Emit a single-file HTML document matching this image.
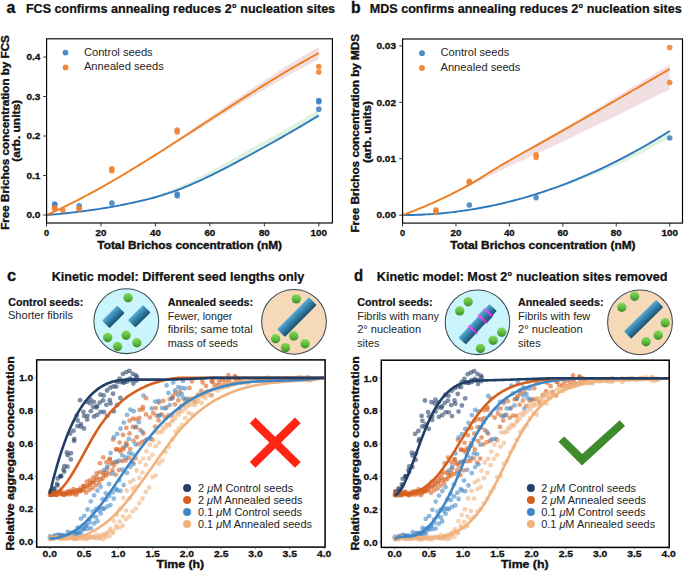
<!DOCTYPE html>
<html><head><meta charset="utf-8"><style>
html,body{margin:0;padding:0;background:#fff;}
svg{display:block;}
text{font-family:"Liberation Sans", sans-serif;}
</style></head><body>
<svg width="685" height="571" viewBox="0 0 685 571">
<rect width="685" height="571" fill="#fff"/>
<defs>
<linearGradient id="gball" x1="0" y1="0" x2="0" y2="1">
<stop offset="0" stop-color="#86d95c"/><stop offset="0.55" stop-color="#5dbb3e"/><stop offset="1" stop-color="#3b8a27"/>
</linearGradient>
<linearGradient id="gfib" x1="0" y1="0" x2="0" y2="1">
<stop offset="0" stop-color="#58aad2"/><stop offset="0.45" stop-color="#3583ac"/><stop offset="1" stop-color="#1b516d"/>
</linearGradient>
<linearGradient id="gmag" x1="0" y1="0" x2="0" y2="1">
<stop offset="0" stop-color="#f25cf8"/><stop offset="0.5" stop-color="#e63ff0"/><stop offset="1" stop-color="#b52ac8"/>
</linearGradient>
</defs>
<path d="M46.50,215.00 L49.22,213.80 L51.95,212.57 L54.67,211.33 L57.39,210.07 L60.11,208.79 L62.84,207.49 L65.56,206.17 L68.28,204.84 L71.01,203.48 L73.73,202.12 L76.45,200.73 L79.18,199.33 L81.90,197.91 L84.62,196.48 L87.34,195.03 L90.07,193.57 L92.79,192.09 L95.51,190.60 L98.24,189.10 L100.96,187.58 L103.68,186.05 L106.41,184.50 L109.13,182.95 L111.85,181.38 L114.58,179.80 L117.30,178.20 L120.02,176.60 L122.74,174.99 L125.47,173.36 L128.19,171.73 L130.91,170.00 L133.64,168.25 L136.36,166.50 L139.08,164.74 L141.81,162.97 L144.53,161.20 L147.25,159.41 L149.97,157.62 L152.70,155.82 L155.42,154.02 L158.14,152.20 L160.87,150.39 L163.59,148.56 L166.31,146.74 L169.03,144.90 L171.76,143.07 L174.48,141.22 L177.20,139.38 L179.93,137.53 L182.65,135.68 L185.37,133.82 L188.10,131.97 L190.82,130.11 L193.54,128.25 L196.26,126.39 L198.99,124.52 L201.71,122.66 L204.43,120.79 L207.16,118.93 L209.88,117.07 L212.60,115.20 L215.33,113.34 L218.05,111.48 L220.77,109.62 L223.50,107.76 L226.22,105.91 L228.94,104.06 L231.66,102.21 L234.39,100.36 L237.11,98.52 L239.83,96.68 L242.56,94.85 L245.28,93.02 L248.00,91.20 L250.72,89.38 L253.45,87.57 L256.17,85.76 L258.89,83.96 L261.62,82.17 L264.34,80.39 L267.06,78.61 L269.79,76.84 L272.51,75.08 L275.23,73.33 L277.95,71.58 L280.68,69.85 L283.40,68.12 L286.12,66.41 L288.85,64.70 L291.57,63.01 L294.29,61.33 L297.02,59.65 L299.74,57.99 L302.46,56.35 L305.19,54.71 L307.91,53.09 L310.63,51.48 L313.35,49.88 L316.08,48.30 L318.80,46.73 L318.80,59.37 L316.08,60.76 L313.35,62.16 L310.63,63.58 L307.91,65.01 L305.19,66.45 L302.46,67.90 L299.74,69.37 L297.02,70.85 L294.29,72.34 L291.57,73.84 L288.85,75.36 L286.12,76.88 L283.40,78.41 L280.68,79.96 L277.95,81.51 L275.23,83.08 L272.51,84.65 L269.79,86.23 L267.06,87.82 L264.34,89.42 L261.62,91.02 L258.89,92.63 L256.17,94.25 L253.45,95.88 L250.72,97.51 L248.00,99.14 L245.28,100.79 L242.56,102.43 L239.83,104.09 L237.11,105.74 L234.39,107.40 L231.66,109.07 L228.94,110.74 L226.22,112.41 L223.50,114.08 L220.77,115.76 L218.05,117.44 L215.33,119.12 L212.60,120.80 L209.88,122.48 L207.16,124.17 L204.43,125.85 L201.71,127.53 L198.99,129.22 L196.26,130.90 L193.54,132.58 L190.82,134.26 L188.10,135.94 L185.37,137.62 L182.65,139.29 L179.93,140.96 L177.20,142.63 L174.48,144.29 L171.76,145.96 L169.03,147.61 L166.31,149.26 L163.59,150.91 L160.87,152.55 L158.14,154.19 L155.42,155.82 L152.70,157.45 L149.97,159.06 L147.25,160.67 L144.53,162.28 L141.81,163.87 L139.08,165.46 L136.36,167.04 L133.64,168.61 L130.91,170.18 L128.19,171.73 L125.47,173.36 L122.74,174.99 L120.02,176.60 L117.30,178.20 L114.58,179.80 L111.85,181.38 L109.13,182.95 L106.41,184.50 L103.68,186.05 L100.96,187.58 L98.24,189.10 L95.51,190.60 L92.79,192.09 L90.07,193.57 L87.34,195.03 L84.62,196.48 L81.90,197.91 L79.18,199.33 L76.45,200.73 L73.73,202.12 L71.01,203.48 L68.28,204.84 L65.56,206.17 L62.84,207.49 L60.11,208.79 L57.39,210.07 L54.67,211.33 L51.95,212.57 L49.22,213.80 L46.50,215.00 Z" fill="#f2dfe2" stroke="none"/>
<path d="M46.50,215.00 L49.22,214.79 L51.95,214.57 L54.67,214.34 L57.39,214.09 L60.11,213.83 L62.84,213.56 L65.56,213.27 L68.28,212.97 L71.01,212.67 L73.73,212.35 L76.45,212.02 L79.18,211.68 L81.90,211.33 L84.62,210.98 L87.34,210.61 L90.07,210.24 L92.79,209.86 L95.51,209.47 L98.24,209.07 L100.96,208.65 L103.68,208.22 L106.41,207.78 L109.13,207.32 L111.85,206.84 L114.58,206.35 L117.30,205.84 L120.02,205.32 L122.74,204.79 L125.47,204.24 L128.19,203.68 L130.91,203.10 L133.64,202.51 L136.36,201.91 L139.08,201.29 L141.81,200.21 L144.53,199.29 L147.25,198.39 L149.97,197.50 L152.70,196.60 L155.42,195.67 L158.14,194.71 L160.87,193.71 L163.59,192.69 L166.31,191.64 L169.03,190.57 L171.76,189.48 L174.48,188.37 L177.20,187.25 L179.93,186.11 L182.65,184.92 L185.37,183.69 L188.10,182.42 L190.82,181.13 L193.54,179.81 L196.26,178.47 L198.99,177.11 L201.71,175.74 L204.43,174.35 L207.16,172.94 L209.88,171.51 L212.60,170.06 L215.33,168.60 L218.05,167.11 L220.77,165.62 L223.50,164.10 L226.22,162.58 L228.94,161.04 L231.66,159.50 L234.39,157.94 L237.11,156.38 L239.83,154.80 L242.56,153.23 L245.28,151.64 L248.00,150.06 L250.72,148.57 L253.45,147.08 L256.17,145.59 L258.89,144.10 L261.62,142.61 L264.34,141.11 L267.06,139.61 L269.79,138.09 L272.51,136.57 L275.23,135.04 L277.95,133.50 L280.68,131.96 L283.40,130.40 L286.12,128.84 L288.85,127.27 L291.57,125.70 L294.29,124.11 L297.02,122.52 L299.74,120.93 L302.46,119.32 L305.19,117.71 L307.91,116.09 L310.63,114.46 L313.35,112.82 L316.08,111.18 L318.80,109.53 L318.80,117.04 L316.08,118.69 L313.35,120.33 L310.63,121.96 L307.91,123.59 L305.19,125.21 L302.46,126.82 L299.74,128.43 L297.02,130.03 L294.29,131.62 L291.57,133.20 L288.85,134.78 L286.12,136.35 L283.40,137.91 L280.68,139.46 L277.95,141.01 L275.23,142.55 L272.51,144.08 L269.79,145.60 L267.06,147.11 L264.34,148.62 L261.62,150.12 L258.89,151.61 L256.17,153.10 L253.45,154.59 L250.72,156.07 L248.00,157.56 L245.28,159.04 L242.56,160.52 L239.83,161.95 L237.11,163.38 L234.39,164.80 L231.66,166.21 L228.94,167.60 L226.22,168.99 L223.50,170.36 L220.77,171.72 L218.05,173.07 L215.33,174.40 L212.60,175.71 L209.88,177.00 L207.16,178.27 L204.43,179.52 L201.71,180.75 L198.99,181.96 L196.26,183.15 L193.54,184.33 L190.82,185.48 L188.10,186.60 L185.37,187.69 L182.65,188.75 L179.93,189.76 L177.20,190.73 L174.48,191.66 L171.76,192.58 L169.03,193.48 L166.31,194.36 L163.59,195.21 L160.87,196.03 L158.14,196.81 L155.42,197.56 L152.70,198.26 L149.97,198.92 L147.25,199.56 L144.53,200.17 L141.81,200.78 L139.08,201.37 L136.36,201.95 L133.64,202.51 L130.91,203.10 L128.19,203.68 L125.47,204.24 L122.74,204.79 L120.02,205.32 L117.30,205.84 L114.58,206.35 L111.85,206.84 L109.13,207.32 L106.41,207.78 L103.68,208.22 L100.96,208.65 L98.24,209.07 L95.51,209.47 L92.79,209.86 L90.07,210.24 L87.34,210.61 L84.62,210.98 L81.90,211.33 L79.18,211.68 L76.45,212.02 L73.73,212.35 L71.01,212.67 L68.28,212.97 L65.56,213.27 L62.84,213.56 L60.11,213.83 L57.39,214.09 L54.67,214.34 L51.95,214.57 L49.22,214.79 L46.50,215.00 Z" fill="#e0f3e1" stroke="none"/>
<path d="M46.50,215.00 L49.22,214.79 L51.95,214.57 L54.67,214.34 L57.39,214.09 L60.11,213.83 L62.84,213.56 L65.56,213.27 L68.28,212.97 L71.01,212.67 L73.73,212.35 L76.45,212.02 L79.18,211.68 L81.90,211.33 L84.62,210.98 L87.34,210.61 L90.07,210.24 L92.79,209.86 L95.51,209.47 L98.24,209.07 L100.96,208.65 L103.68,208.22 L106.41,207.78 L109.13,207.32 L111.85,206.84 L114.58,206.35 L117.30,205.84 L120.02,205.32 L122.74,204.79 L125.47,204.24 L128.19,203.68 L130.91,203.10 L133.64,202.51 L136.36,201.91 L139.08,201.29 L141.81,200.66 L144.53,200.02 L147.25,199.36 L149.97,198.69 L152.70,197.99 L155.42,197.24 L158.14,196.45 L160.87,195.63 L163.59,194.77 L166.31,193.89 L169.03,192.97 L171.76,192.03 L174.48,191.07 L177.20,190.10 L179.93,189.09 L182.65,188.04 L185.37,186.94 L188.10,185.81 L190.82,184.65 L193.54,183.46 L196.26,182.24 L198.99,181.01 L201.71,179.77 L204.43,178.50 L207.16,177.21 L209.88,175.89 L212.60,174.56 L215.33,173.21 L218.05,171.84 L220.77,170.46 L223.50,169.06 L226.22,167.65 L228.94,166.22 L231.66,164.78 L234.39,163.34 L237.11,161.88 L239.83,160.41 L242.56,158.94 L245.28,157.46 L248.00,155.98 L250.72,154.49 L253.45,153.01 L256.17,151.52 L258.89,150.03 L261.62,148.54 L264.34,147.04 L267.06,145.53 L269.79,144.02 L272.51,142.50 L275.23,140.97 L277.95,139.43 L280.68,137.88 L283.40,136.33 L286.12,134.77 L288.85,133.20 L291.57,131.62 L294.29,130.04 L297.02,128.45 L299.74,126.85 L302.46,125.24 L305.19,123.63 L307.91,122.01 L310.63,120.38 L313.35,118.75 L316.08,117.11 L318.80,115.46" fill="none" stroke="#2f78bd" stroke-width="1.9" stroke-linejoin="round"/>
<path d="M46.50,215.00 L49.22,213.80 L51.95,212.57 L54.67,211.33 L57.39,210.07 L60.11,208.79 L62.84,207.49 L65.56,206.17 L68.28,204.84 L71.01,203.48 L73.73,202.12 L76.45,200.73 L79.18,199.33 L81.90,197.91 L84.62,196.48 L87.34,195.03 L90.07,193.57 L92.79,192.09 L95.51,190.60 L98.24,189.10 L100.96,187.58 L103.68,186.05 L106.41,184.50 L109.13,182.95 L111.85,181.38 L114.58,179.80 L117.30,178.20 L120.02,176.60 L122.74,174.99 L125.47,173.36 L128.19,171.73 L130.91,170.09 L133.64,168.43 L136.36,166.77 L139.08,165.10 L141.81,163.42 L144.53,161.74 L147.25,160.04 L149.97,158.34 L152.70,156.63 L155.42,154.92 L158.14,153.20 L160.87,151.47 L163.59,149.74 L166.31,148.00 L169.03,146.26 L171.76,144.51 L174.48,142.76 L177.20,141.00 L179.93,139.25 L182.65,137.48 L185.37,135.72 L188.10,133.95 L190.82,132.19 L193.54,130.41 L196.26,128.64 L198.99,126.87 L201.71,125.10 L204.43,123.32 L207.16,121.55 L209.88,119.77 L212.60,118.00 L215.33,116.23 L218.05,114.46 L220.77,112.69 L223.50,110.92 L226.22,109.16 L228.94,107.40 L231.66,105.64 L234.39,103.88 L237.11,102.13 L239.83,100.38 L242.56,98.64 L245.28,96.90 L248.00,95.17 L250.72,93.44 L253.45,91.72 L256.17,90.01 L258.89,88.30 L261.62,86.60 L264.34,84.90 L267.06,83.21 L269.79,81.53 L272.51,79.86 L275.23,78.20 L277.95,76.55 L280.68,74.90 L283.40,73.27 L286.12,71.64 L288.85,70.03 L291.57,68.43 L294.29,66.83 L297.02,65.25 L299.74,63.68 L302.46,62.12 L305.19,60.58 L307.91,59.05 L310.63,57.53 L313.35,56.02 L316.08,54.53 L318.80,53.05" fill="none" stroke="#ee7d1f" stroke-width="1.9" stroke-linejoin="round"/>
<circle cx="54.67" cy="203.94" r="2.8" fill="#3f84c2" fill-opacity="0.88"/>
<circle cx="54.67" cy="205.12" r="2.8" fill="#3f84c2" fill-opacity="0.88"/>
<circle cx="79.18" cy="205.91" r="2.8" fill="#3f84c2" fill-opacity="0.88"/>
<circle cx="111.85" cy="203.15" r="2.8" fill="#3f84c2" fill-opacity="0.88"/>
<circle cx="177.20" cy="194.06" r="2.8" fill="#3f84c2" fill-opacity="0.88"/>
<circle cx="177.20" cy="195.65" r="2.8" fill="#3f84c2" fill-opacity="0.88"/>
<circle cx="318.80" cy="100.45" r="2.8" fill="#3f84c2" fill-opacity="0.88"/>
<circle cx="318.80" cy="101.64" r="2.8" fill="#3f84c2" fill-opacity="0.88"/>
<circle cx="318.80" cy="109.14" r="2.8" fill="#3f84c2" fill-opacity="0.88"/>
<circle cx="54.67" cy="207.89" r="2.8" fill="#ef8130" fill-opacity="0.88"/>
<circle cx="54.67" cy="208.68" r="2.8" fill="#ef8130" fill-opacity="0.88"/>
<circle cx="62.84" cy="210.26" r="2.8" fill="#ef8130" fill-opacity="0.88"/>
<circle cx="79.18" cy="208.28" r="2.8" fill="#ef8130" fill-opacity="0.88"/>
<circle cx="79.18" cy="209.07" r="2.8" fill="#ef8130" fill-opacity="0.88"/>
<circle cx="111.85" cy="168.78" r="2.8" fill="#ef8130" fill-opacity="0.88"/>
<circle cx="111.85" cy="170.76" r="2.8" fill="#ef8130" fill-opacity="0.88"/>
<circle cx="177.20" cy="130.07" r="2.8" fill="#ef8130" fill-opacity="0.88"/>
<circle cx="177.20" cy="132.05" r="2.8" fill="#ef8130" fill-opacity="0.88"/>
<circle cx="318.80" cy="66.48" r="2.8" fill="#ef8130" fill-opacity="0.88"/>
<circle cx="318.80" cy="72.01" r="2.8" fill="#ef8130" fill-opacity="0.88"/>
<rect x="46.60" y="38.80" width="285.80" height="184.20" fill="none" stroke="#000" stroke-width="1.15"/>
<line x1="43.20" y1="215.00" x2="46.60" y2="215.00" stroke="#000" stroke-width="0.8"/>
<text x="40.30" y="218.30" font-size="8.6" font-weight="bold" textLength="13.9" lengthAdjust="spacingAndGlyphs" text-anchor="end" fill="#111" stroke="#111" stroke-width="0.3">0.0</text>
<line x1="43.20" y1="175.50" x2="46.60" y2="175.50" stroke="#000" stroke-width="0.8"/>
<text x="40.30" y="178.80" font-size="8.6" font-weight="bold" textLength="13.9" lengthAdjust="spacingAndGlyphs" text-anchor="end" fill="#111" stroke="#111" stroke-width="0.3">0.1</text>
<line x1="43.20" y1="136.00" x2="46.60" y2="136.00" stroke="#000" stroke-width="0.8"/>
<text x="40.30" y="139.30" font-size="8.6" font-weight="bold" textLength="13.9" lengthAdjust="spacingAndGlyphs" text-anchor="end" fill="#111" stroke="#111" stroke-width="0.3">0.2</text>
<line x1="43.20" y1="96.50" x2="46.60" y2="96.50" stroke="#000" stroke-width="0.8"/>
<text x="40.30" y="99.80" font-size="8.6" font-weight="bold" textLength="13.9" lengthAdjust="spacingAndGlyphs" text-anchor="end" fill="#111" stroke="#111" stroke-width="0.3">0.3</text>
<line x1="43.20" y1="57.00" x2="46.60" y2="57.00" stroke="#000" stroke-width="0.8"/>
<text x="40.30" y="60.30" font-size="8.6" font-weight="bold" textLength="13.9" lengthAdjust="spacingAndGlyphs" text-anchor="end" fill="#111" stroke="#111" stroke-width="0.3">0.4</text>
<line x1="46.50" y1="223.00" x2="46.50" y2="226.40" stroke="#000" stroke-width="0.8"/>
<text x="46.50" y="235.90" font-size="8.6" font-weight="bold" textLength="5.1" lengthAdjust="spacingAndGlyphs" text-anchor="middle" fill="#111" stroke="#111" stroke-width="0.3">0</text>
<line x1="100.96" y1="223.00" x2="100.96" y2="226.40" stroke="#000" stroke-width="0.8"/>
<text x="100.96" y="235.90" font-size="8.6" font-weight="bold" textLength="10.8" lengthAdjust="spacingAndGlyphs" text-anchor="middle" fill="#111" stroke="#111" stroke-width="0.3">20</text>
<line x1="155.42" y1="223.00" x2="155.42" y2="226.40" stroke="#000" stroke-width="0.8"/>
<text x="155.42" y="235.90" font-size="8.6" font-weight="bold" textLength="10.8" lengthAdjust="spacingAndGlyphs" text-anchor="middle" fill="#111" stroke="#111" stroke-width="0.3">40</text>
<line x1="209.88" y1="223.00" x2="209.88" y2="226.40" stroke="#000" stroke-width="0.8"/>
<text x="209.88" y="235.90" font-size="8.6" font-weight="bold" textLength="10.8" lengthAdjust="spacingAndGlyphs" text-anchor="middle" fill="#111" stroke="#111" stroke-width="0.3">60</text>
<line x1="264.34" y1="223.00" x2="264.34" y2="226.40" stroke="#000" stroke-width="0.8"/>
<text x="264.34" y="235.90" font-size="8.6" font-weight="bold" textLength="10.8" lengthAdjust="spacingAndGlyphs" text-anchor="middle" fill="#111" stroke="#111" stroke-width="0.3">80</text>
<line x1="318.80" y1="223.00" x2="318.80" y2="226.40" stroke="#000" stroke-width="0.8"/>
<text x="318.80" y="235.90" font-size="8.6" font-weight="bold" textLength="16.5" lengthAdjust="spacingAndGlyphs" text-anchor="middle" fill="#111" stroke="#111" stroke-width="0.3">100</text>
<text x="97.30" y="248.60" font-size="10" font-weight="bold" textLength="184.7" lengthAdjust="spacingAndGlyphs" fill="#111" stroke="#111" stroke-width="0.35">Total Brichos concentration (nM)</text>
<text transform="translate(9.00,132.50) rotate(-90)" x="0" y="0" font-size="10" font-weight="bold" stroke="#111" stroke-width="0.35" textLength="194.6" lengthAdjust="spacingAndGlyphs" text-anchor="middle" fill="#111">Free Brichos concentration by FCS</text>
<text transform="translate(19.50,130.80) rotate(-90)" x="0" y="0" font-size="10" font-weight="bold" stroke="#111" stroke-width="0.35" textLength="61.8" lengthAdjust="spacingAndGlyphs" text-anchor="middle" fill="#111">(arb. units)</text>
<circle cx="65.5" cy="52.6" r="2.9" fill="#4a8cc6"/>
<circle cx="65.5" cy="67.4" r="2.9" fill="#f0883a"/>
<text x="83.90" y="55.50" font-size="10" textLength="68.8" lengthAdjust="spacingAndGlyphs" fill="#262626">Control seeds</text>
<text x="83.90" y="70.10" font-size="10" textLength="79.9" lengthAdjust="spacingAndGlyphs" fill="#262626">Annealed seeds</text>
<path d="M402.50,215.10 L405.17,214.14 L407.84,213.15 L410.52,212.14 L413.19,211.11 L415.86,210.06 L418.53,208.98 L421.20,207.88 L423.88,206.77 L426.55,205.63 L429.22,204.48 L431.89,203.31 L434.56,202.12 L437.24,200.92 L439.91,199.70 L442.58,198.46 L445.25,197.19 L447.92,195.89 L450.60,194.57 L453.27,193.22 L455.94,191.84 L458.61,190.44 L461.28,189.02 L463.96,187.58 L466.63,186.12 L469.30,184.64 L471.97,183.07 L474.64,181.45 L477.32,179.78 L479.99,178.09 L482.66,176.37 L485.33,174.63 L488.00,172.90 L490.68,171.16 L493.35,169.44 L496.02,167.75 L498.69,166.08 L501.36,164.45 L504.04,162.83 L506.71,161.23 L509.38,159.64 L512.05,158.06 L514.72,156.48 L517.40,154.92 L520.07,153.36 L522.74,151.80 L525.41,150.25 L528.08,148.71 L530.76,147.17 L533.43,145.62 L536.10,144.09 L538.77,142.55 L541.44,141.00 L544.12,139.46 L546.79,137.92 L549.46,136.37 L552.13,134.81 L554.80,133.25 L557.48,131.68 L560.15,130.11 L562.82,128.53 L565.49,126.95 L568.16,125.37 L570.84,123.78 L573.51,122.20 L576.18,120.62 L578.85,119.03 L581.52,117.45 L584.20,115.86 L586.87,114.27 L589.54,112.68 L592.21,111.09 L594.88,109.50 L597.56,107.91 L600.23,106.32 L602.90,104.72 L605.57,103.13 L608.24,101.53 L610.92,99.94 L613.59,98.34 L616.26,96.74 L618.93,95.14 L621.60,93.54 L624.28,91.94 L626.95,90.33 L629.62,88.73 L632.29,87.12 L634.96,85.51 L637.64,83.91 L640.31,82.30 L642.98,80.69 L645.65,79.08 L648.32,77.46 L651.00,75.85 L653.67,74.23 L656.34,72.62 L659.01,71.00 L661.68,69.38 L664.36,67.76 L667.03,66.14 L669.70,64.51 L669.70,89.33 L667.03,90.66 L664.36,92.00 L661.68,93.33 L659.01,94.66 L656.34,95.98 L653.67,97.31 L651.00,98.64 L648.32,99.96 L645.65,101.28 L642.98,102.60 L640.31,103.92 L637.64,105.24 L634.96,106.55 L632.29,107.87 L629.62,109.18 L626.95,110.49 L624.28,111.80 L621.60,113.11 L618.93,114.42 L616.26,115.72 L613.59,117.02 L610.92,118.33 L608.24,119.63 L605.57,120.93 L602.90,122.22 L600.23,123.52 L597.56,124.82 L594.88,126.11 L592.21,127.40 L589.54,128.69 L586.87,129.98 L584.20,131.27 L581.52,132.55 L578.85,133.84 L576.18,135.12 L573.51,136.40 L570.84,137.68 L568.16,138.96 L565.49,140.24 L562.82,141.51 L560.15,142.79 L557.48,144.06 L554.80,145.32 L552.13,146.57 L549.46,147.82 L546.79,149.06 L544.12,150.30 L541.44,151.53 L538.77,152.76 L536.10,153.99 L533.43,155.21 L530.76,156.44 L528.08,157.67 L525.41,158.90 L522.74,160.13 L520.07,161.37 L517.40,162.61 L514.72,163.86 L512.05,165.11 L509.38,166.37 L506.71,167.64 L504.04,168.92 L501.36,170.21 L498.69,171.51 L496.02,172.85 L493.35,174.22 L490.68,175.60 L488.00,177.00 L485.33,178.40 L482.66,179.79 L479.99,181.17 L477.32,182.52 L474.64,183.83 L471.97,185.10 L469.30,186.32 L466.63,187.49 L463.96,188.64 L461.28,189.76 L458.61,190.84 L455.94,191.84 L453.27,193.22 L450.60,194.57 L447.92,195.89 L445.25,197.19 L442.58,198.46 L439.91,199.70 L437.24,200.92 L434.56,202.12 L431.89,203.31 L429.22,204.48 L426.55,205.63 L423.88,206.77 L421.20,207.88 L418.53,208.98 L415.86,210.06 L413.19,211.11 L410.52,212.14 L407.84,213.15 L405.17,214.14 L402.50,215.10 Z" fill="#f2dfe2" stroke="none"/>
<path d="M402.50,215.10 L405.17,215.09 L407.84,215.07 L410.52,215.02 L413.19,214.97 L415.86,214.89 L418.53,214.80 L421.20,214.69 L423.88,214.56 L426.55,214.42 L429.22,214.26 L431.89,214.08 L434.56,213.89 L437.24,213.68 L439.91,213.45 L442.58,213.21 L445.25,212.95 L447.92,212.67 L450.60,212.38 L453.27,212.07 L455.94,211.74 L458.61,211.39 L461.28,211.03 L463.96,210.65 L466.63,210.26 L469.30,209.85 L471.97,209.42 L474.64,208.97 L477.32,208.51 L479.99,208.03 L482.66,207.54 L485.33,207.02 L488.00,206.49 L490.68,205.95 L493.35,205.39 L496.02,204.81 L498.69,204.21 L501.36,203.60 L504.04,202.97 L506.71,202.32 L509.38,201.65 L512.05,200.97 L514.72,200.28 L517.40,199.56 L520.07,198.83 L522.74,198.08 L525.41,197.32 L528.08,196.54 L530.76,195.74 L533.43,194.92 L536.10,194.09 L538.77,193.22 L541.44,192.33 L544.12,191.43 L546.79,190.50 L549.46,189.57 L552.13,188.61 L554.80,187.64 L557.48,186.65 L560.15,185.64 L562.82,184.62 L565.49,183.58 L568.16,182.53 L570.84,181.45 L573.51,180.36 L576.18,179.26 L578.85,178.13 L581.52,176.99 L584.20,175.84 L586.87,174.66 L589.54,173.47 L592.21,172.26 L594.88,171.04 L597.56,169.80 L600.23,168.54 L602.90,167.27 L605.57,165.97 L608.24,164.67 L610.92,163.34 L613.59,162.00 L616.26,160.64 L618.93,159.26 L621.60,157.87 L624.28,156.46 L626.95,155.04 L629.62,153.59 L632.29,152.13 L634.96,150.66 L637.64,149.17 L640.31,147.66 L642.98,146.13 L645.65,144.58 L648.32,143.02 L651.00,141.45 L653.67,139.85 L656.34,138.24 L659.01,136.61 L661.68,134.97 L664.36,133.31 L667.03,131.63 L669.70,129.94 L669.70,137.83 L667.03,139.37 L664.36,140.89 L661.68,142.39 L659.01,143.88 L656.34,145.35 L653.67,146.80 L651.00,148.24 L648.32,149.66 L645.65,151.06 L642.98,152.45 L640.31,153.81 L637.64,155.17 L634.96,156.50 L632.29,157.82 L629.62,159.12 L626.95,160.41 L624.28,161.67 L621.60,162.93 L618.93,164.16 L616.26,165.38 L613.59,166.58 L610.92,167.76 L608.24,168.93 L605.57,170.08 L602.90,171.21 L600.23,172.33 L597.56,173.43 L594.88,174.51 L592.21,175.58 L589.54,176.63 L586.87,177.66 L584.20,178.68 L581.52,179.68 L578.85,180.66 L576.18,181.63 L573.51,182.57 L570.84,183.51 L568.16,184.42 L565.49,185.32 L562.82,186.20 L560.15,187.07 L557.48,187.91 L554.80,188.74 L552.13,189.56 L549.46,190.36 L546.79,191.14 L544.12,191.90 L541.44,192.65 L538.77,193.38 L536.10,194.09 L533.43,194.92 L530.76,195.74 L528.08,196.54 L525.41,197.32 L522.74,198.08 L520.07,198.83 L517.40,199.56 L514.72,200.28 L512.05,200.97 L509.38,201.65 L506.71,202.32 L504.04,202.97 L501.36,203.60 L498.69,204.21 L496.02,204.81 L493.35,205.39 L490.68,205.95 L488.00,206.49 L485.33,207.02 L482.66,207.54 L479.99,208.03 L477.32,208.51 L474.64,208.97 L471.97,209.42 L469.30,209.85 L466.63,210.26 L463.96,210.65 L461.28,211.03 L458.61,211.39 L455.94,211.74 L453.27,212.07 L450.60,212.38 L447.92,212.67 L445.25,212.95 L442.58,213.21 L439.91,213.45 L437.24,213.68 L434.56,213.89 L431.89,214.08 L429.22,214.26 L426.55,214.42 L423.88,214.56 L421.20,214.69 L418.53,214.80 L415.86,214.89 L413.19,214.97 L410.52,215.02 L407.84,215.07 L405.17,215.09 L402.50,215.10 Z" fill="#e0f3e1" stroke="none"/>
<path d="M402.50,215.10 L405.17,215.09 L407.84,215.07 L410.52,215.02 L413.19,214.97 L415.86,214.89 L418.53,214.80 L421.20,214.69 L423.88,214.56 L426.55,214.42 L429.22,214.26 L431.89,214.08 L434.56,213.89 L437.24,213.68 L439.91,213.45 L442.58,213.21 L445.25,212.95 L447.92,212.67 L450.60,212.38 L453.27,212.07 L455.94,211.74 L458.61,211.39 L461.28,211.03 L463.96,210.65 L466.63,210.26 L469.30,209.85 L471.97,209.42 L474.64,208.97 L477.32,208.51 L479.99,208.03 L482.66,207.54 L485.33,207.02 L488.00,206.49 L490.68,205.95 L493.35,205.39 L496.02,204.81 L498.69,204.21 L501.36,203.60 L504.04,202.97 L506.71,202.32 L509.38,201.65 L512.05,200.97 L514.72,200.28 L517.40,199.56 L520.07,198.83 L522.74,198.08 L525.41,197.32 L528.08,196.54 L530.76,195.74 L533.43,194.92 L536.10,194.09 L538.77,193.24 L541.44,192.38 L544.12,191.49 L546.79,190.60 L549.46,189.68 L552.13,188.75 L554.80,187.80 L557.48,186.83 L560.15,185.85 L562.82,184.85 L565.49,183.83 L568.16,182.80 L570.84,181.75 L573.51,180.68 L576.18,179.59 L578.85,178.49 L581.52,177.38 L584.20,176.24 L586.87,175.09 L589.54,173.92 L592.21,172.74 L594.88,171.54 L597.56,170.32 L600.23,169.08 L602.90,167.83 L605.57,166.56 L608.24,165.28 L610.92,163.97 L613.59,162.65 L616.26,161.32 L618.93,159.96 L621.60,158.59 L624.28,157.21 L626.95,155.80 L629.62,154.38 L632.29,152.95 L634.96,151.49 L637.64,150.02 L640.31,148.54 L642.98,147.03 L645.65,145.51 L648.32,143.97 L651.00,142.42 L653.67,140.85 L656.34,139.26 L659.01,137.65 L661.68,136.03 L664.36,134.39 L667.03,132.74 L669.70,131.06" fill="none" stroke="#2f78bd" stroke-width="1.9" stroke-linejoin="round"/>
<path d="M402.50,215.10 L405.17,214.14 L407.84,213.15 L410.52,212.14 L413.19,211.11 L415.86,210.06 L418.53,208.98 L421.20,207.88 L423.88,206.77 L426.55,205.63 L429.22,204.48 L431.89,203.31 L434.56,202.12 L437.24,200.92 L439.91,199.70 L442.58,198.46 L445.25,197.19 L447.92,195.89 L450.60,194.57 L453.27,193.22 L455.94,191.84 L458.61,190.44 L461.28,189.02 L463.96,187.58 L466.63,186.12 L469.30,184.64 L471.97,183.13 L474.64,181.57 L477.32,179.96 L479.99,178.33 L482.66,176.67 L485.33,175.00 L488.00,173.32 L490.68,171.65 L493.35,169.99 L496.02,168.35 L498.69,166.74 L501.36,165.17 L504.04,163.62 L506.71,162.07 L509.38,160.54 L512.05,159.02 L514.72,157.50 L517.40,156.00 L520.07,154.50 L522.74,153.00 L525.41,151.52 L528.08,150.03 L530.76,148.55 L533.43,147.07 L536.10,145.59 L538.77,144.11 L541.44,142.63 L544.12,141.15 L546.79,139.66 L549.46,138.17 L552.13,136.68 L554.80,135.18 L557.48,133.67 L560.15,132.15 L562.82,130.63 L565.49,129.11 L568.16,127.59 L570.84,126.07 L573.51,124.55 L576.18,123.02 L578.85,121.50 L581.52,119.97 L584.20,118.45 L586.87,116.92 L589.54,115.39 L592.21,113.86 L594.88,112.33 L597.56,110.80 L600.23,109.27 L602.90,107.73 L605.57,106.20 L608.24,104.66 L610.92,103.13 L613.59,101.59 L616.26,100.05 L618.93,98.51 L621.60,96.97 L624.28,95.43 L626.95,93.88 L629.62,92.34 L632.29,90.79 L634.96,89.24 L637.64,87.70 L640.31,86.15 L642.98,84.60 L645.65,83.05 L648.32,81.49 L651.00,79.94 L653.67,78.38 L656.34,76.83 L659.01,75.27 L661.68,73.71 L664.36,72.15 L667.03,70.59 L669.70,69.02" fill="none" stroke="#ee7d1f" stroke-width="1.9" stroke-linejoin="round"/>
<circle cx="469.30" cy="204.95" r="2.8" fill="#3f84c2" fill-opacity="0.88"/>
<circle cx="536.10" cy="197.62" r="2.8" fill="#3f84c2" fill-opacity="0.88"/>
<circle cx="669.70" cy="138.00" r="2.8" fill="#3f84c2" fill-opacity="0.88"/>
<circle cx="435.90" cy="210.02" r="2.8" fill="#ef8130" fill-opacity="0.88"/>
<circle cx="435.90" cy="211.72" r="2.8" fill="#ef8130" fill-opacity="0.88"/>
<circle cx="469.30" cy="181.26" r="2.8" fill="#ef8130" fill-opacity="0.88"/>
<circle cx="469.30" cy="182.39" r="2.8" fill="#ef8130" fill-opacity="0.88"/>
<circle cx="536.10" cy="154.75" r="2.8" fill="#ef8130" fill-opacity="0.88"/>
<circle cx="536.10" cy="157.57" r="2.8" fill="#ef8130" fill-opacity="0.88"/>
<circle cx="669.70" cy="47.59" r="2.8" fill="#ef8130" fill-opacity="0.88"/>
<circle cx="669.70" cy="82.56" r="2.8" fill="#ef8130" fill-opacity="0.88"/>
<rect x="402.60" y="39.00" width="279.90" height="184.10" fill="none" stroke="#000" stroke-width="1.15"/>
<line x1="399.20" y1="215.10" x2="402.60" y2="215.10" stroke="#000" stroke-width="0.8"/>
<text x="396.00" y="218.40" font-size="8.6" font-weight="bold" textLength="19.6" lengthAdjust="spacingAndGlyphs" text-anchor="end" fill="#111" stroke="#111" stroke-width="0.3">0.00</text>
<line x1="399.20" y1="158.70" x2="402.60" y2="158.70" stroke="#000" stroke-width="0.8"/>
<text x="396.00" y="162.00" font-size="8.6" font-weight="bold" textLength="19.6" lengthAdjust="spacingAndGlyphs" text-anchor="end" fill="#111" stroke="#111" stroke-width="0.3">0.01</text>
<line x1="399.20" y1="102.30" x2="402.60" y2="102.30" stroke="#000" stroke-width="0.8"/>
<text x="396.00" y="105.60" font-size="8.6" font-weight="bold" textLength="19.6" lengthAdjust="spacingAndGlyphs" text-anchor="end" fill="#111" stroke="#111" stroke-width="0.3">0.02</text>
<line x1="399.20" y1="45.90" x2="402.60" y2="45.90" stroke="#000" stroke-width="0.8"/>
<text x="396.00" y="49.20" font-size="8.6" font-weight="bold" textLength="19.6" lengthAdjust="spacingAndGlyphs" text-anchor="end" fill="#111" stroke="#111" stroke-width="0.3">0.03</text>
<line x1="402.50" y1="223.10" x2="402.50" y2="226.50" stroke="#000" stroke-width="0.8"/>
<text x="402.50" y="235.90" font-size="8.6" font-weight="bold" textLength="5.1" lengthAdjust="spacingAndGlyphs" text-anchor="middle" fill="#111" stroke="#111" stroke-width="0.3">0</text>
<line x1="455.94" y1="223.10" x2="455.94" y2="226.50" stroke="#000" stroke-width="0.8"/>
<text x="455.94" y="235.90" font-size="8.6" font-weight="bold" textLength="10.8" lengthAdjust="spacingAndGlyphs" text-anchor="middle" fill="#111" stroke="#111" stroke-width="0.3">20</text>
<line x1="509.38" y1="223.10" x2="509.38" y2="226.50" stroke="#000" stroke-width="0.8"/>
<text x="509.38" y="235.90" font-size="8.6" font-weight="bold" textLength="10.8" lengthAdjust="spacingAndGlyphs" text-anchor="middle" fill="#111" stroke="#111" stroke-width="0.3">40</text>
<line x1="562.82" y1="223.10" x2="562.82" y2="226.50" stroke="#000" stroke-width="0.8"/>
<text x="562.82" y="235.90" font-size="8.6" font-weight="bold" textLength="10.8" lengthAdjust="spacingAndGlyphs" text-anchor="middle" fill="#111" stroke="#111" stroke-width="0.3">60</text>
<line x1="616.26" y1="223.10" x2="616.26" y2="226.50" stroke="#000" stroke-width="0.8"/>
<text x="616.26" y="235.90" font-size="8.6" font-weight="bold" textLength="10.8" lengthAdjust="spacingAndGlyphs" text-anchor="middle" fill="#111" stroke="#111" stroke-width="0.3">80</text>
<line x1="669.70" y1="223.10" x2="669.70" y2="226.50" stroke="#000" stroke-width="0.8"/>
<text x="669.70" y="235.90" font-size="8.6" font-weight="bold" textLength="16.5" lengthAdjust="spacingAndGlyphs" text-anchor="middle" fill="#111" stroke="#111" stroke-width="0.3">100</text>
<text x="450.30" y="248.60" font-size="10" font-weight="bold" textLength="185.2" lengthAdjust="spacingAndGlyphs" fill="#111" stroke="#111" stroke-width="0.35">Total Brichos concentration (nM)</text>
<text transform="translate(359.00,133.20) rotate(-90)" x="0" y="0" font-size="10" font-weight="bold" stroke="#111" stroke-width="0.35" textLength="198.7" lengthAdjust="spacingAndGlyphs" text-anchor="middle" fill="#111">Free Brichos concentration by MDS</text>
<text transform="translate(370.50,132.00) rotate(-90)" x="0" y="0" font-size="10" font-weight="bold" stroke="#111" stroke-width="0.35" textLength="62.1" lengthAdjust="spacingAndGlyphs" text-anchor="middle" fill="#111">(arb. units)</text>
<circle cx="422.0" cy="53.2" r="2.9" fill="#4a8cc6"/>
<circle cx="422.0" cy="68.0" r="2.9" fill="#f0883a"/>
<text x="440.50" y="56.10" font-size="10" textLength="68.8" lengthAdjust="spacingAndGlyphs" fill="#262626">Control seeds</text>
<text x="440.50" y="70.70" font-size="10" textLength="79.9" lengthAdjust="spacingAndGlyphs" fill="#262626">Annealed seeds</text>
<text x="6.60" y="13.40" font-size="17.2" font-weight="bold" textLength="8.8" lengthAdjust="spacingAndGlyphs" fill="#111" stroke="#111" stroke-width="0.35">a</text>
<text x="25.90" y="13.30" font-size="12.3" font-weight="bold" textLength="309.2" lengthAdjust="spacingAndGlyphs" fill="#111" stroke="#111" stroke-width="0.22">FCS confirms annealing reduces 2° nucleation sites</text>
<text x="351.10" y="13.40" font-size="17.2" font-weight="bold" textLength="9.6" lengthAdjust="spacingAndGlyphs" fill="#111" stroke="#111" stroke-width="0.35">b</text>
<text x="369.80" y="13.30" font-size="12.3" font-weight="bold" textLength="311.9" lengthAdjust="spacingAndGlyphs" fill="#111" stroke="#111" stroke-width="0.22">MDS confirms annealing reduces 2° nucleation sites</text>
<text x="7.00" y="280.80" font-size="17.2" font-weight="bold" textLength="9.1" lengthAdjust="spacingAndGlyphs" fill="#111" stroke="#111" stroke-width="0.35">c</text>
<text x="51.70" y="280.60" font-size="12.3" font-weight="bold" textLength="252.6" lengthAdjust="spacingAndGlyphs" fill="#111" stroke="#111" stroke-width="0.22">Kinetic model: Different seed lengths only</text>
<text x="354.00" y="280.80" font-size="17.2" font-weight="bold" textLength="9.1" lengthAdjust="spacingAndGlyphs" fill="#111" stroke="#111" stroke-width="0.35">d</text>
<text x="376.80" y="280.60" font-size="12.3" font-weight="bold" textLength="290.8" lengthAdjust="spacingAndGlyphs" fill="#111" stroke="#111" stroke-width="0.22">Kinetic model: Most 2° nucleation sites removed</text>
<text x="8.30" y="305.60" font-size="10.4" font-weight="bold" textLength="75.0" lengthAdjust="spacingAndGlyphs" fill="#111" stroke="#111" stroke-width="0.2">Control seeds:</text>
<text x="8.00" y="319.40" font-size="10.4" textLength="65.0" lengthAdjust="spacingAndGlyphs" fill="#1e1e1e">Shorter fibrils</text>
<text x="167.70" y="305.60" font-size="10.4" font-weight="bold" textLength="85.4" lengthAdjust="spacingAndGlyphs" fill="#111" stroke="#111" stroke-width="0.2">Annealed seeds:</text>
<text x="167.70" y="319.70" font-size="10.4" textLength="64.6" lengthAdjust="spacingAndGlyphs" fill="#1e1e1e">Fewer, longer</text>
<text x="167.70" y="333.10" font-size="10.4" textLength="85.1" lengthAdjust="spacingAndGlyphs" fill="#1e1e1e">fibrils; same total</text>
<text x="167.70" y="346.50" font-size="10.4" textLength="70.2" lengthAdjust="spacingAndGlyphs" fill="#1e1e1e">mass of seeds</text>
<text x="357.20" y="305.60" font-size="10.4" font-weight="bold" textLength="75.5" lengthAdjust="spacingAndGlyphs" fill="#111" stroke="#111" stroke-width="0.2">Control seeds:</text>
<text x="357.20" y="319.50" font-size="10.4" textLength="81.9" lengthAdjust="spacingAndGlyphs" fill="#1e1e1e">Fibrils with many</text>
<text x="357.20" y="333.00" font-size="10.4" textLength="63.9" lengthAdjust="spacingAndGlyphs" fill="#1e1e1e">2° nucleation</text>
<text x="357.20" y="346.50" font-size="10.4" textLength="22.1" lengthAdjust="spacingAndGlyphs" fill="#1e1e1e">sites</text>
<text x="518.00" y="305.60" font-size="10.4" font-weight="bold" textLength="85.5" lengthAdjust="spacingAndGlyphs" fill="#111" stroke="#111" stroke-width="0.2">Annealed seeds:</text>
<text x="518.00" y="319.50" font-size="10.4" textLength="72.3" lengthAdjust="spacingAndGlyphs" fill="#1e1e1e">Fibrils with few</text>
<text x="518.00" y="333.00" font-size="10.4" textLength="64.6" lengthAdjust="spacingAndGlyphs" fill="#1e1e1e">2° nucleation</text>
<text x="518.00" y="346.50" font-size="10.4" textLength="22.8" lengthAdjust="spacingAndGlyphs" fill="#1e1e1e">sites</text>
<circle cx="126.30" cy="321.20" r="32.4" fill="#cbf5fc" stroke="#3a4852" stroke-width="1.05"/>
<g transform="translate(113.40,316.90) rotate(-45.0)">
<rect x="-10.70" y="-5.25" width="21.40" height="10.50" rx="1" fill="url(#gfib)"/>
</g>
<g transform="translate(139.20,316.30) rotate(-45.0)">
<rect x="-10.70" y="-5.25" width="21.40" height="10.50" rx="1" fill="url(#gfib)"/>
</g>
<circle cx="128.10" cy="297.70" r="4.7" fill="url(#gball)"/>
<circle cx="107.70" cy="337.50" r="4.7" fill="url(#gball)"/>
<circle cx="126.10" cy="335.20" r="4.7" fill="url(#gball)"/>
<circle cx="117.60" cy="346.50" r="4.7" fill="url(#gball)"/>
<circle cx="136.90" cy="342.80" r="4.7" fill="url(#gball)"/>
<circle cx="294.00" cy="321.80" r="32.4" fill="#f6d9b9" stroke="#3a4852" stroke-width="1.05"/>
<g transform="translate(296.90,317.10) rotate(-45.0)">
<rect x="-22.50" y="-5.45" width="45.00" height="10.90" rx="1" fill="url(#gfib)"/>
</g>
<circle cx="296.30" cy="298.90" r="4.7" fill="url(#gball)"/>
<circle cx="275.60" cy="338.80" r="4.7" fill="url(#gball)"/>
<circle cx="293.80" cy="336.00" r="4.7" fill="url(#gball)"/>
<circle cx="285.50" cy="347.60" r="4.7" fill="url(#gball)"/>
<circle cx="305.00" cy="343.70" r="4.7" fill="url(#gball)"/>
<circle cx="477.50" cy="322.30" r="32.3" fill="#cbf5fc" stroke="#3a4852" stroke-width="1.05"/>
<g transform="translate(477.70,324.30) rotate(-47.4)">
<rect x="-22.90" y="-5.00" width="45.80" height="10.00" rx="1" fill="url(#gfib)"/>
<rect x="6.50" y="-5.80" width="9.90" height="11.60" fill="url(#gfib)"/>
<rect x="-8.30" y="-5.80" width="2.2" height="11.60" fill="url(#gmag)"/>
<rect x="6.00" y="-5.80" width="2.2" height="11.60" fill="url(#gmag)"/>
<rect x="14.70" y="-5.80" width="2.2" height="11.60" fill="url(#gmag)"/>
</g>
<circle cx="468.20" cy="301.80" r="4.7" fill="url(#gball)"/>
<circle cx="459.70" cy="310.90" r="4.7" fill="url(#gball)"/>
<circle cx="501.70" cy="332.30" r="4.7" fill="url(#gball)"/>
<circle cx="493.20" cy="340.20" r="4.7" fill="url(#gball)"/>
<circle cx="480.50" cy="348.40" r="4.7" fill="url(#gball)"/>
<circle cx="640.00" cy="322.30" r="32.4" fill="#f6d9b9" stroke="#3a4852" stroke-width="1.05"/>
<g transform="translate(643.70,319.20) rotate(-44.4)">
<rect x="-22.50" y="-5.15" width="45.00" height="10.30" rx="1" fill="url(#gfib)"/>
</g>
<circle cx="634.60" cy="296.20" r="4.7" fill="url(#gball)"/>
<circle cx="621.80" cy="307.30" r="4.7" fill="url(#gball)"/>
<circle cx="665.20" cy="322.80" r="4.7" fill="url(#gball)"/>
<circle cx="658.20" cy="335.20" r="4.7" fill="url(#gball)"/>
<circle cx="646.00" cy="341.70" r="4.7" fill="url(#gball)"/>
<g>
<circle cx="51.0" cy="494.9" r="2.4" fill="#203e66" fill-opacity="0.58"/>
<circle cx="54.3" cy="492.1" r="2.4" fill="#203e66" fill-opacity="0.58"/>
<circle cx="57.6" cy="485.4" r="2.4" fill="#203e66" fill-opacity="0.58"/>
<circle cx="60.9" cy="475.8" r="2.4" fill="#203e66" fill-opacity="0.58"/>
<circle cx="64.2" cy="471.7" r="2.4" fill="#203e66" fill-opacity="0.58"/>
<circle cx="67.5" cy="466.7" r="2.4" fill="#203e66" fill-opacity="0.58"/>
<circle cx="70.8" cy="459.4" r="2.4" fill="#203e66" fill-opacity="0.58"/>
<circle cx="74.1" cy="440.9" r="2.4" fill="#203e66" fill-opacity="0.58"/>
<circle cx="77.4" cy="426.2" r="2.4" fill="#203e66" fill-opacity="0.58"/>
<circle cx="80.7" cy="426.7" r="2.4" fill="#203e66" fill-opacity="0.58"/>
<circle cx="84.0" cy="428.5" r="2.4" fill="#203e66" fill-opacity="0.58"/>
<circle cx="87.2" cy="419.6" r="2.4" fill="#203e66" fill-opacity="0.58"/>
<circle cx="90.5" cy="399.3" r="2.4" fill="#203e66" fill-opacity="0.58"/>
<circle cx="93.8" cy="401.8" r="2.4" fill="#203e66" fill-opacity="0.58"/>
<circle cx="97.1" cy="406.0" r="2.4" fill="#203e66" fill-opacity="0.58"/>
<circle cx="100.4" cy="394.7" r="2.4" fill="#203e66" fill-opacity="0.58"/>
<circle cx="103.7" cy="395.4" r="2.4" fill="#203e66" fill-opacity="0.58"/>
<circle cx="107.0" cy="390.5" r="2.4" fill="#203e66" fill-opacity="0.58"/>
<circle cx="110.3" cy="387.7" r="2.4" fill="#203e66" fill-opacity="0.58"/>
<circle cx="113.6" cy="386.4" r="2.4" fill="#203e66" fill-opacity="0.58"/>
<circle cx="116.9" cy="381.7" r="2.4" fill="#203e66" fill-opacity="0.58"/>
<circle cx="120.2" cy="382.2" r="2.4" fill="#203e66" fill-opacity="0.58"/>
<circle cx="123.5" cy="382.6" r="2.4" fill="#203e66" fill-opacity="0.58"/>
<circle cx="126.8" cy="379.9" r="2.4" fill="#203e66" fill-opacity="0.58"/>
<circle cx="130.1" cy="378.7" r="2.4" fill="#203e66" fill-opacity="0.58"/>
<circle cx="133.3" cy="383.6" r="2.4" fill="#203e66" fill-opacity="0.58"/>
<circle cx="136.6" cy="380.7" r="2.4" fill="#203e66" fill-opacity="0.58"/>
<circle cx="51.2" cy="490.9" r="2.4" fill="#203e66" fill-opacity="0.58"/>
<circle cx="54.5" cy="489.0" r="2.4" fill="#203e66" fill-opacity="0.58"/>
<circle cx="57.8" cy="478.5" r="2.4" fill="#203e66" fill-opacity="0.58"/>
<circle cx="61.1" cy="476.2" r="2.4" fill="#203e66" fill-opacity="0.58"/>
<circle cx="64.4" cy="466.2" r="2.4" fill="#203e66" fill-opacity="0.58"/>
<circle cx="67.7" cy="455.2" r="2.4" fill="#203e66" fill-opacity="0.58"/>
<circle cx="71.0" cy="453.2" r="2.4" fill="#203e66" fill-opacity="0.58"/>
<circle cx="74.3" cy="438.9" r="2.4" fill="#203e66" fill-opacity="0.58"/>
<circle cx="77.6" cy="420.5" r="2.4" fill="#203e66" fill-opacity="0.58"/>
<circle cx="80.9" cy="424.1" r="2.4" fill="#203e66" fill-opacity="0.58"/>
<circle cx="84.2" cy="416.0" r="2.4" fill="#203e66" fill-opacity="0.58"/>
<circle cx="87.5" cy="415.8" r="2.4" fill="#203e66" fill-opacity="0.58"/>
<circle cx="90.8" cy="411.2" r="2.4" fill="#203e66" fill-opacity="0.58"/>
<circle cx="94.0" cy="416.5" r="2.4" fill="#203e66" fill-opacity="0.58"/>
<circle cx="97.3" cy="414.9" r="2.4" fill="#203e66" fill-opacity="0.58"/>
<circle cx="100.6" cy="412.0" r="2.4" fill="#203e66" fill-opacity="0.58"/>
<circle cx="103.9" cy="412.0" r="2.4" fill="#203e66" fill-opacity="0.58"/>
<circle cx="107.2" cy="415.8" r="2.4" fill="#203e66" fill-opacity="0.58"/>
<circle cx="110.5" cy="403.4" r="2.4" fill="#203e66" fill-opacity="0.58"/>
<circle cx="113.8" cy="411.3" r="2.4" fill="#203e66" fill-opacity="0.58"/>
<circle cx="117.1" cy="405.2" r="2.4" fill="#203e66" fill-opacity="0.58"/>
<circle cx="120.4" cy="398.0" r="2.4" fill="#203e66" fill-opacity="0.58"/>
<circle cx="123.7" cy="382.4" r="2.4" fill="#203e66" fill-opacity="0.58"/>
<circle cx="127.0" cy="381.7" r="2.4" fill="#203e66" fill-opacity="0.58"/>
<circle cx="130.3" cy="380.0" r="2.4" fill="#203e66" fill-opacity="0.58"/>
<circle cx="133.6" cy="379.8" r="2.4" fill="#203e66" fill-opacity="0.58"/>
<circle cx="136.9" cy="377.2" r="2.4" fill="#203e66" fill-opacity="0.58"/>
<circle cx="50.4" cy="491.7" r="2.4" fill="#203e66" fill-opacity="0.58"/>
<circle cx="53.7" cy="488.2" r="2.4" fill="#203e66" fill-opacity="0.58"/>
<circle cx="57.0" cy="484.0" r="2.4" fill="#203e66" fill-opacity="0.58"/>
<circle cx="60.3" cy="476.6" r="2.4" fill="#203e66" fill-opacity="0.58"/>
<circle cx="63.6" cy="469.6" r="2.4" fill="#203e66" fill-opacity="0.58"/>
<circle cx="66.9" cy="452.4" r="2.4" fill="#203e66" fill-opacity="0.58"/>
<circle cx="70.2" cy="433.5" r="2.4" fill="#203e66" fill-opacity="0.58"/>
<circle cx="73.5" cy="430.7" r="2.4" fill="#203e66" fill-opacity="0.58"/>
<circle cx="76.8" cy="415.6" r="2.4" fill="#203e66" fill-opacity="0.58"/>
<circle cx="80.1" cy="400.2" r="2.4" fill="#203e66" fill-opacity="0.58"/>
<circle cx="83.4" cy="411.8" r="2.4" fill="#203e66" fill-opacity="0.58"/>
<circle cx="86.7" cy="401.8" r="2.4" fill="#203e66" fill-opacity="0.58"/>
<circle cx="89.9" cy="403.2" r="2.4" fill="#203e66" fill-opacity="0.58"/>
<circle cx="93.2" cy="407.0" r="2.4" fill="#203e66" fill-opacity="0.58"/>
<circle cx="96.5" cy="407.5" r="2.4" fill="#203e66" fill-opacity="0.58"/>
<circle cx="99.8" cy="402.6" r="2.4" fill="#203e66" fill-opacity="0.58"/>
<circle cx="103.1" cy="400.4" r="2.4" fill="#203e66" fill-opacity="0.58"/>
<circle cx="106.4" cy="404.8" r="2.4" fill="#203e66" fill-opacity="0.58"/>
<circle cx="109.7" cy="400.2" r="2.4" fill="#203e66" fill-opacity="0.58"/>
<circle cx="113.0" cy="393.7" r="2.4" fill="#203e66" fill-opacity="0.58"/>
<circle cx="116.3" cy="386.7" r="2.4" fill="#203e66" fill-opacity="0.58"/>
<circle cx="119.6" cy="378.6" r="2.4" fill="#203e66" fill-opacity="0.58"/>
<circle cx="122.9" cy="373.9" r="2.4" fill="#203e66" fill-opacity="0.58"/>
<circle cx="126.2" cy="372.2" r="2.4" fill="#203e66" fill-opacity="0.58"/>
<circle cx="129.5" cy="370.9" r="2.4" fill="#203e66" fill-opacity="0.58"/>
<circle cx="132.8" cy="373.8" r="2.4" fill="#203e66" fill-opacity="0.58"/>
<circle cx="136.0" cy="375.4" r="2.4" fill="#203e66" fill-opacity="0.58"/>
<circle cx="50.6" cy="494.3" r="2.4" fill="#d55f1d" fill-opacity="0.58"/>
<circle cx="53.9" cy="494.2" r="2.4" fill="#d55f1d" fill-opacity="0.58"/>
<circle cx="57.1" cy="494.9" r="2.4" fill="#d55f1d" fill-opacity="0.58"/>
<circle cx="60.4" cy="491.5" r="2.4" fill="#d55f1d" fill-opacity="0.58"/>
<circle cx="63.7" cy="492.6" r="2.4" fill="#d55f1d" fill-opacity="0.58"/>
<circle cx="67.0" cy="494.0" r="2.4" fill="#d55f1d" fill-opacity="0.58"/>
<circle cx="70.3" cy="490.9" r="2.4" fill="#d55f1d" fill-opacity="0.58"/>
<circle cx="73.6" cy="489.1" r="2.4" fill="#d55f1d" fill-opacity="0.58"/>
<circle cx="76.9" cy="493.0" r="2.4" fill="#d55f1d" fill-opacity="0.58"/>
<circle cx="80.2" cy="488.5" r="2.4" fill="#d55f1d" fill-opacity="0.58"/>
<circle cx="83.5" cy="486.2" r="2.4" fill="#d55f1d" fill-opacity="0.58"/>
<circle cx="86.8" cy="481.6" r="2.4" fill="#d55f1d" fill-opacity="0.58"/>
<circle cx="90.1" cy="480.4" r="2.4" fill="#d55f1d" fill-opacity="0.58"/>
<circle cx="93.4" cy="477.4" r="2.4" fill="#d55f1d" fill-opacity="0.58"/>
<circle cx="96.7" cy="473.3" r="2.4" fill="#d55f1d" fill-opacity="0.58"/>
<circle cx="100.0" cy="463.2" r="2.4" fill="#d55f1d" fill-opacity="0.58"/>
<circle cx="103.2" cy="457.4" r="2.4" fill="#d55f1d" fill-opacity="0.58"/>
<circle cx="106.5" cy="462.2" r="2.4" fill="#d55f1d" fill-opacity="0.58"/>
<circle cx="109.8" cy="459.1" r="2.4" fill="#d55f1d" fill-opacity="0.58"/>
<circle cx="113.1" cy="439.5" r="2.4" fill="#d55f1d" fill-opacity="0.58"/>
<circle cx="116.4" cy="449.4" r="2.4" fill="#d55f1d" fill-opacity="0.58"/>
<circle cx="119.7" cy="442.6" r="2.4" fill="#d55f1d" fill-opacity="0.58"/>
<circle cx="123.0" cy="434.9" r="2.4" fill="#d55f1d" fill-opacity="0.58"/>
<circle cx="126.3" cy="427.9" r="2.4" fill="#d55f1d" fill-opacity="0.58"/>
<circle cx="129.6" cy="420.7" r="2.4" fill="#d55f1d" fill-opacity="0.58"/>
<circle cx="132.9" cy="418.7" r="2.4" fill="#d55f1d" fill-opacity="0.58"/>
<circle cx="136.2" cy="419.2" r="2.4" fill="#d55f1d" fill-opacity="0.58"/>
<circle cx="139.5" cy="409.8" r="2.4" fill="#d55f1d" fill-opacity="0.58"/>
<circle cx="142.8" cy="407.0" r="2.4" fill="#d55f1d" fill-opacity="0.58"/>
<circle cx="146.1" cy="398.2" r="2.4" fill="#d55f1d" fill-opacity="0.58"/>
<circle cx="202.0" cy="379.0" r="2.4" fill="#d55f1d" fill-opacity="0.58"/>
<circle cx="228.4" cy="375.2" r="2.4" fill="#d55f1d" fill-opacity="0.58"/>
<circle cx="235.0" cy="376.7" r="2.4" fill="#d55f1d" fill-opacity="0.58"/>
<circle cx="50.5" cy="492.2" r="2.4" fill="#d55f1d" fill-opacity="0.58"/>
<circle cx="53.8" cy="493.6" r="2.4" fill="#d55f1d" fill-opacity="0.58"/>
<circle cx="57.1" cy="493.5" r="2.4" fill="#d55f1d" fill-opacity="0.58"/>
<circle cx="60.4" cy="493.5" r="2.4" fill="#d55f1d" fill-opacity="0.58"/>
<circle cx="63.6" cy="494.9" r="2.4" fill="#d55f1d" fill-opacity="0.58"/>
<circle cx="66.9" cy="492.7" r="2.4" fill="#d55f1d" fill-opacity="0.58"/>
<circle cx="70.2" cy="493.0" r="2.4" fill="#d55f1d" fill-opacity="0.58"/>
<circle cx="73.5" cy="492.0" r="2.4" fill="#d55f1d" fill-opacity="0.58"/>
<circle cx="76.8" cy="490.4" r="2.4" fill="#d55f1d" fill-opacity="0.58"/>
<circle cx="80.1" cy="490.6" r="2.4" fill="#d55f1d" fill-opacity="0.58"/>
<circle cx="83.4" cy="485.9" r="2.4" fill="#d55f1d" fill-opacity="0.58"/>
<circle cx="86.7" cy="486.7" r="2.4" fill="#d55f1d" fill-opacity="0.58"/>
<circle cx="90.0" cy="485.0" r="2.4" fill="#d55f1d" fill-opacity="0.58"/>
<circle cx="93.3" cy="482.5" r="2.4" fill="#d55f1d" fill-opacity="0.58"/>
<circle cx="96.6" cy="477.2" r="2.4" fill="#d55f1d" fill-opacity="0.58"/>
<circle cx="99.9" cy="472.2" r="2.4" fill="#d55f1d" fill-opacity="0.58"/>
<circle cx="103.2" cy="472.6" r="2.4" fill="#d55f1d" fill-opacity="0.58"/>
<circle cx="106.5" cy="472.0" r="2.4" fill="#d55f1d" fill-opacity="0.58"/>
<circle cx="109.7" cy="459.1" r="2.4" fill="#d55f1d" fill-opacity="0.58"/>
<circle cx="113.0" cy="462.6" r="2.4" fill="#d55f1d" fill-opacity="0.58"/>
<circle cx="116.3" cy="449.4" r="2.4" fill="#d55f1d" fill-opacity="0.58"/>
<circle cx="119.6" cy="449.7" r="2.4" fill="#d55f1d" fill-opacity="0.58"/>
<circle cx="122.9" cy="447.7" r="2.4" fill="#d55f1d" fill-opacity="0.58"/>
<circle cx="126.2" cy="442.8" r="2.4" fill="#d55f1d" fill-opacity="0.58"/>
<circle cx="129.5" cy="433.4" r="2.4" fill="#d55f1d" fill-opacity="0.58"/>
<circle cx="132.8" cy="426.9" r="2.4" fill="#d55f1d" fill-opacity="0.58"/>
<circle cx="136.1" cy="427.0" r="2.4" fill="#d55f1d" fill-opacity="0.58"/>
<circle cx="139.4" cy="417.9" r="2.4" fill="#d55f1d" fill-opacity="0.58"/>
<circle cx="142.7" cy="409.4" r="2.4" fill="#d55f1d" fill-opacity="0.58"/>
<circle cx="146.0" cy="414.4" r="2.4" fill="#d55f1d" fill-opacity="0.58"/>
<circle cx="155.8" cy="408.1" r="2.4" fill="#d55f1d" fill-opacity="0.58"/>
<circle cx="159.1" cy="402.7" r="2.4" fill="#d55f1d" fill-opacity="0.58"/>
<circle cx="172.3" cy="398.2" r="2.4" fill="#d55f1d" fill-opacity="0.58"/>
<circle cx="175.6" cy="393.2" r="2.4" fill="#d55f1d" fill-opacity="0.58"/>
<circle cx="192.1" cy="381.4" r="2.4" fill="#d55f1d" fill-opacity="0.58"/>
<circle cx="211.8" cy="381.5" r="2.4" fill="#d55f1d" fill-opacity="0.58"/>
<circle cx="234.9" cy="376.4" r="2.4" fill="#d55f1d" fill-opacity="0.58"/>
<circle cx="238.2" cy="378.2" r="2.4" fill="#d55f1d" fill-opacity="0.58"/>
<circle cx="51.2" cy="493.2" r="2.4" fill="#d55f1d" fill-opacity="0.58"/>
<circle cx="54.5" cy="494.7" r="2.4" fill="#d55f1d" fill-opacity="0.58"/>
<circle cx="57.8" cy="491.9" r="2.4" fill="#d55f1d" fill-opacity="0.58"/>
<circle cx="61.1" cy="494.0" r="2.4" fill="#d55f1d" fill-opacity="0.58"/>
<circle cx="64.4" cy="494.9" r="2.4" fill="#d55f1d" fill-opacity="0.58"/>
<circle cx="67.7" cy="491.4" r="2.4" fill="#d55f1d" fill-opacity="0.58"/>
<circle cx="71.0" cy="491.7" r="2.4" fill="#d55f1d" fill-opacity="0.58"/>
<circle cx="74.2" cy="491.4" r="2.4" fill="#d55f1d" fill-opacity="0.58"/>
<circle cx="77.5" cy="490.4" r="2.4" fill="#d55f1d" fill-opacity="0.58"/>
<circle cx="80.8" cy="490.4" r="2.4" fill="#d55f1d" fill-opacity="0.58"/>
<circle cx="84.1" cy="488.8" r="2.4" fill="#d55f1d" fill-opacity="0.58"/>
<circle cx="87.4" cy="485.6" r="2.4" fill="#d55f1d" fill-opacity="0.58"/>
<circle cx="90.7" cy="483.1" r="2.4" fill="#d55f1d" fill-opacity="0.58"/>
<circle cx="94.0" cy="480.8" r="2.4" fill="#d55f1d" fill-opacity="0.58"/>
<circle cx="97.3" cy="479.9" r="2.4" fill="#d55f1d" fill-opacity="0.58"/>
<circle cx="100.6" cy="478.9" r="2.4" fill="#d55f1d" fill-opacity="0.58"/>
<circle cx="103.9" cy="475.2" r="2.4" fill="#d55f1d" fill-opacity="0.58"/>
<circle cx="107.2" cy="468.1" r="2.4" fill="#d55f1d" fill-opacity="0.58"/>
<circle cx="110.5" cy="463.3" r="2.4" fill="#d55f1d" fill-opacity="0.58"/>
<circle cx="113.8" cy="465.5" r="2.4" fill="#d55f1d" fill-opacity="0.58"/>
<circle cx="117.1" cy="462.2" r="2.4" fill="#d55f1d" fill-opacity="0.58"/>
<circle cx="120.3" cy="451.6" r="2.4" fill="#d55f1d" fill-opacity="0.58"/>
<circle cx="123.6" cy="449.3" r="2.4" fill="#d55f1d" fill-opacity="0.58"/>
<circle cx="126.9" cy="445.1" r="2.4" fill="#d55f1d" fill-opacity="0.58"/>
<circle cx="130.2" cy="449.1" r="2.4" fill="#d55f1d" fill-opacity="0.58"/>
<circle cx="133.5" cy="440.9" r="2.4" fill="#d55f1d" fill-opacity="0.58"/>
<circle cx="136.8" cy="437.1" r="2.4" fill="#d55f1d" fill-opacity="0.58"/>
<circle cx="140.1" cy="429.8" r="2.4" fill="#d55f1d" fill-opacity="0.58"/>
<circle cx="143.4" cy="433.5" r="2.4" fill="#d55f1d" fill-opacity="0.58"/>
<circle cx="150.0" cy="417.3" r="2.4" fill="#d55f1d" fill-opacity="0.58"/>
<circle cx="153.3" cy="413.2" r="2.4" fill="#d55f1d" fill-opacity="0.58"/>
<circle cx="156.6" cy="415.7" r="2.4" fill="#d55f1d" fill-opacity="0.58"/>
<circle cx="163.2" cy="400.8" r="2.4" fill="#d55f1d" fill-opacity="0.58"/>
<circle cx="166.4" cy="407.5" r="2.4" fill="#d55f1d" fill-opacity="0.58"/>
<circle cx="169.7" cy="399.1" r="2.4" fill="#d55f1d" fill-opacity="0.58"/>
<circle cx="173.0" cy="395.8" r="2.4" fill="#d55f1d" fill-opacity="0.58"/>
<circle cx="179.6" cy="391.7" r="2.4" fill="#d55f1d" fill-opacity="0.58"/>
<circle cx="189.5" cy="388.0" r="2.4" fill="#d55f1d" fill-opacity="0.58"/>
<circle cx="202.7" cy="382.6" r="2.4" fill="#d55f1d" fill-opacity="0.58"/>
<circle cx="206.0" cy="385.9" r="2.4" fill="#d55f1d" fill-opacity="0.58"/>
<circle cx="212.5" cy="381.4" r="2.4" fill="#d55f1d" fill-opacity="0.58"/>
<circle cx="219.1" cy="381.6" r="2.4" fill="#d55f1d" fill-opacity="0.58"/>
<circle cx="222.4" cy="380.0" r="2.4" fill="#d55f1d" fill-opacity="0.58"/>
<circle cx="225.7" cy="382.0" r="2.4" fill="#d55f1d" fill-opacity="0.58"/>
<circle cx="229.0" cy="379.9" r="2.4" fill="#d55f1d" fill-opacity="0.58"/>
<circle cx="235.6" cy="379.1" r="2.4" fill="#d55f1d" fill-opacity="0.58"/>
<circle cx="238.9" cy="379.8" r="2.4" fill="#d55f1d" fill-opacity="0.58"/>
<circle cx="49.9" cy="494.9" r="2.4" fill="#d55f1d" fill-opacity="0.58"/>
<circle cx="53.2" cy="494.9" r="2.4" fill="#d55f1d" fill-opacity="0.58"/>
<circle cx="56.4" cy="494.9" r="2.4" fill="#d55f1d" fill-opacity="0.58"/>
<circle cx="59.7" cy="491.5" r="2.4" fill="#d55f1d" fill-opacity="0.58"/>
<circle cx="63.0" cy="493.8" r="2.4" fill="#d55f1d" fill-opacity="0.58"/>
<circle cx="66.3" cy="493.6" r="2.4" fill="#d55f1d" fill-opacity="0.58"/>
<circle cx="69.6" cy="494.3" r="2.4" fill="#d55f1d" fill-opacity="0.58"/>
<circle cx="72.9" cy="494.0" r="2.4" fill="#d55f1d" fill-opacity="0.58"/>
<circle cx="76.2" cy="494.8" r="2.4" fill="#d55f1d" fill-opacity="0.58"/>
<circle cx="79.5" cy="491.4" r="2.4" fill="#d55f1d" fill-opacity="0.58"/>
<circle cx="82.8" cy="490.3" r="2.4" fill="#d55f1d" fill-opacity="0.58"/>
<circle cx="86.1" cy="492.5" r="2.4" fill="#d55f1d" fill-opacity="0.58"/>
<circle cx="89.4" cy="490.0" r="2.4" fill="#d55f1d" fill-opacity="0.58"/>
<circle cx="92.7" cy="488.2" r="2.4" fill="#d55f1d" fill-opacity="0.58"/>
<circle cx="96.0" cy="485.3" r="2.4" fill="#d55f1d" fill-opacity="0.58"/>
<circle cx="99.2" cy="482.9" r="2.4" fill="#d55f1d" fill-opacity="0.58"/>
<circle cx="102.5" cy="478.8" r="2.4" fill="#d55f1d" fill-opacity="0.58"/>
<circle cx="105.8" cy="475.8" r="2.4" fill="#d55f1d" fill-opacity="0.58"/>
<circle cx="109.1" cy="473.8" r="2.4" fill="#d55f1d" fill-opacity="0.58"/>
<circle cx="112.4" cy="470.2" r="2.4" fill="#d55f1d" fill-opacity="0.58"/>
<circle cx="115.7" cy="474.8" r="2.4" fill="#d55f1d" fill-opacity="0.58"/>
<circle cx="119.0" cy="470.0" r="2.4" fill="#d55f1d" fill-opacity="0.58"/>
<circle cx="122.3" cy="461.0" r="2.4" fill="#d55f1d" fill-opacity="0.58"/>
<circle cx="125.6" cy="460.5" r="2.4" fill="#d55f1d" fill-opacity="0.58"/>
<circle cx="128.9" cy="458.0" r="2.4" fill="#d55f1d" fill-opacity="0.58"/>
<circle cx="132.2" cy="462.3" r="2.4" fill="#d55f1d" fill-opacity="0.58"/>
<circle cx="135.5" cy="458.3" r="2.4" fill="#d55f1d" fill-opacity="0.58"/>
<circle cx="138.8" cy="444.0" r="2.4" fill="#d55f1d" fill-opacity="0.58"/>
<circle cx="142.1" cy="441.8" r="2.4" fill="#d55f1d" fill-opacity="0.58"/>
<circle cx="145.3" cy="440.7" r="2.4" fill="#d55f1d" fill-opacity="0.58"/>
<circle cx="151.9" cy="439.2" r="2.4" fill="#d55f1d" fill-opacity="0.58"/>
<circle cx="155.2" cy="426.6" r="2.4" fill="#d55f1d" fill-opacity="0.58"/>
<circle cx="158.5" cy="420.3" r="2.4" fill="#d55f1d" fill-opacity="0.58"/>
<circle cx="161.8" cy="414.4" r="2.4" fill="#d55f1d" fill-opacity="0.58"/>
<circle cx="165.1" cy="417.5" r="2.4" fill="#d55f1d" fill-opacity="0.58"/>
<circle cx="168.4" cy="415.3" r="2.4" fill="#d55f1d" fill-opacity="0.58"/>
<circle cx="171.7" cy="415.5" r="2.4" fill="#d55f1d" fill-opacity="0.58"/>
<circle cx="175.0" cy="404.4" r="2.4" fill="#d55f1d" fill-opacity="0.58"/>
<circle cx="178.3" cy="400.3" r="2.4" fill="#d55f1d" fill-opacity="0.58"/>
<circle cx="181.6" cy="405.6" r="2.4" fill="#d55f1d" fill-opacity="0.58"/>
<circle cx="184.9" cy="400.4" r="2.4" fill="#d55f1d" fill-opacity="0.58"/>
<circle cx="188.2" cy="399.0" r="2.4" fill="#d55f1d" fill-opacity="0.58"/>
<circle cx="191.4" cy="398.9" r="2.4" fill="#d55f1d" fill-opacity="0.58"/>
<circle cx="194.7" cy="402.1" r="2.4" fill="#d55f1d" fill-opacity="0.58"/>
<circle cx="198.0" cy="394.8" r="2.4" fill="#d55f1d" fill-opacity="0.58"/>
<circle cx="201.3" cy="390.9" r="2.4" fill="#d55f1d" fill-opacity="0.58"/>
<circle cx="207.9" cy="391.5" r="2.4" fill="#d55f1d" fill-opacity="0.58"/>
<circle cx="211.2" cy="395.3" r="2.4" fill="#d55f1d" fill-opacity="0.58"/>
<circle cx="214.5" cy="384.9" r="2.4" fill="#d55f1d" fill-opacity="0.58"/>
<circle cx="217.8" cy="385.5" r="2.4" fill="#d55f1d" fill-opacity="0.58"/>
<circle cx="221.1" cy="385.5" r="2.4" fill="#d55f1d" fill-opacity="0.58"/>
<circle cx="224.4" cy="385.3" r="2.4" fill="#d55f1d" fill-opacity="0.58"/>
<circle cx="227.7" cy="385.2" r="2.4" fill="#d55f1d" fill-opacity="0.58"/>
<circle cx="231.0" cy="383.6" r="2.4" fill="#d55f1d" fill-opacity="0.58"/>
<circle cx="234.3" cy="383.4" r="2.4" fill="#d55f1d" fill-opacity="0.58"/>
<circle cx="237.5" cy="382.7" r="2.4" fill="#d55f1d" fill-opacity="0.58"/>
<circle cx="240.8" cy="381.9" r="2.4" fill="#d55f1d" fill-opacity="0.58"/>
<circle cx="51.3" cy="538.6" r="2.4" fill="#3f86c6" fill-opacity="0.58"/>
<circle cx="54.6" cy="535.5" r="2.4" fill="#3f86c6" fill-opacity="0.58"/>
<circle cx="57.9" cy="534.7" r="2.4" fill="#3f86c6" fill-opacity="0.58"/>
<circle cx="61.2" cy="536.8" r="2.4" fill="#3f86c6" fill-opacity="0.58"/>
<circle cx="64.5" cy="536.3" r="2.4" fill="#3f86c6" fill-opacity="0.58"/>
<circle cx="67.8" cy="531.8" r="2.4" fill="#3f86c6" fill-opacity="0.58"/>
<circle cx="71.1" cy="532.8" r="2.4" fill="#3f86c6" fill-opacity="0.58"/>
<circle cx="74.4" cy="532.8" r="2.4" fill="#3f86c6" fill-opacity="0.58"/>
<circle cx="77.7" cy="527.6" r="2.4" fill="#3f86c6" fill-opacity="0.58"/>
<circle cx="81.0" cy="518.6" r="2.4" fill="#3f86c6" fill-opacity="0.58"/>
<circle cx="84.3" cy="515.8" r="2.4" fill="#3f86c6" fill-opacity="0.58"/>
<circle cx="87.6" cy="509.5" r="2.4" fill="#3f86c6" fill-opacity="0.58"/>
<circle cx="90.8" cy="501.3" r="2.4" fill="#3f86c6" fill-opacity="0.58"/>
<circle cx="94.1" cy="495.4" r="2.4" fill="#3f86c6" fill-opacity="0.58"/>
<circle cx="97.4" cy="490.7" r="2.4" fill="#3f86c6" fill-opacity="0.58"/>
<circle cx="100.7" cy="486.8" r="2.4" fill="#3f86c6" fill-opacity="0.58"/>
<circle cx="104.0" cy="470.0" r="2.4" fill="#3f86c6" fill-opacity="0.58"/>
<circle cx="107.3" cy="466.6" r="2.4" fill="#3f86c6" fill-opacity="0.58"/>
<circle cx="110.6" cy="453.1" r="2.4" fill="#3f86c6" fill-opacity="0.58"/>
<circle cx="113.9" cy="437.2" r="2.4" fill="#3f86c6" fill-opacity="0.58"/>
<circle cx="117.2" cy="433.9" r="2.4" fill="#3f86c6" fill-opacity="0.58"/>
<circle cx="120.5" cy="428.7" r="2.4" fill="#3f86c6" fill-opacity="0.58"/>
<circle cx="123.8" cy="422.6" r="2.4" fill="#3f86c6" fill-opacity="0.58"/>
<circle cx="127.1" cy="414.9" r="2.4" fill="#3f86c6" fill-opacity="0.58"/>
<circle cx="130.4" cy="409.6" r="2.4" fill="#3f86c6" fill-opacity="0.58"/>
<circle cx="133.7" cy="411.2" r="2.4" fill="#3f86c6" fill-opacity="0.58"/>
<circle cx="143.5" cy="395.7" r="2.4" fill="#3f86c6" fill-opacity="0.58"/>
<circle cx="166.6" cy="385.4" r="2.4" fill="#3f86c6" fill-opacity="0.58"/>
<circle cx="173.2" cy="382.5" r="2.4" fill="#3f86c6" fill-opacity="0.58"/>
<circle cx="183.0" cy="380.9" r="2.4" fill="#3f86c6" fill-opacity="0.58"/>
<circle cx="49.9" cy="538.0" r="2.4" fill="#3f86c6" fill-opacity="0.58"/>
<circle cx="53.2" cy="537.1" r="2.4" fill="#3f86c6" fill-opacity="0.58"/>
<circle cx="56.5" cy="536.5" r="2.4" fill="#3f86c6" fill-opacity="0.58"/>
<circle cx="59.7" cy="535.0" r="2.4" fill="#3f86c6" fill-opacity="0.58"/>
<circle cx="63.0" cy="535.5" r="2.4" fill="#3f86c6" fill-opacity="0.58"/>
<circle cx="66.3" cy="536.8" r="2.4" fill="#3f86c6" fill-opacity="0.58"/>
<circle cx="69.6" cy="536.2" r="2.4" fill="#3f86c6" fill-opacity="0.58"/>
<circle cx="72.9" cy="532.8" r="2.4" fill="#3f86c6" fill-opacity="0.58"/>
<circle cx="76.2" cy="532.2" r="2.4" fill="#3f86c6" fill-opacity="0.58"/>
<circle cx="79.5" cy="528.9" r="2.4" fill="#3f86c6" fill-opacity="0.58"/>
<circle cx="82.8" cy="527.3" r="2.4" fill="#3f86c6" fill-opacity="0.58"/>
<circle cx="86.1" cy="525.3" r="2.4" fill="#3f86c6" fill-opacity="0.58"/>
<circle cx="89.4" cy="519.0" r="2.4" fill="#3f86c6" fill-opacity="0.58"/>
<circle cx="92.7" cy="511.4" r="2.4" fill="#3f86c6" fill-opacity="0.58"/>
<circle cx="96.0" cy="509.0" r="2.4" fill="#3f86c6" fill-opacity="0.58"/>
<circle cx="99.3" cy="507.5" r="2.4" fill="#3f86c6" fill-opacity="0.58"/>
<circle cx="102.6" cy="499.2" r="2.4" fill="#3f86c6" fill-opacity="0.58"/>
<circle cx="105.8" cy="493.3" r="2.4" fill="#3f86c6" fill-opacity="0.58"/>
<circle cx="109.1" cy="484.0" r="2.4" fill="#3f86c6" fill-opacity="0.58"/>
<circle cx="112.4" cy="473.4" r="2.4" fill="#3f86c6" fill-opacity="0.58"/>
<circle cx="115.7" cy="461.8" r="2.4" fill="#3f86c6" fill-opacity="0.58"/>
<circle cx="119.0" cy="460.6" r="2.4" fill="#3f86c6" fill-opacity="0.58"/>
<circle cx="122.3" cy="455.3" r="2.4" fill="#3f86c6" fill-opacity="0.58"/>
<circle cx="125.6" cy="445.7" r="2.4" fill="#3f86c6" fill-opacity="0.58"/>
<circle cx="128.9" cy="439.0" r="2.4" fill="#3f86c6" fill-opacity="0.58"/>
<circle cx="135.5" cy="427.2" r="2.4" fill="#3f86c6" fill-opacity="0.58"/>
<circle cx="138.8" cy="422.2" r="2.4" fill="#3f86c6" fill-opacity="0.58"/>
<circle cx="151.9" cy="408.5" r="2.4" fill="#3f86c6" fill-opacity="0.58"/>
<circle cx="155.2" cy="401.6" r="2.4" fill="#3f86c6" fill-opacity="0.58"/>
<circle cx="158.5" cy="401.0" r="2.4" fill="#3f86c6" fill-opacity="0.58"/>
<circle cx="168.4" cy="393.0" r="2.4" fill="#3f86c6" fill-opacity="0.58"/>
<circle cx="175.0" cy="390.4" r="2.4" fill="#3f86c6" fill-opacity="0.58"/>
<circle cx="178.3" cy="387.1" r="2.4" fill="#3f86c6" fill-opacity="0.58"/>
<circle cx="181.6" cy="388.0" r="2.4" fill="#3f86c6" fill-opacity="0.58"/>
<circle cx="50.0" cy="536.3" r="2.4" fill="#3f86c6" fill-opacity="0.58"/>
<circle cx="53.3" cy="538.1" r="2.4" fill="#3f86c6" fill-opacity="0.58"/>
<circle cx="56.6" cy="536.0" r="2.4" fill="#3f86c6" fill-opacity="0.58"/>
<circle cx="59.9" cy="535.6" r="2.4" fill="#3f86c6" fill-opacity="0.58"/>
<circle cx="63.2" cy="535.3" r="2.4" fill="#3f86c6" fill-opacity="0.58"/>
<circle cx="66.5" cy="536.7" r="2.4" fill="#3f86c6" fill-opacity="0.58"/>
<circle cx="69.8" cy="534.6" r="2.4" fill="#3f86c6" fill-opacity="0.58"/>
<circle cx="73.1" cy="534.3" r="2.4" fill="#3f86c6" fill-opacity="0.58"/>
<circle cx="76.4" cy="533.8" r="2.4" fill="#3f86c6" fill-opacity="0.58"/>
<circle cx="79.7" cy="532.3" r="2.4" fill="#3f86c6" fill-opacity="0.58"/>
<circle cx="83.0" cy="529.4" r="2.4" fill="#3f86c6" fill-opacity="0.58"/>
<circle cx="86.3" cy="525.7" r="2.4" fill="#3f86c6" fill-opacity="0.58"/>
<circle cx="89.5" cy="522.5" r="2.4" fill="#3f86c6" fill-opacity="0.58"/>
<circle cx="92.8" cy="516.0" r="2.4" fill="#3f86c6" fill-opacity="0.58"/>
<circle cx="96.1" cy="517.2" r="2.4" fill="#3f86c6" fill-opacity="0.58"/>
<circle cx="99.4" cy="510.5" r="2.4" fill="#3f86c6" fill-opacity="0.58"/>
<circle cx="102.7" cy="508.4" r="2.4" fill="#3f86c6" fill-opacity="0.58"/>
<circle cx="106.0" cy="499.7" r="2.4" fill="#3f86c6" fill-opacity="0.58"/>
<circle cx="109.3" cy="496.0" r="2.4" fill="#3f86c6" fill-opacity="0.58"/>
<circle cx="112.6" cy="492.4" r="2.4" fill="#3f86c6" fill-opacity="0.58"/>
<circle cx="115.9" cy="488.8" r="2.4" fill="#3f86c6" fill-opacity="0.58"/>
<circle cx="119.2" cy="480.3" r="2.4" fill="#3f86c6" fill-opacity="0.58"/>
<circle cx="122.5" cy="469.5" r="2.4" fill="#3f86c6" fill-opacity="0.58"/>
<circle cx="125.8" cy="457.5" r="2.4" fill="#3f86c6" fill-opacity="0.58"/>
<circle cx="129.1" cy="453.1" r="2.4" fill="#3f86c6" fill-opacity="0.58"/>
<circle cx="132.3" cy="453.9" r="2.4" fill="#3f86c6" fill-opacity="0.58"/>
<circle cx="135.6" cy="444.5" r="2.4" fill="#3f86c6" fill-opacity="0.58"/>
<circle cx="142.2" cy="431.7" r="2.4" fill="#3f86c6" fill-opacity="0.58"/>
<circle cx="158.7" cy="415.8" r="2.4" fill="#3f86c6" fill-opacity="0.58"/>
<circle cx="162.0" cy="408.1" r="2.4" fill="#3f86c6" fill-opacity="0.58"/>
<circle cx="165.3" cy="408.4" r="2.4" fill="#3f86c6" fill-opacity="0.58"/>
<circle cx="171.9" cy="398.5" r="2.4" fill="#3f86c6" fill-opacity="0.58"/>
<circle cx="178.4" cy="395.3" r="2.4" fill="#3f86c6" fill-opacity="0.58"/>
<circle cx="181.7" cy="393.8" r="2.4" fill="#3f86c6" fill-opacity="0.58"/>
<circle cx="185.0" cy="388.4" r="2.4" fill="#3f86c6" fill-opacity="0.58"/>
<circle cx="51.3" cy="538.2" r="2.4" fill="#3f86c6" fill-opacity="0.58"/>
<circle cx="54.6" cy="536.6" r="2.4" fill="#3f86c6" fill-opacity="0.58"/>
<circle cx="57.9" cy="536.5" r="2.4" fill="#3f86c6" fill-opacity="0.58"/>
<circle cx="61.1" cy="535.9" r="2.4" fill="#3f86c6" fill-opacity="0.58"/>
<circle cx="64.4" cy="537.9" r="2.4" fill="#3f86c6" fill-opacity="0.58"/>
<circle cx="67.7" cy="535.1" r="2.4" fill="#3f86c6" fill-opacity="0.58"/>
<circle cx="71.0" cy="537.2" r="2.4" fill="#3f86c6" fill-opacity="0.58"/>
<circle cx="74.3" cy="536.3" r="2.4" fill="#3f86c6" fill-opacity="0.58"/>
<circle cx="77.6" cy="533.6" r="2.4" fill="#3f86c6" fill-opacity="0.58"/>
<circle cx="80.9" cy="533.4" r="2.4" fill="#3f86c6" fill-opacity="0.58"/>
<circle cx="84.2" cy="529.1" r="2.4" fill="#3f86c6" fill-opacity="0.58"/>
<circle cx="87.5" cy="528.9" r="2.4" fill="#3f86c6" fill-opacity="0.58"/>
<circle cx="90.8" cy="528.2" r="2.4" fill="#3f86c6" fill-opacity="0.58"/>
<circle cx="94.1" cy="523.4" r="2.4" fill="#3f86c6" fill-opacity="0.58"/>
<circle cx="97.4" cy="521.2" r="2.4" fill="#3f86c6" fill-opacity="0.58"/>
<circle cx="100.7" cy="513.4" r="2.4" fill="#3f86c6" fill-opacity="0.58"/>
<circle cx="104.0" cy="508.9" r="2.4" fill="#3f86c6" fill-opacity="0.58"/>
<circle cx="107.2" cy="506.6" r="2.4" fill="#3f86c6" fill-opacity="0.58"/>
<circle cx="110.5" cy="505.1" r="2.4" fill="#3f86c6" fill-opacity="0.58"/>
<circle cx="113.8" cy="498.7" r="2.4" fill="#3f86c6" fill-opacity="0.58"/>
<circle cx="117.1" cy="490.2" r="2.4" fill="#3f86c6" fill-opacity="0.58"/>
<circle cx="120.4" cy="490.9" r="2.4" fill="#3f86c6" fill-opacity="0.58"/>
<circle cx="123.7" cy="485.1" r="2.4" fill="#3f86c6" fill-opacity="0.58"/>
<circle cx="127.0" cy="472.8" r="2.4" fill="#3f86c6" fill-opacity="0.58"/>
<circle cx="130.3" cy="466.8" r="2.4" fill="#3f86c6" fill-opacity="0.58"/>
<circle cx="133.6" cy="464.0" r="2.4" fill="#3f86c6" fill-opacity="0.58"/>
<circle cx="146.8" cy="439.1" r="2.4" fill="#3f86c6" fill-opacity="0.58"/>
<circle cx="150.1" cy="438.7" r="2.4" fill="#3f86c6" fill-opacity="0.58"/>
<circle cx="159.9" cy="415.1" r="2.4" fill="#3f86c6" fill-opacity="0.58"/>
<circle cx="169.8" cy="405.1" r="2.4" fill="#3f86c6" fill-opacity="0.58"/>
<circle cx="179.7" cy="408.3" r="2.4" fill="#3f86c6" fill-opacity="0.58"/>
<circle cx="183.0" cy="397.7" r="2.4" fill="#3f86c6" fill-opacity="0.58"/>
<circle cx="186.3" cy="399.0" r="2.4" fill="#3f86c6" fill-opacity="0.58"/>
<circle cx="51.0" cy="538.4" r="2.4" fill="#f0b27c" fill-opacity="0.58"/>
<circle cx="54.3" cy="538.1" r="2.4" fill="#f0b27c" fill-opacity="0.58"/>
<circle cx="57.6" cy="537.6" r="2.4" fill="#f0b27c" fill-opacity="0.58"/>
<circle cx="60.9" cy="538.0" r="2.4" fill="#f0b27c" fill-opacity="0.58"/>
<circle cx="64.2" cy="537.3" r="2.4" fill="#f0b27c" fill-opacity="0.58"/>
<circle cx="67.5" cy="538.8" r="2.4" fill="#f0b27c" fill-opacity="0.58"/>
<circle cx="70.7" cy="537.8" r="2.4" fill="#f0b27c" fill-opacity="0.58"/>
<circle cx="74.0" cy="538.9" r="2.4" fill="#f0b27c" fill-opacity="0.58"/>
<circle cx="77.3" cy="538.1" r="2.4" fill="#f0b27c" fill-opacity="0.58"/>
<circle cx="80.6" cy="538.1" r="2.4" fill="#f0b27c" fill-opacity="0.58"/>
<circle cx="83.9" cy="538.9" r="2.4" fill="#f0b27c" fill-opacity="0.58"/>
<circle cx="87.2" cy="539.2" r="2.4" fill="#f0b27c" fill-opacity="0.58"/>
<circle cx="90.5" cy="537.1" r="2.4" fill="#f0b27c" fill-opacity="0.58"/>
<circle cx="93.8" cy="537.5" r="2.4" fill="#f0b27c" fill-opacity="0.58"/>
<circle cx="97.1" cy="537.6" r="2.4" fill="#f0b27c" fill-opacity="0.58"/>
<circle cx="100.4" cy="537.8" r="2.4" fill="#f0b27c" fill-opacity="0.58"/>
<circle cx="103.7" cy="536.0" r="2.4" fill="#f0b27c" fill-opacity="0.58"/>
<circle cx="107.0" cy="532.7" r="2.4" fill="#f0b27c" fill-opacity="0.58"/>
<circle cx="110.3" cy="528.8" r="2.4" fill="#f0b27c" fill-opacity="0.58"/>
<circle cx="113.6" cy="520.8" r="2.4" fill="#f0b27c" fill-opacity="0.58"/>
<circle cx="116.8" cy="514.7" r="2.4" fill="#f0b27c" fill-opacity="0.58"/>
<circle cx="120.1" cy="509.0" r="2.4" fill="#f0b27c" fill-opacity="0.58"/>
<circle cx="123.4" cy="498.2" r="2.4" fill="#f0b27c" fill-opacity="0.58"/>
<circle cx="126.7" cy="490.6" r="2.4" fill="#f0b27c" fill-opacity="0.58"/>
<circle cx="130.0" cy="482.1" r="2.4" fill="#f0b27c" fill-opacity="0.58"/>
<circle cx="133.3" cy="480.1" r="2.4" fill="#f0b27c" fill-opacity="0.58"/>
<circle cx="136.6" cy="470.5" r="2.4" fill="#f0b27c" fill-opacity="0.58"/>
<circle cx="139.9" cy="462.2" r="2.4" fill="#f0b27c" fill-opacity="0.58"/>
<circle cx="143.2" cy="458.6" r="2.4" fill="#f0b27c" fill-opacity="0.58"/>
<circle cx="146.5" cy="451.3" r="2.4" fill="#f0b27c" fill-opacity="0.58"/>
<circle cx="149.8" cy="444.5" r="2.4" fill="#f0b27c" fill-opacity="0.58"/>
<circle cx="153.1" cy="440.5" r="2.4" fill="#f0b27c" fill-opacity="0.58"/>
<circle cx="156.4" cy="432.3" r="2.4" fill="#f0b27c" fill-opacity="0.58"/>
<circle cx="159.7" cy="432.2" r="2.4" fill="#f0b27c" fill-opacity="0.58"/>
<circle cx="162.9" cy="428.2" r="2.4" fill="#f0b27c" fill-opacity="0.58"/>
<circle cx="166.2" cy="424.5" r="2.4" fill="#f0b27c" fill-opacity="0.58"/>
<circle cx="169.5" cy="424.4" r="2.4" fill="#f0b27c" fill-opacity="0.58"/>
<circle cx="172.8" cy="420.3" r="2.4" fill="#f0b27c" fill-opacity="0.58"/>
<circle cx="176.1" cy="413.5" r="2.4" fill="#f0b27c" fill-opacity="0.58"/>
<circle cx="179.4" cy="411.8" r="2.4" fill="#f0b27c" fill-opacity="0.58"/>
<circle cx="182.7" cy="405.9" r="2.4" fill="#f0b27c" fill-opacity="0.58"/>
<circle cx="186.0" cy="405.2" r="2.4" fill="#f0b27c" fill-opacity="0.58"/>
<circle cx="189.3" cy="402.6" r="2.4" fill="#f0b27c" fill-opacity="0.58"/>
<circle cx="192.6" cy="398.4" r="2.4" fill="#f0b27c" fill-opacity="0.58"/>
<circle cx="195.9" cy="397.5" r="2.4" fill="#f0b27c" fill-opacity="0.58"/>
<circle cx="199.2" cy="393.9" r="2.4" fill="#f0b27c" fill-opacity="0.58"/>
<circle cx="202.5" cy="395.7" r="2.4" fill="#f0b27c" fill-opacity="0.58"/>
<circle cx="205.8" cy="392.1" r="2.4" fill="#f0b27c" fill-opacity="0.58"/>
<circle cx="212.3" cy="389.4" r="2.4" fill="#f0b27c" fill-opacity="0.58"/>
<circle cx="222.2" cy="386.9" r="2.4" fill="#f0b27c" fill-opacity="0.58"/>
<circle cx="225.5" cy="386.7" r="2.4" fill="#f0b27c" fill-opacity="0.58"/>
<circle cx="228.8" cy="384.2" r="2.4" fill="#f0b27c" fill-opacity="0.58"/>
<circle cx="235.4" cy="382.9" r="2.4" fill="#f0b27c" fill-opacity="0.58"/>
<circle cx="238.7" cy="381.9" r="2.4" fill="#f0b27c" fill-opacity="0.58"/>
<circle cx="245.3" cy="383.2" r="2.4" fill="#f0b27c" fill-opacity="0.58"/>
<circle cx="251.8" cy="380.8" r="2.4" fill="#f0b27c" fill-opacity="0.58"/>
<circle cx="258.4" cy="379.7" r="2.4" fill="#f0b27c" fill-opacity="0.58"/>
<circle cx="261.7" cy="380.5" r="2.4" fill="#f0b27c" fill-opacity="0.58"/>
<circle cx="268.3" cy="380.5" r="2.4" fill="#f0b27c" fill-opacity="0.58"/>
<circle cx="271.6" cy="379.8" r="2.4" fill="#f0b27c" fill-opacity="0.58"/>
<circle cx="278.2" cy="379.6" r="2.4" fill="#f0b27c" fill-opacity="0.58"/>
<circle cx="284.8" cy="379.6" r="2.4" fill="#f0b27c" fill-opacity="0.58"/>
<circle cx="288.1" cy="378.1" r="2.4" fill="#f0b27c" fill-opacity="0.58"/>
<circle cx="291.4" cy="379.9" r="2.4" fill="#f0b27c" fill-opacity="0.58"/>
<circle cx="294.7" cy="379.0" r="2.4" fill="#f0b27c" fill-opacity="0.58"/>
<circle cx="297.9" cy="377.6" r="2.4" fill="#f0b27c" fill-opacity="0.58"/>
<circle cx="301.2" cy="377.0" r="2.4" fill="#f0b27c" fill-opacity="0.58"/>
<circle cx="307.8" cy="377.2" r="2.4" fill="#f0b27c" fill-opacity="0.58"/>
<circle cx="311.1" cy="379.6" r="2.4" fill="#f0b27c" fill-opacity="0.58"/>
<circle cx="50.3" cy="537.0" r="2.4" fill="#f0b27c" fill-opacity="0.58"/>
<circle cx="53.6" cy="538.9" r="2.4" fill="#f0b27c" fill-opacity="0.58"/>
<circle cx="56.9" cy="537.8" r="2.4" fill="#f0b27c" fill-opacity="0.58"/>
<circle cx="60.2" cy="538.9" r="2.4" fill="#f0b27c" fill-opacity="0.58"/>
<circle cx="63.5" cy="538.6" r="2.4" fill="#f0b27c" fill-opacity="0.58"/>
<circle cx="66.8" cy="538.1" r="2.4" fill="#f0b27c" fill-opacity="0.58"/>
<circle cx="70.1" cy="537.7" r="2.4" fill="#f0b27c" fill-opacity="0.58"/>
<circle cx="73.4" cy="538.8" r="2.4" fill="#f0b27c" fill-opacity="0.58"/>
<circle cx="76.7" cy="539.2" r="2.4" fill="#f0b27c" fill-opacity="0.58"/>
<circle cx="80.0" cy="537.1" r="2.4" fill="#f0b27c" fill-opacity="0.58"/>
<circle cx="83.3" cy="538.1" r="2.4" fill="#f0b27c" fill-opacity="0.58"/>
<circle cx="86.6" cy="537.6" r="2.4" fill="#f0b27c" fill-opacity="0.58"/>
<circle cx="89.9" cy="537.4" r="2.4" fill="#f0b27c" fill-opacity="0.58"/>
<circle cx="93.2" cy="537.4" r="2.4" fill="#f0b27c" fill-opacity="0.58"/>
<circle cx="96.4" cy="538.2" r="2.4" fill="#f0b27c" fill-opacity="0.58"/>
<circle cx="99.7" cy="538.0" r="2.4" fill="#f0b27c" fill-opacity="0.58"/>
<circle cx="103.0" cy="539.0" r="2.4" fill="#f0b27c" fill-opacity="0.58"/>
<circle cx="106.3" cy="537.2" r="2.4" fill="#f0b27c" fill-opacity="0.58"/>
<circle cx="109.6" cy="536.1" r="2.4" fill="#f0b27c" fill-opacity="0.58"/>
<circle cx="112.9" cy="532.9" r="2.4" fill="#f0b27c" fill-opacity="0.58"/>
<circle cx="116.2" cy="525.6" r="2.4" fill="#f0b27c" fill-opacity="0.58"/>
<circle cx="119.5" cy="521.6" r="2.4" fill="#f0b27c" fill-opacity="0.58"/>
<circle cx="122.8" cy="516.3" r="2.4" fill="#f0b27c" fill-opacity="0.58"/>
<circle cx="126.1" cy="510.6" r="2.4" fill="#f0b27c" fill-opacity="0.58"/>
<circle cx="129.4" cy="498.3" r="2.4" fill="#f0b27c" fill-opacity="0.58"/>
<circle cx="132.7" cy="488.8" r="2.4" fill="#f0b27c" fill-opacity="0.58"/>
<circle cx="136.0" cy="486.8" r="2.4" fill="#f0b27c" fill-opacity="0.58"/>
<circle cx="139.3" cy="477.9" r="2.4" fill="#f0b27c" fill-opacity="0.58"/>
<circle cx="142.5" cy="472.7" r="2.4" fill="#f0b27c" fill-opacity="0.58"/>
<circle cx="145.8" cy="464.9" r="2.4" fill="#f0b27c" fill-opacity="0.58"/>
<circle cx="149.1" cy="458.5" r="2.4" fill="#f0b27c" fill-opacity="0.58"/>
<circle cx="152.4" cy="454.6" r="2.4" fill="#f0b27c" fill-opacity="0.58"/>
<circle cx="155.7" cy="446.3" r="2.4" fill="#f0b27c" fill-opacity="0.58"/>
<circle cx="159.0" cy="442.7" r="2.4" fill="#f0b27c" fill-opacity="0.58"/>
<circle cx="162.3" cy="431.4" r="2.4" fill="#f0b27c" fill-opacity="0.58"/>
<circle cx="165.6" cy="427.5" r="2.4" fill="#f0b27c" fill-opacity="0.58"/>
<circle cx="168.9" cy="425.3" r="2.4" fill="#f0b27c" fill-opacity="0.58"/>
<circle cx="172.2" cy="421.1" r="2.4" fill="#f0b27c" fill-opacity="0.58"/>
<circle cx="175.5" cy="418.1" r="2.4" fill="#f0b27c" fill-opacity="0.58"/>
<circle cx="178.8" cy="414.5" r="2.4" fill="#f0b27c" fill-opacity="0.58"/>
<circle cx="182.1" cy="411.3" r="2.4" fill="#f0b27c" fill-opacity="0.58"/>
<circle cx="185.4" cy="408.9" r="2.4" fill="#f0b27c" fill-opacity="0.58"/>
<circle cx="188.6" cy="405.7" r="2.4" fill="#f0b27c" fill-opacity="0.58"/>
<circle cx="191.9" cy="404.5" r="2.4" fill="#f0b27c" fill-opacity="0.58"/>
<circle cx="195.2" cy="401.3" r="2.4" fill="#f0b27c" fill-opacity="0.58"/>
<circle cx="198.5" cy="398.4" r="2.4" fill="#f0b27c" fill-opacity="0.58"/>
<circle cx="201.8" cy="395.2" r="2.4" fill="#f0b27c" fill-opacity="0.58"/>
<circle cx="205.1" cy="394.0" r="2.4" fill="#f0b27c" fill-opacity="0.58"/>
<circle cx="215.0" cy="389.1" r="2.4" fill="#f0b27c" fill-opacity="0.58"/>
<circle cx="218.3" cy="387.1" r="2.4" fill="#f0b27c" fill-opacity="0.58"/>
<circle cx="221.6" cy="385.6" r="2.4" fill="#f0b27c" fill-opacity="0.58"/>
<circle cx="224.9" cy="383.9" r="2.4" fill="#f0b27c" fill-opacity="0.58"/>
<circle cx="234.7" cy="384.0" r="2.4" fill="#f0b27c" fill-opacity="0.58"/>
<circle cx="238.0" cy="382.3" r="2.4" fill="#f0b27c" fill-opacity="0.58"/>
<circle cx="241.3" cy="382.6" r="2.4" fill="#f0b27c" fill-opacity="0.58"/>
<circle cx="244.6" cy="381.7" r="2.4" fill="#f0b27c" fill-opacity="0.58"/>
<circle cx="247.9" cy="382.1" r="2.4" fill="#f0b27c" fill-opacity="0.58"/>
<circle cx="251.2" cy="380.2" r="2.4" fill="#f0b27c" fill-opacity="0.58"/>
<circle cx="254.5" cy="380.0" r="2.4" fill="#f0b27c" fill-opacity="0.58"/>
<circle cx="257.8" cy="379.9" r="2.4" fill="#f0b27c" fill-opacity="0.58"/>
<circle cx="261.1" cy="380.5" r="2.4" fill="#f0b27c" fill-opacity="0.58"/>
<circle cx="264.4" cy="381.8" r="2.4" fill="#f0b27c" fill-opacity="0.58"/>
<circle cx="267.7" cy="381.3" r="2.4" fill="#f0b27c" fill-opacity="0.58"/>
<circle cx="274.3" cy="379.1" r="2.4" fill="#f0b27c" fill-opacity="0.58"/>
<circle cx="277.6" cy="381.9" r="2.4" fill="#f0b27c" fill-opacity="0.58"/>
<circle cx="280.8" cy="379.7" r="2.4" fill="#f0b27c" fill-opacity="0.58"/>
<circle cx="284.1" cy="378.1" r="2.4" fill="#f0b27c" fill-opacity="0.58"/>
<circle cx="287.4" cy="378.1" r="2.4" fill="#f0b27c" fill-opacity="0.58"/>
<circle cx="294.0" cy="378.0" r="2.4" fill="#f0b27c" fill-opacity="0.58"/>
<circle cx="297.3" cy="378.4" r="2.4" fill="#f0b27c" fill-opacity="0.58"/>
<circle cx="307.2" cy="377.2" r="2.4" fill="#f0b27c" fill-opacity="0.58"/>
<circle cx="310.5" cy="378.4" r="2.4" fill="#f0b27c" fill-opacity="0.58"/>
<circle cx="313.8" cy="378.7" r="2.4" fill="#f0b27c" fill-opacity="0.58"/>
<circle cx="50.3" cy="539.2" r="2.4" fill="#f0b27c" fill-opacity="0.58"/>
<circle cx="53.6" cy="537.7" r="2.4" fill="#f0b27c" fill-opacity="0.58"/>
<circle cx="56.9" cy="536.4" r="2.4" fill="#f0b27c" fill-opacity="0.58"/>
<circle cx="60.2" cy="538.1" r="2.4" fill="#f0b27c" fill-opacity="0.58"/>
<circle cx="63.5" cy="538.2" r="2.4" fill="#f0b27c" fill-opacity="0.58"/>
<circle cx="66.8" cy="536.8" r="2.4" fill="#f0b27c" fill-opacity="0.58"/>
<circle cx="70.0" cy="536.1" r="2.4" fill="#f0b27c" fill-opacity="0.58"/>
<circle cx="73.3" cy="535.9" r="2.4" fill="#f0b27c" fill-opacity="0.58"/>
<circle cx="76.6" cy="538.5" r="2.4" fill="#f0b27c" fill-opacity="0.58"/>
<circle cx="79.9" cy="538.0" r="2.4" fill="#f0b27c" fill-opacity="0.58"/>
<circle cx="83.2" cy="537.1" r="2.4" fill="#f0b27c" fill-opacity="0.58"/>
<circle cx="86.5" cy="537.4" r="2.4" fill="#f0b27c" fill-opacity="0.58"/>
<circle cx="89.8" cy="536.7" r="2.4" fill="#f0b27c" fill-opacity="0.58"/>
<circle cx="93.1" cy="536.6" r="2.4" fill="#f0b27c" fill-opacity="0.58"/>
<circle cx="96.4" cy="534.7" r="2.4" fill="#f0b27c" fill-opacity="0.58"/>
<circle cx="99.7" cy="535.6" r="2.4" fill="#f0b27c" fill-opacity="0.58"/>
<circle cx="103.0" cy="534.5" r="2.4" fill="#f0b27c" fill-opacity="0.58"/>
<circle cx="106.3" cy="533.6" r="2.4" fill="#f0b27c" fill-opacity="0.58"/>
<circle cx="109.6" cy="531.2" r="2.4" fill="#f0b27c" fill-opacity="0.58"/>
<circle cx="112.9" cy="531.8" r="2.4" fill="#f0b27c" fill-opacity="0.58"/>
<circle cx="116.1" cy="528.3" r="2.4" fill="#f0b27c" fill-opacity="0.58"/>
<circle cx="119.4" cy="527.3" r="2.4" fill="#f0b27c" fill-opacity="0.58"/>
<circle cx="122.7" cy="525.5" r="2.4" fill="#f0b27c" fill-opacity="0.58"/>
<circle cx="126.0" cy="519.2" r="2.4" fill="#f0b27c" fill-opacity="0.58"/>
<circle cx="129.3" cy="516.5" r="2.4" fill="#f0b27c" fill-opacity="0.58"/>
<circle cx="132.6" cy="511.3" r="2.4" fill="#f0b27c" fill-opacity="0.58"/>
<circle cx="135.9" cy="508.6" r="2.4" fill="#f0b27c" fill-opacity="0.58"/>
<circle cx="139.2" cy="503.0" r="2.4" fill="#f0b27c" fill-opacity="0.58"/>
<circle cx="142.5" cy="498.5" r="2.4" fill="#f0b27c" fill-opacity="0.58"/>
<circle cx="145.8" cy="491.9" r="2.4" fill="#f0b27c" fill-opacity="0.58"/>
<circle cx="149.1" cy="487.6" r="2.4" fill="#f0b27c" fill-opacity="0.58"/>
<circle cx="152.4" cy="477.0" r="2.4" fill="#f0b27c" fill-opacity="0.58"/>
<circle cx="155.7" cy="475.6" r="2.4" fill="#f0b27c" fill-opacity="0.58"/>
<circle cx="159.0" cy="463.5" r="2.4" fill="#f0b27c" fill-opacity="0.58"/>
<circle cx="162.2" cy="460.7" r="2.4" fill="#f0b27c" fill-opacity="0.58"/>
<circle cx="165.5" cy="451.8" r="2.4" fill="#f0b27c" fill-opacity="0.58"/>
<circle cx="168.8" cy="446.7" r="2.4" fill="#f0b27c" fill-opacity="0.58"/>
<circle cx="172.1" cy="439.7" r="2.4" fill="#f0b27c" fill-opacity="0.58"/>
<circle cx="175.4" cy="431.6" r="2.4" fill="#f0b27c" fill-opacity="0.58"/>
<circle cx="178.7" cy="428.5" r="2.4" fill="#f0b27c" fill-opacity="0.58"/>
<circle cx="182.0" cy="425.2" r="2.4" fill="#f0b27c" fill-opacity="0.58"/>
<circle cx="185.3" cy="418.2" r="2.4" fill="#f0b27c" fill-opacity="0.58"/>
<circle cx="188.6" cy="413.1" r="2.4" fill="#f0b27c" fill-opacity="0.58"/>
<circle cx="191.9" cy="414.2" r="2.4" fill="#f0b27c" fill-opacity="0.58"/>
<circle cx="195.2" cy="405.1" r="2.4" fill="#f0b27c" fill-opacity="0.58"/>
<circle cx="198.5" cy="401.8" r="2.4" fill="#f0b27c" fill-opacity="0.58"/>
<circle cx="201.8" cy="403.1" r="2.4" fill="#f0b27c" fill-opacity="0.58"/>
<circle cx="205.0" cy="398.2" r="2.4" fill="#f0b27c" fill-opacity="0.58"/>
<circle cx="208.3" cy="394.7" r="2.4" fill="#f0b27c" fill-opacity="0.58"/>
<circle cx="211.6" cy="395.2" r="2.4" fill="#f0b27c" fill-opacity="0.58"/>
<circle cx="218.2" cy="390.7" r="2.4" fill="#f0b27c" fill-opacity="0.58"/>
<circle cx="221.5" cy="388.2" r="2.4" fill="#f0b27c" fill-opacity="0.58"/>
<circle cx="224.8" cy="386.3" r="2.4" fill="#f0b27c" fill-opacity="0.58"/>
<circle cx="228.1" cy="386.4" r="2.4" fill="#f0b27c" fill-opacity="0.58"/>
<circle cx="231.4" cy="385.2" r="2.4" fill="#f0b27c" fill-opacity="0.58"/>
<circle cx="238.0" cy="383.0" r="2.4" fill="#f0b27c" fill-opacity="0.58"/>
<circle cx="241.3" cy="382.9" r="2.4" fill="#f0b27c" fill-opacity="0.58"/>
<circle cx="244.6" cy="380.9" r="2.4" fill="#f0b27c" fill-opacity="0.58"/>
<circle cx="247.9" cy="382.9" r="2.4" fill="#f0b27c" fill-opacity="0.58"/>
<circle cx="254.4" cy="381.1" r="2.4" fill="#f0b27c" fill-opacity="0.58"/>
<circle cx="257.7" cy="380.8" r="2.4" fill="#f0b27c" fill-opacity="0.58"/>
<circle cx="261.0" cy="379.9" r="2.4" fill="#f0b27c" fill-opacity="0.58"/>
<circle cx="264.3" cy="379.9" r="2.4" fill="#f0b27c" fill-opacity="0.58"/>
<circle cx="267.6" cy="377.6" r="2.4" fill="#f0b27c" fill-opacity="0.58"/>
<circle cx="277.5" cy="378.0" r="2.4" fill="#f0b27c" fill-opacity="0.58"/>
<circle cx="280.8" cy="378.5" r="2.4" fill="#f0b27c" fill-opacity="0.58"/>
<circle cx="297.2" cy="379.0" r="2.4" fill="#f0b27c" fill-opacity="0.58"/>
<circle cx="303.8" cy="378.8" r="2.4" fill="#f0b27c" fill-opacity="0.58"/>
<circle cx="307.1" cy="380.4" r="2.4" fill="#f0b27c" fill-opacity="0.58"/>
<circle cx="310.4" cy="380.5" r="2.4" fill="#f0b27c" fill-opacity="0.58"/>
<circle cx="313.7" cy="379.1" r="2.4" fill="#f0b27c" fill-opacity="0.58"/>
</g>
<path d="M49.70,538.11 L51.42,538.11 L53.13,538.11 L54.85,538.11 L56.56,538.11 L58.28,538.11 L59.99,538.11 L61.71,538.11 L63.42,538.11 L65.14,538.11 L66.85,538.11 L68.56,538.11 L70.28,538.11 L72.00,538.11 L73.71,538.08 L75.42,537.74 L77.14,537.34 L78.86,536.90 L80.57,536.40 L82.28,535.85 L84.00,535.25 L85.72,534.60 L87.43,533.89 L89.15,533.13 L90.86,532.31 L92.58,531.44 L94.29,530.51 L96.00,529.52 L97.72,528.48 L99.44,527.38 L101.15,526.22 L102.87,524.99 L104.58,523.71 L106.30,522.37 L108.01,520.96 L109.72,519.49 L111.44,517.96 L113.16,516.37 L114.87,514.71 L116.59,512.98 L118.30,511.19 L120.02,509.33 L121.73,507.42 L123.44,505.45 L125.16,503.43 L126.88,501.35 L128.59,499.23 L130.31,497.07 L132.02,494.86 L133.74,492.62 L135.45,490.35 L137.17,488.04 L138.88,485.71 L140.60,483.35 L142.31,480.97 L144.02,478.57 L145.74,476.16 L147.45,473.73 L149.17,471.30 L150.88,468.86 L152.60,466.42 L154.31,463.98 L156.03,461.55 L157.75,459.12 L159.46,456.71 L161.18,454.31 L162.89,451.93 L164.60,449.58 L166.32,447.24 L168.03,444.94 L169.75,442.67 L171.47,440.44 L173.18,438.25 L174.90,436.10 L176.61,434.00 L178.32,431.94 L180.04,429.95 L181.75,428.00 L183.47,426.12 L185.19,424.29 L186.90,422.51 L188.62,420.79 L190.33,419.12 L192.05,417.50 L193.76,415.94 L195.47,414.42 L197.19,412.95 L198.91,411.53 L200.62,410.16 L202.33,408.83 L204.05,407.54 L205.76,406.30 L207.48,405.11 L209.19,403.95 L210.91,402.84 L212.62,401.77 L214.34,400.73 L216.06,399.73 L217.77,398.78 L219.49,397.85 L221.20,396.97 L222.92,396.11 L224.63,395.29 L226.35,394.51 L228.06,393.75 L229.77,393.03 L231.49,392.33 L233.20,391.67 L234.92,391.04 L236.63,390.43 L238.35,389.85 L240.06,389.30 L241.78,388.77 L243.50,388.27 L245.21,387.79 L246.93,387.33 L248.64,386.90 L250.36,386.49 L252.07,386.10 L253.78,385.73 L255.50,385.38 L257.22,385.05 L258.93,384.74 L260.64,384.44 L262.36,384.16 L264.07,383.90 L265.79,383.65 L267.50,383.41 L269.22,383.19 L270.94,382.98 L272.65,382.78 L274.37,382.60 L276.08,382.42 L277.80,382.25 L279.51,382.09 L281.22,381.94 L282.94,381.80 L284.66,381.66 L286.37,381.53 L288.08,381.40 L289.80,381.28 L291.51,381.15 L293.23,381.04 L294.94,380.92 L296.66,380.80 L298.38,380.69 L300.09,380.57 L301.81,380.45 L303.52,380.33 L305.24,380.20 L306.95,380.08 L308.66,379.94 L310.38,379.81 L312.09,379.66 L313.81,379.51 L315.52,379.35 L317.24,379.18 L318.95,379.00 L320.67,378.82 L322.38,378.62 L324.10,378.41" fill="none" stroke="#f0b27c" stroke-width="2.6" stroke-linejoin="round"/>
<path d="M49.70,538.46 L51.42,538.46 L53.13,538.38 L54.85,538.21 L56.56,537.97 L58.28,537.65 L59.99,537.25 L61.71,536.77 L63.42,536.22 L65.14,535.58 L66.85,534.87 L68.56,534.07 L70.28,533.20 L72.00,532.26 L73.71,531.23 L75.42,530.13 L77.14,528.95 L78.86,527.69 L80.57,526.36 L82.28,524.95 L84.00,523.47 L85.72,521.90 L87.43,520.27 L89.15,518.56 L90.86,516.77 L92.58,514.91 L94.29,512.97 L96.00,510.96 L97.72,508.87 L99.44,506.72 L101.15,504.50 L102.87,502.23 L104.58,499.90 L106.30,497.52 L108.01,495.11 L109.72,492.66 L111.44,490.19 L113.16,487.69 L114.87,485.17 L116.59,482.64 L118.30,480.11 L120.02,477.57 L121.73,475.05 L123.44,472.53 L125.16,470.03 L126.88,467.55 L128.59,465.09 L130.31,462.65 L132.02,460.22 L133.74,457.83 L135.45,455.45 L137.17,453.11 L138.88,450.79 L140.60,448.50 L142.31,446.24 L144.02,444.01 L145.74,441.82 L147.45,439.66 L149.17,437.54 L150.88,435.46 L152.60,433.42 L154.31,431.42 L156.03,429.47 L157.75,427.56 L159.46,425.69 L161.18,423.88 L162.89,422.11 L164.60,420.39 L166.32,418.72 L168.03,417.10 L169.75,415.53 L171.47,414.00 L173.18,412.52 L174.90,411.09 L176.61,409.70 L178.32,408.36 L180.04,407.06 L181.75,405.80 L183.47,404.58 L185.19,403.40 L186.90,402.27 L188.62,401.17 L190.33,400.11 L192.05,399.09 L193.76,398.11 L195.47,397.17 L197.19,396.26 L198.91,395.39 L200.62,394.55 L202.33,393.74 L204.05,392.97 L205.76,392.23 L207.48,391.52 L209.19,390.84 L210.91,390.20 L212.62,389.58 L214.34,388.99 L216.06,388.43 L217.77,387.89 L219.49,387.39 L221.20,386.90 L222.92,386.45 L224.63,386.02 L226.35,385.61 L228.06,385.22 L229.77,384.86 L231.49,384.51 L233.20,384.19 L234.92,383.89 L236.63,383.61 L238.35,383.34 L240.06,383.10 L241.78,382.87 L243.50,382.65 L245.21,382.46 L246.93,382.27 L248.64,382.11 L250.36,381.95 L252.07,381.81 L253.78,381.68 L255.50,381.56 L257.22,381.45 L258.93,381.35 L260.64,381.26 L262.36,381.18 L264.07,381.10 L265.79,381.03 L267.50,380.97 L269.22,380.91 L270.94,380.86 L272.65,380.81 L274.37,380.77 L276.08,380.73 L277.80,380.68 L279.51,380.64 L281.22,380.60 L282.94,380.56 L284.66,380.52 L286.37,380.48 L288.08,380.43 L289.80,380.38 L291.51,380.33 L293.23,380.27 L294.94,380.21 L296.66,380.14 L298.38,380.06 L300.09,379.97 L301.81,379.88 L303.52,379.77 L305.24,379.66 L306.95,379.54 L308.66,379.40 L310.38,379.25 L312.09,379.09 L313.81,378.92 L315.52,378.73 L317.24,378.52 L318.95,378.30 L320.67,378.07 L322.38,377.90 L324.10,377.90" fill="none" stroke="#3f86c6" stroke-width="2.6" stroke-linejoin="round"/>
<path d="M49.70,495.16 L51.42,494.98 L53.13,494.51 L54.85,493.75 L56.56,492.73 L58.28,491.47 L59.99,489.97 L61.71,488.26 L63.42,486.35 L65.14,484.25 L66.85,481.98 L68.56,479.55 L70.28,476.99 L72.00,474.30 L73.71,471.50 L75.42,468.61 L77.14,465.64 L78.86,462.60 L80.57,459.52 L82.28,456.40 L84.00,453.27 L85.72,450.14 L87.43,447.01 L89.15,443.92 L90.86,440.87 L92.58,437.88 L94.29,434.97 L96.00,432.15 L97.72,429.43 L99.44,426.81 L101.15,424.30 L102.87,421.89 L104.58,419.57 L106.30,417.35 L108.01,415.22 L109.72,413.18 L111.44,411.23 L113.16,409.37 L114.87,407.58 L116.59,405.87 L118.30,404.24 L120.02,402.68 L121.73,401.20 L123.44,399.78 L125.16,398.42 L126.88,397.13 L128.59,395.90 L130.31,394.72 L132.02,393.60 L133.74,392.54 L135.45,391.52 L137.17,390.55 L138.88,389.62 L140.60,388.73 L142.31,387.88 L144.02,387.07 L145.74,386.30 L147.45,385.57 L149.17,384.87 L150.88,384.20 L152.60,383.58 L154.31,382.98 L156.03,382.42 L157.75,381.90 L159.46,381.40 L161.18,380.94 L162.89,380.51 L164.60,380.10 L166.32,379.73 L168.03,379.39 L169.75,379.07 L171.47,378.78 L173.18,378.52 L174.90,378.28 L176.61,378.07 L178.32,377.91 L180.04,377.90 L181.75,377.90 L183.47,377.90 L185.19,377.90 L186.90,377.90 L188.62,377.90 L190.33,377.90 L192.05,377.90 L193.76,377.90 L195.47,377.90 L197.19,377.90 L198.91,377.90 L200.62,377.90 L202.33,377.90 L204.05,377.90 L205.76,377.90 L207.48,377.90 L209.19,377.90 L210.91,377.90 L212.62,377.90 L214.34,377.90 L216.06,377.90 L217.77,377.90 L219.49,377.90 L221.20,377.90 L222.92,377.90 L224.63,377.90 L226.35,377.90 L228.06,377.90 L229.77,377.90 L231.49,377.90 L233.20,377.90 L234.92,377.90 L236.63,377.90 L238.35,377.90 L240.06,377.90 L241.78,377.90 L243.50,377.90 L245.21,377.90 L246.93,377.90 L248.64,377.90 L250.36,377.90 L252.07,377.90 L253.78,377.90 L255.50,377.90 L257.22,377.90 L258.93,377.90 L260.64,377.90 L262.36,377.90 L264.07,377.90 L265.79,377.90 L267.50,377.90 L269.22,377.90 L270.94,377.90 L272.65,377.90 L274.37,377.90 L276.08,377.90 L277.80,377.90 L279.51,377.90 L281.22,377.90 L282.94,377.90 L284.66,377.90 L286.37,377.90 L288.08,377.90 L289.80,377.90 L291.51,377.90 L293.23,377.90 L294.94,377.90 L296.66,377.90 L298.38,377.90 L300.09,377.90 L301.81,377.90 L303.52,377.90 L305.24,377.90 L306.95,377.90 L308.66,377.90 L310.38,377.90 L312.09,377.90 L313.81,377.90 L315.52,377.90 L317.24,377.90 L318.95,377.90 L320.67,377.90 L322.38,377.90 L324.10,377.90" fill="none" stroke="#d55f1d" stroke-width="2.6" stroke-linejoin="round"/>
<path d="M49.70,493.78 L51.42,486.70 L53.13,479.94 L54.85,473.49 L56.56,467.34 L58.28,461.48 L59.99,455.91 L61.71,450.62 L63.42,445.59 L65.14,440.83 L66.85,436.32 L68.56,432.05 L70.28,428.02 L72.00,424.22 L73.71,420.64 L75.42,417.27 L77.14,414.11 L78.86,411.14 L80.57,408.36 L82.28,405.76 L84.00,403.33 L85.72,401.06 L87.43,398.95 L89.15,396.98 L90.86,395.16 L92.58,393.46 L94.29,391.90 L96.00,390.45 L97.72,389.12 L99.44,387.90 L101.15,386.78 L102.87,385.77 L104.58,384.86 L106.30,384.04 L108.01,383.30 L109.72,382.65 L111.44,382.08 L113.16,381.58 L114.87,381.15 L116.59,380.79 L118.30,380.48 L120.02,380.23 L121.73,380.03 L123.44,379.87 L125.16,379.75 L126.88,379.67 L128.59,379.62 L130.31,379.60 L132.02,379.59 L133.74,379.59 L135.45,379.59 L137.17,379.59 L138.88,379.59 L140.60,379.59 L142.31,379.59 L144.02,379.59 L145.74,379.59 L147.45,379.59 L149.17,379.59 L150.88,379.59 L152.60,379.59 L154.31,379.59 L156.03,379.59 L157.75,379.59 L159.46,379.59 L161.18,379.59 L162.89,379.59 L164.60,379.59 L166.32,379.59 L168.03,379.59 L169.75,379.57 L171.47,379.53 L173.18,379.48 L174.90,379.43 L176.61,379.37 L178.32,379.32 L180.04,379.26 L181.75,379.20 L183.47,379.13 L185.19,379.07 L186.90,379.00 L188.62,378.93 L190.33,378.86 L192.05,378.78 L193.76,378.71 L195.47,378.63 L197.19,378.55 L198.91,378.47 L200.62,378.39 L202.33,378.31 L204.05,378.23 L205.76,378.15 L207.48,378.06 L209.19,377.98 L210.91,377.90 L212.62,377.90 L214.34,377.90 L216.06,377.90 L217.77,377.90 L219.49,377.90 L221.20,377.90 L222.92,377.90 L224.63,377.90 L226.35,377.90 L228.06,377.90 L229.77,377.90 L231.49,377.90 L233.20,377.90 L234.92,377.90 L236.63,377.90 L238.35,377.90 L240.06,377.90 L241.78,377.90 L243.50,377.90 L245.21,377.90 L246.93,377.90 L248.64,377.90 L250.36,377.90 L252.07,377.90 L253.78,377.90 L255.50,377.90 L257.22,377.90 L258.93,377.90 L260.64,377.90 L262.36,377.90 L264.07,377.90 L265.79,377.90 L267.50,377.90 L269.22,377.90 L270.94,377.90 L272.65,377.90 L274.37,377.90 L276.08,377.90 L277.80,377.90 L279.51,377.90 L281.22,377.90 L282.94,377.90 L284.66,377.90 L286.37,377.90 L288.08,377.90 L289.80,377.90 L291.51,377.90 L293.23,377.90 L294.94,377.90 L296.66,377.90 L298.38,377.90 L300.09,377.90 L301.81,377.90 L303.52,377.90 L305.24,377.90 L306.95,377.90 L308.66,377.90 L310.38,377.90 L312.09,377.90 L313.81,377.90 L315.52,377.90 L317.24,377.90 L318.95,377.90 L320.67,377.90 L322.38,377.90 L324.10,377.90" fill="none" stroke="#203e66" stroke-width="2.6" stroke-linejoin="round"/>
<g stroke="#ff2414" stroke-width="8.2" stroke-linecap="butt">
<line x1="252.6" y1="420.3" x2="297.8" y2="464.8"/><line x1="297.8" y1="420.3" x2="252.6" y2="464.8"/>
</g>
<rect x="36.70" y="359.90" width="288.40" height="187.20" fill="none" stroke="#000" stroke-width="1.5"/>
<line x1="34.90" y1="541.80" x2="36.70" y2="541.80" stroke="#444" stroke-width="0.8"/>
<text x="33.20" y="545.20" font-size="9.6" font-weight="bold" textLength="14.3" lengthAdjust="spacingAndGlyphs" text-anchor="end" fill="#111" stroke="#111" stroke-width="0.3">0.0</text>
<line x1="34.90" y1="509.02" x2="36.70" y2="509.02" stroke="#444" stroke-width="0.8"/>
<text x="33.20" y="512.42" font-size="9.6" font-weight="bold" textLength="14.3" lengthAdjust="spacingAndGlyphs" text-anchor="end" fill="#111" stroke="#111" stroke-width="0.3">0.2</text>
<line x1="34.90" y1="476.24" x2="36.70" y2="476.24" stroke="#444" stroke-width="0.8"/>
<text x="33.20" y="479.64" font-size="9.6" font-weight="bold" textLength="14.3" lengthAdjust="spacingAndGlyphs" text-anchor="end" fill="#111" stroke="#111" stroke-width="0.3">0.4</text>
<line x1="34.90" y1="443.46" x2="36.70" y2="443.46" stroke="#444" stroke-width="0.8"/>
<text x="33.20" y="446.86" font-size="9.6" font-weight="bold" textLength="14.3" lengthAdjust="spacingAndGlyphs" text-anchor="end" fill="#111" stroke="#111" stroke-width="0.3">0.6</text>
<line x1="34.90" y1="410.68" x2="36.70" y2="410.68" stroke="#444" stroke-width="0.8"/>
<text x="33.20" y="414.08" font-size="9.6" font-weight="bold" textLength="14.3" lengthAdjust="spacingAndGlyphs" text-anchor="end" fill="#111" stroke="#111" stroke-width="0.3">0.8</text>
<line x1="34.90" y1="377.90" x2="36.70" y2="377.90" stroke="#444" stroke-width="0.8"/>
<text x="33.20" y="381.30" font-size="9.6" font-weight="bold" textLength="14.3" lengthAdjust="spacingAndGlyphs" text-anchor="end" fill="#111" stroke="#111" stroke-width="0.3">1.0</text>
<line x1="49.70" y1="547.10" x2="49.70" y2="548.90" stroke="#444" stroke-width="0.8"/>
<text x="49.70" y="557.30" font-size="9.6" font-weight="bold" textLength="14.4" lengthAdjust="spacingAndGlyphs" text-anchor="middle" fill="#111" stroke="#111" stroke-width="0.3">0.0</text>
<line x1="84.00" y1="547.10" x2="84.00" y2="548.90" stroke="#444" stroke-width="0.8"/>
<text x="84.00" y="557.30" font-size="9.6" font-weight="bold" textLength="14.4" lengthAdjust="spacingAndGlyphs" text-anchor="middle" fill="#111" stroke="#111" stroke-width="0.3">0.5</text>
<line x1="118.30" y1="547.10" x2="118.30" y2="548.90" stroke="#444" stroke-width="0.8"/>
<text x="118.30" y="557.30" font-size="9.6" font-weight="bold" textLength="14.4" lengthAdjust="spacingAndGlyphs" text-anchor="middle" fill="#111" stroke="#111" stroke-width="0.3">1.0</text>
<line x1="152.60" y1="547.10" x2="152.60" y2="548.90" stroke="#444" stroke-width="0.8"/>
<text x="152.60" y="557.30" font-size="9.6" font-weight="bold" textLength="14.4" lengthAdjust="spacingAndGlyphs" text-anchor="middle" fill="#111" stroke="#111" stroke-width="0.3">1.5</text>
<line x1="186.90" y1="547.10" x2="186.90" y2="548.90" stroke="#444" stroke-width="0.8"/>
<text x="186.90" y="557.30" font-size="9.6" font-weight="bold" textLength="14.4" lengthAdjust="spacingAndGlyphs" text-anchor="middle" fill="#111" stroke="#111" stroke-width="0.3">2.0</text>
<line x1="221.20" y1="547.10" x2="221.20" y2="548.90" stroke="#444" stroke-width="0.8"/>
<text x="221.20" y="557.30" font-size="9.6" font-weight="bold" textLength="14.4" lengthAdjust="spacingAndGlyphs" text-anchor="middle" fill="#111" stroke="#111" stroke-width="0.3">2.5</text>
<line x1="255.50" y1="547.10" x2="255.50" y2="548.90" stroke="#444" stroke-width="0.8"/>
<text x="255.50" y="557.30" font-size="9.6" font-weight="bold" textLength="14.4" lengthAdjust="spacingAndGlyphs" text-anchor="middle" fill="#111" stroke="#111" stroke-width="0.3">3.0</text>
<line x1="289.80" y1="547.10" x2="289.80" y2="548.90" stroke="#444" stroke-width="0.8"/>
<text x="289.80" y="557.30" font-size="9.6" font-weight="bold" textLength="14.4" lengthAdjust="spacingAndGlyphs" text-anchor="middle" fill="#111" stroke="#111" stroke-width="0.3">3.5</text>
<line x1="324.10" y1="547.10" x2="324.10" y2="548.90" stroke="#444" stroke-width="0.8"/>
<text x="324.10" y="557.30" font-size="9.6" font-weight="bold" textLength="14.4" lengthAdjust="spacingAndGlyphs" text-anchor="middle" fill="#111" stroke="#111" stroke-width="0.3">4.0</text>
<text x="180.40" y="568.00" font-size="10.2" font-weight="bold" textLength="47.6" lengthAdjust="spacingAndGlyphs" text-anchor="middle" fill="#111" stroke="#111" stroke-width="0.35">Time (h)</text>
<text transform="translate(14.20,453.40) rotate(-90)" x="0" y="0" font-size="10" font-weight="bold" stroke="#111" stroke-width="0.35" textLength="194.3" lengthAdjust="spacingAndGlyphs" text-anchor="middle" fill="#111">Relative aggregate concentration</text>
<circle cx="187.10" cy="488.10" r="4" fill="#203e66"/>
<text x="198.00" y="491.50" font-size="10" textLength="95.2" lengthAdjust="spacingAndGlyphs" fill="#1e1e1e">2 <tspan font-style="italic">μ</tspan>M Control seeds</text>
<circle cx="187.10" cy="500.10" r="4" fill="#d55f1d"/>
<text x="198.00" y="503.50" font-size="10" textLength="104.4" lengthAdjust="spacingAndGlyphs" fill="#1e1e1e">2 <tspan font-style="italic">μ</tspan>M Annealed seeds</text>
<circle cx="187.10" cy="512.10" r="4" fill="#3f86c6"/>
<text x="198.00" y="515.50" font-size="10" textLength="104.0" lengthAdjust="spacingAndGlyphs" fill="#1e1e1e">0.1 <tspan font-style="italic">μ</tspan>M Control seeds</text>
<circle cx="187.10" cy="524.10" r="4" fill="#f0b27c"/>
<text x="198.00" y="527.50" font-size="10" textLength="113.9" lengthAdjust="spacingAndGlyphs" fill="#1e1e1e">0.1 <tspan font-style="italic">μ</tspan>M Annealed seeds</text>
<g>
<circle cx="395.9" cy="495.2" r="2.4" fill="#203e66" fill-opacity="0.58"/>
<circle cx="399.2" cy="492.4" r="2.4" fill="#203e66" fill-opacity="0.58"/>
<circle cx="402.5" cy="485.7" r="2.4" fill="#203e66" fill-opacity="0.58"/>
<circle cx="405.8" cy="476.1" r="2.4" fill="#203e66" fill-opacity="0.58"/>
<circle cx="409.1" cy="472.0" r="2.4" fill="#203e66" fill-opacity="0.58"/>
<circle cx="412.4" cy="467.0" r="2.4" fill="#203e66" fill-opacity="0.58"/>
<circle cx="415.7" cy="459.7" r="2.4" fill="#203e66" fill-opacity="0.58"/>
<circle cx="418.9" cy="441.2" r="2.4" fill="#203e66" fill-opacity="0.58"/>
<circle cx="422.2" cy="426.5" r="2.4" fill="#203e66" fill-opacity="0.58"/>
<circle cx="425.5" cy="427.0" r="2.4" fill="#203e66" fill-opacity="0.58"/>
<circle cx="428.8" cy="428.8" r="2.4" fill="#203e66" fill-opacity="0.58"/>
<circle cx="432.1" cy="419.9" r="2.4" fill="#203e66" fill-opacity="0.58"/>
<circle cx="435.4" cy="399.6" r="2.4" fill="#203e66" fill-opacity="0.58"/>
<circle cx="438.7" cy="402.1" r="2.4" fill="#203e66" fill-opacity="0.58"/>
<circle cx="442.0" cy="406.3" r="2.4" fill="#203e66" fill-opacity="0.58"/>
<circle cx="445.2" cy="395.0" r="2.4" fill="#203e66" fill-opacity="0.58"/>
<circle cx="448.5" cy="395.7" r="2.4" fill="#203e66" fill-opacity="0.58"/>
<circle cx="451.8" cy="390.8" r="2.4" fill="#203e66" fill-opacity="0.58"/>
<circle cx="455.1" cy="388.0" r="2.4" fill="#203e66" fill-opacity="0.58"/>
<circle cx="458.4" cy="386.7" r="2.4" fill="#203e66" fill-opacity="0.58"/>
<circle cx="461.7" cy="382.0" r="2.4" fill="#203e66" fill-opacity="0.58"/>
<circle cx="465.0" cy="382.5" r="2.4" fill="#203e66" fill-opacity="0.58"/>
<circle cx="468.3" cy="382.9" r="2.4" fill="#203e66" fill-opacity="0.58"/>
<circle cx="471.5" cy="380.2" r="2.4" fill="#203e66" fill-opacity="0.58"/>
<circle cx="474.8" cy="379.0" r="2.4" fill="#203e66" fill-opacity="0.58"/>
<circle cx="478.1" cy="383.9" r="2.4" fill="#203e66" fill-opacity="0.58"/>
<circle cx="481.4" cy="381.0" r="2.4" fill="#203e66" fill-opacity="0.58"/>
<circle cx="396.1" cy="491.2" r="2.4" fill="#203e66" fill-opacity="0.58"/>
<circle cx="399.4" cy="489.3" r="2.4" fill="#203e66" fill-opacity="0.58"/>
<circle cx="402.7" cy="478.8" r="2.4" fill="#203e66" fill-opacity="0.58"/>
<circle cx="406.0" cy="476.5" r="2.4" fill="#203e66" fill-opacity="0.58"/>
<circle cx="409.3" cy="466.5" r="2.4" fill="#203e66" fill-opacity="0.58"/>
<circle cx="412.6" cy="455.5" r="2.4" fill="#203e66" fill-opacity="0.58"/>
<circle cx="415.9" cy="453.5" r="2.4" fill="#203e66" fill-opacity="0.58"/>
<circle cx="419.2" cy="439.2" r="2.4" fill="#203e66" fill-opacity="0.58"/>
<circle cx="422.4" cy="420.8" r="2.4" fill="#203e66" fill-opacity="0.58"/>
<circle cx="425.7" cy="424.4" r="2.4" fill="#203e66" fill-opacity="0.58"/>
<circle cx="429.0" cy="416.3" r="2.4" fill="#203e66" fill-opacity="0.58"/>
<circle cx="432.3" cy="416.1" r="2.4" fill="#203e66" fill-opacity="0.58"/>
<circle cx="435.6" cy="411.5" r="2.4" fill="#203e66" fill-opacity="0.58"/>
<circle cx="438.9" cy="416.8" r="2.4" fill="#203e66" fill-opacity="0.58"/>
<circle cx="442.2" cy="415.2" r="2.4" fill="#203e66" fill-opacity="0.58"/>
<circle cx="445.5" cy="412.3" r="2.4" fill="#203e66" fill-opacity="0.58"/>
<circle cx="448.7" cy="412.3" r="2.4" fill="#203e66" fill-opacity="0.58"/>
<circle cx="452.0" cy="416.1" r="2.4" fill="#203e66" fill-opacity="0.58"/>
<circle cx="455.3" cy="403.7" r="2.4" fill="#203e66" fill-opacity="0.58"/>
<circle cx="458.6" cy="411.6" r="2.4" fill="#203e66" fill-opacity="0.58"/>
<circle cx="461.9" cy="405.5" r="2.4" fill="#203e66" fill-opacity="0.58"/>
<circle cx="465.2" cy="398.3" r="2.4" fill="#203e66" fill-opacity="0.58"/>
<circle cx="468.5" cy="382.7" r="2.4" fill="#203e66" fill-opacity="0.58"/>
<circle cx="471.8" cy="382.0" r="2.4" fill="#203e66" fill-opacity="0.58"/>
<circle cx="475.1" cy="380.3" r="2.4" fill="#203e66" fill-opacity="0.58"/>
<circle cx="478.3" cy="380.1" r="2.4" fill="#203e66" fill-opacity="0.58"/>
<circle cx="481.6" cy="377.5" r="2.4" fill="#203e66" fill-opacity="0.58"/>
<circle cx="395.3" cy="492.0" r="2.4" fill="#203e66" fill-opacity="0.58"/>
<circle cx="398.6" cy="488.5" r="2.4" fill="#203e66" fill-opacity="0.58"/>
<circle cx="401.9" cy="484.3" r="2.4" fill="#203e66" fill-opacity="0.58"/>
<circle cx="405.2" cy="476.9" r="2.4" fill="#203e66" fill-opacity="0.58"/>
<circle cx="408.5" cy="469.9" r="2.4" fill="#203e66" fill-opacity="0.58"/>
<circle cx="411.8" cy="452.7" r="2.4" fill="#203e66" fill-opacity="0.58"/>
<circle cx="415.1" cy="433.8" r="2.4" fill="#203e66" fill-opacity="0.58"/>
<circle cx="418.4" cy="431.0" r="2.4" fill="#203e66" fill-opacity="0.58"/>
<circle cx="421.6" cy="415.9" r="2.4" fill="#203e66" fill-opacity="0.58"/>
<circle cx="424.9" cy="400.5" r="2.4" fill="#203e66" fill-opacity="0.58"/>
<circle cx="428.2" cy="412.1" r="2.4" fill="#203e66" fill-opacity="0.58"/>
<circle cx="431.5" cy="402.1" r="2.4" fill="#203e66" fill-opacity="0.58"/>
<circle cx="434.8" cy="403.5" r="2.4" fill="#203e66" fill-opacity="0.58"/>
<circle cx="438.1" cy="407.3" r="2.4" fill="#203e66" fill-opacity="0.58"/>
<circle cx="441.4" cy="407.8" r="2.4" fill="#203e66" fill-opacity="0.58"/>
<circle cx="444.7" cy="402.9" r="2.4" fill="#203e66" fill-opacity="0.58"/>
<circle cx="447.9" cy="400.7" r="2.4" fill="#203e66" fill-opacity="0.58"/>
<circle cx="451.2" cy="405.1" r="2.4" fill="#203e66" fill-opacity="0.58"/>
<circle cx="454.5" cy="400.5" r="2.4" fill="#203e66" fill-opacity="0.58"/>
<circle cx="457.8" cy="394.0" r="2.4" fill="#203e66" fill-opacity="0.58"/>
<circle cx="461.1" cy="387.0" r="2.4" fill="#203e66" fill-opacity="0.58"/>
<circle cx="464.4" cy="378.9" r="2.4" fill="#203e66" fill-opacity="0.58"/>
<circle cx="467.7" cy="374.2" r="2.4" fill="#203e66" fill-opacity="0.58"/>
<circle cx="471.0" cy="372.5" r="2.4" fill="#203e66" fill-opacity="0.58"/>
<circle cx="474.2" cy="371.2" r="2.4" fill="#203e66" fill-opacity="0.58"/>
<circle cx="477.5" cy="374.1" r="2.4" fill="#203e66" fill-opacity="0.58"/>
<circle cx="480.8" cy="375.7" r="2.4" fill="#203e66" fill-opacity="0.58"/>
<circle cx="395.5" cy="494.6" r="2.4" fill="#d55f1d" fill-opacity="0.58"/>
<circle cx="398.8" cy="494.5" r="2.4" fill="#d55f1d" fill-opacity="0.58"/>
<circle cx="402.0" cy="495.2" r="2.4" fill="#d55f1d" fill-opacity="0.58"/>
<circle cx="405.3" cy="491.8" r="2.4" fill="#d55f1d" fill-opacity="0.58"/>
<circle cx="408.6" cy="492.9" r="2.4" fill="#d55f1d" fill-opacity="0.58"/>
<circle cx="411.9" cy="494.3" r="2.4" fill="#d55f1d" fill-opacity="0.58"/>
<circle cx="415.2" cy="491.2" r="2.4" fill="#d55f1d" fill-opacity="0.58"/>
<circle cx="418.5" cy="489.4" r="2.4" fill="#d55f1d" fill-opacity="0.58"/>
<circle cx="421.8" cy="493.3" r="2.4" fill="#d55f1d" fill-opacity="0.58"/>
<circle cx="425.1" cy="488.8" r="2.4" fill="#d55f1d" fill-opacity="0.58"/>
<circle cx="428.3" cy="486.5" r="2.4" fill="#d55f1d" fill-opacity="0.58"/>
<circle cx="431.6" cy="481.9" r="2.4" fill="#d55f1d" fill-opacity="0.58"/>
<circle cx="434.9" cy="480.7" r="2.4" fill="#d55f1d" fill-opacity="0.58"/>
<circle cx="438.2" cy="477.7" r="2.4" fill="#d55f1d" fill-opacity="0.58"/>
<circle cx="441.5" cy="473.6" r="2.4" fill="#d55f1d" fill-opacity="0.58"/>
<circle cx="444.8" cy="463.5" r="2.4" fill="#d55f1d" fill-opacity="0.58"/>
<circle cx="448.1" cy="457.7" r="2.4" fill="#d55f1d" fill-opacity="0.58"/>
<circle cx="451.4" cy="462.5" r="2.4" fill="#d55f1d" fill-opacity="0.58"/>
<circle cx="454.6" cy="459.4" r="2.4" fill="#d55f1d" fill-opacity="0.58"/>
<circle cx="457.9" cy="439.8" r="2.4" fill="#d55f1d" fill-opacity="0.58"/>
<circle cx="461.2" cy="449.7" r="2.4" fill="#d55f1d" fill-opacity="0.58"/>
<circle cx="464.5" cy="442.9" r="2.4" fill="#d55f1d" fill-opacity="0.58"/>
<circle cx="467.8" cy="435.2" r="2.4" fill="#d55f1d" fill-opacity="0.58"/>
<circle cx="471.1" cy="428.2" r="2.4" fill="#d55f1d" fill-opacity="0.58"/>
<circle cx="474.4" cy="421.0" r="2.4" fill="#d55f1d" fill-opacity="0.58"/>
<circle cx="477.7" cy="419.0" r="2.4" fill="#d55f1d" fill-opacity="0.58"/>
<circle cx="481.0" cy="419.5" r="2.4" fill="#d55f1d" fill-opacity="0.58"/>
<circle cx="484.2" cy="410.1" r="2.4" fill="#d55f1d" fill-opacity="0.58"/>
<circle cx="487.5" cy="407.3" r="2.4" fill="#d55f1d" fill-opacity="0.58"/>
<circle cx="490.8" cy="398.5" r="2.4" fill="#d55f1d" fill-opacity="0.58"/>
<circle cx="546.7" cy="379.3" r="2.4" fill="#d55f1d" fill-opacity="0.58"/>
<circle cx="573.0" cy="375.5" r="2.4" fill="#d55f1d" fill-opacity="0.58"/>
<circle cx="579.6" cy="377.0" r="2.4" fill="#d55f1d" fill-opacity="0.58"/>
<circle cx="395.4" cy="492.5" r="2.4" fill="#d55f1d" fill-opacity="0.58"/>
<circle cx="398.7" cy="493.9" r="2.4" fill="#d55f1d" fill-opacity="0.58"/>
<circle cx="402.0" cy="493.8" r="2.4" fill="#d55f1d" fill-opacity="0.58"/>
<circle cx="405.2" cy="493.8" r="2.4" fill="#d55f1d" fill-opacity="0.58"/>
<circle cx="408.5" cy="495.2" r="2.4" fill="#d55f1d" fill-opacity="0.58"/>
<circle cx="411.8" cy="493.0" r="2.4" fill="#d55f1d" fill-opacity="0.58"/>
<circle cx="415.1" cy="493.3" r="2.4" fill="#d55f1d" fill-opacity="0.58"/>
<circle cx="418.4" cy="492.3" r="2.4" fill="#d55f1d" fill-opacity="0.58"/>
<circle cx="421.7" cy="490.7" r="2.4" fill="#d55f1d" fill-opacity="0.58"/>
<circle cx="425.0" cy="490.9" r="2.4" fill="#d55f1d" fill-opacity="0.58"/>
<circle cx="428.3" cy="486.2" r="2.4" fill="#d55f1d" fill-opacity="0.58"/>
<circle cx="431.5" cy="487.0" r="2.4" fill="#d55f1d" fill-opacity="0.58"/>
<circle cx="434.8" cy="485.3" r="2.4" fill="#d55f1d" fill-opacity="0.58"/>
<circle cx="438.1" cy="482.8" r="2.4" fill="#d55f1d" fill-opacity="0.58"/>
<circle cx="441.4" cy="477.5" r="2.4" fill="#d55f1d" fill-opacity="0.58"/>
<circle cx="444.7" cy="472.5" r="2.4" fill="#d55f1d" fill-opacity="0.58"/>
<circle cx="448.0" cy="472.9" r="2.4" fill="#d55f1d" fill-opacity="0.58"/>
<circle cx="451.3" cy="472.3" r="2.4" fill="#d55f1d" fill-opacity="0.58"/>
<circle cx="454.6" cy="459.4" r="2.4" fill="#d55f1d" fill-opacity="0.58"/>
<circle cx="457.8" cy="462.9" r="2.4" fill="#d55f1d" fill-opacity="0.58"/>
<circle cx="461.1" cy="449.7" r="2.4" fill="#d55f1d" fill-opacity="0.58"/>
<circle cx="464.4" cy="450.0" r="2.4" fill="#d55f1d" fill-opacity="0.58"/>
<circle cx="467.7" cy="448.0" r="2.4" fill="#d55f1d" fill-opacity="0.58"/>
<circle cx="471.0" cy="443.1" r="2.4" fill="#d55f1d" fill-opacity="0.58"/>
<circle cx="474.3" cy="433.7" r="2.4" fill="#d55f1d" fill-opacity="0.58"/>
<circle cx="477.6" cy="427.2" r="2.4" fill="#d55f1d" fill-opacity="0.58"/>
<circle cx="480.9" cy="427.3" r="2.4" fill="#d55f1d" fill-opacity="0.58"/>
<circle cx="484.2" cy="418.2" r="2.4" fill="#d55f1d" fill-opacity="0.58"/>
<circle cx="487.4" cy="409.7" r="2.4" fill="#d55f1d" fill-opacity="0.58"/>
<circle cx="490.7" cy="414.7" r="2.4" fill="#d55f1d" fill-opacity="0.58"/>
<circle cx="500.6" cy="408.4" r="2.4" fill="#d55f1d" fill-opacity="0.58"/>
<circle cx="503.9" cy="403.0" r="2.4" fill="#d55f1d" fill-opacity="0.58"/>
<circle cx="517.0" cy="398.5" r="2.4" fill="#d55f1d" fill-opacity="0.58"/>
<circle cx="520.3" cy="393.5" r="2.4" fill="#d55f1d" fill-opacity="0.58"/>
<circle cx="536.8" cy="381.7" r="2.4" fill="#d55f1d" fill-opacity="0.58"/>
<circle cx="556.5" cy="381.8" r="2.4" fill="#d55f1d" fill-opacity="0.58"/>
<circle cx="579.5" cy="376.7" r="2.4" fill="#d55f1d" fill-opacity="0.58"/>
<circle cx="582.8" cy="378.5" r="2.4" fill="#d55f1d" fill-opacity="0.58"/>
<circle cx="396.1" cy="493.5" r="2.4" fill="#d55f1d" fill-opacity="0.58"/>
<circle cx="399.4" cy="495.0" r="2.4" fill="#d55f1d" fill-opacity="0.58"/>
<circle cx="402.7" cy="492.2" r="2.4" fill="#d55f1d" fill-opacity="0.58"/>
<circle cx="406.0" cy="494.3" r="2.4" fill="#d55f1d" fill-opacity="0.58"/>
<circle cx="409.2" cy="495.2" r="2.4" fill="#d55f1d" fill-opacity="0.58"/>
<circle cx="412.5" cy="491.7" r="2.4" fill="#d55f1d" fill-opacity="0.58"/>
<circle cx="415.8" cy="492.0" r="2.4" fill="#d55f1d" fill-opacity="0.58"/>
<circle cx="419.1" cy="491.7" r="2.4" fill="#d55f1d" fill-opacity="0.58"/>
<circle cx="422.4" cy="490.7" r="2.4" fill="#d55f1d" fill-opacity="0.58"/>
<circle cx="425.7" cy="490.7" r="2.4" fill="#d55f1d" fill-opacity="0.58"/>
<circle cx="429.0" cy="489.1" r="2.4" fill="#d55f1d" fill-opacity="0.58"/>
<circle cx="432.3" cy="485.9" r="2.4" fill="#d55f1d" fill-opacity="0.58"/>
<circle cx="435.6" cy="483.4" r="2.4" fill="#d55f1d" fill-opacity="0.58"/>
<circle cx="438.8" cy="481.1" r="2.4" fill="#d55f1d" fill-opacity="0.58"/>
<circle cx="442.1" cy="480.2" r="2.4" fill="#d55f1d" fill-opacity="0.58"/>
<circle cx="445.4" cy="479.2" r="2.4" fill="#d55f1d" fill-opacity="0.58"/>
<circle cx="448.7" cy="475.5" r="2.4" fill="#d55f1d" fill-opacity="0.58"/>
<circle cx="452.0" cy="468.4" r="2.4" fill="#d55f1d" fill-opacity="0.58"/>
<circle cx="455.3" cy="463.6" r="2.4" fill="#d55f1d" fill-opacity="0.58"/>
<circle cx="458.6" cy="465.8" r="2.4" fill="#d55f1d" fill-opacity="0.58"/>
<circle cx="461.9" cy="462.5" r="2.4" fill="#d55f1d" fill-opacity="0.58"/>
<circle cx="465.1" cy="451.9" r="2.4" fill="#d55f1d" fill-opacity="0.58"/>
<circle cx="468.4" cy="449.6" r="2.4" fill="#d55f1d" fill-opacity="0.58"/>
<circle cx="471.7" cy="445.4" r="2.4" fill="#d55f1d" fill-opacity="0.58"/>
<circle cx="475.0" cy="449.4" r="2.4" fill="#d55f1d" fill-opacity="0.58"/>
<circle cx="478.3" cy="441.2" r="2.4" fill="#d55f1d" fill-opacity="0.58"/>
<circle cx="481.6" cy="437.4" r="2.4" fill="#d55f1d" fill-opacity="0.58"/>
<circle cx="484.9" cy="430.1" r="2.4" fill="#d55f1d" fill-opacity="0.58"/>
<circle cx="488.2" cy="433.8" r="2.4" fill="#d55f1d" fill-opacity="0.58"/>
<circle cx="494.7" cy="417.6" r="2.4" fill="#d55f1d" fill-opacity="0.58"/>
<circle cx="498.0" cy="413.5" r="2.4" fill="#d55f1d" fill-opacity="0.58"/>
<circle cx="501.3" cy="416.0" r="2.4" fill="#d55f1d" fill-opacity="0.58"/>
<circle cx="507.9" cy="401.1" r="2.4" fill="#d55f1d" fill-opacity="0.58"/>
<circle cx="511.2" cy="407.8" r="2.4" fill="#d55f1d" fill-opacity="0.58"/>
<circle cx="514.5" cy="399.4" r="2.4" fill="#d55f1d" fill-opacity="0.58"/>
<circle cx="517.8" cy="396.1" r="2.4" fill="#d55f1d" fill-opacity="0.58"/>
<circle cx="524.3" cy="392.0" r="2.4" fill="#d55f1d" fill-opacity="0.58"/>
<circle cx="534.2" cy="388.3" r="2.4" fill="#d55f1d" fill-opacity="0.58"/>
<circle cx="547.3" cy="382.9" r="2.4" fill="#d55f1d" fill-opacity="0.58"/>
<circle cx="550.6" cy="386.2" r="2.4" fill="#d55f1d" fill-opacity="0.58"/>
<circle cx="557.2" cy="381.7" r="2.4" fill="#d55f1d" fill-opacity="0.58"/>
<circle cx="563.8" cy="381.9" r="2.4" fill="#d55f1d" fill-opacity="0.58"/>
<circle cx="567.1" cy="380.3" r="2.4" fill="#d55f1d" fill-opacity="0.58"/>
<circle cx="570.4" cy="382.3" r="2.4" fill="#d55f1d" fill-opacity="0.58"/>
<circle cx="573.6" cy="380.2" r="2.4" fill="#d55f1d" fill-opacity="0.58"/>
<circle cx="580.2" cy="379.4" r="2.4" fill="#d55f1d" fill-opacity="0.58"/>
<circle cx="583.5" cy="380.1" r="2.4" fill="#d55f1d" fill-opacity="0.58"/>
<circle cx="394.8" cy="495.2" r="2.4" fill="#d55f1d" fill-opacity="0.58"/>
<circle cx="398.0" cy="495.2" r="2.4" fill="#d55f1d" fill-opacity="0.58"/>
<circle cx="401.3" cy="495.2" r="2.4" fill="#d55f1d" fill-opacity="0.58"/>
<circle cx="404.6" cy="491.8" r="2.4" fill="#d55f1d" fill-opacity="0.58"/>
<circle cx="407.9" cy="494.1" r="2.4" fill="#d55f1d" fill-opacity="0.58"/>
<circle cx="411.2" cy="493.9" r="2.4" fill="#d55f1d" fill-opacity="0.58"/>
<circle cx="414.5" cy="494.6" r="2.4" fill="#d55f1d" fill-opacity="0.58"/>
<circle cx="417.8" cy="494.3" r="2.4" fill="#d55f1d" fill-opacity="0.58"/>
<circle cx="421.1" cy="495.1" r="2.4" fill="#d55f1d" fill-opacity="0.58"/>
<circle cx="424.3" cy="491.7" r="2.4" fill="#d55f1d" fill-opacity="0.58"/>
<circle cx="427.6" cy="490.6" r="2.4" fill="#d55f1d" fill-opacity="0.58"/>
<circle cx="430.9" cy="492.8" r="2.4" fill="#d55f1d" fill-opacity="0.58"/>
<circle cx="434.2" cy="490.3" r="2.4" fill="#d55f1d" fill-opacity="0.58"/>
<circle cx="437.5" cy="488.5" r="2.4" fill="#d55f1d" fill-opacity="0.58"/>
<circle cx="440.8" cy="485.6" r="2.4" fill="#d55f1d" fill-opacity="0.58"/>
<circle cx="444.1" cy="483.2" r="2.4" fill="#d55f1d" fill-opacity="0.58"/>
<circle cx="447.4" cy="479.1" r="2.4" fill="#d55f1d" fill-opacity="0.58"/>
<circle cx="450.7" cy="476.1" r="2.4" fill="#d55f1d" fill-opacity="0.58"/>
<circle cx="453.9" cy="474.1" r="2.4" fill="#d55f1d" fill-opacity="0.58"/>
<circle cx="457.2" cy="470.5" r="2.4" fill="#d55f1d" fill-opacity="0.58"/>
<circle cx="460.5" cy="475.1" r="2.4" fill="#d55f1d" fill-opacity="0.58"/>
<circle cx="463.8" cy="470.3" r="2.4" fill="#d55f1d" fill-opacity="0.58"/>
<circle cx="467.1" cy="461.3" r="2.4" fill="#d55f1d" fill-opacity="0.58"/>
<circle cx="470.4" cy="460.8" r="2.4" fill="#d55f1d" fill-opacity="0.58"/>
<circle cx="473.7" cy="458.3" r="2.4" fill="#d55f1d" fill-opacity="0.58"/>
<circle cx="477.0" cy="462.6" r="2.4" fill="#d55f1d" fill-opacity="0.58"/>
<circle cx="480.2" cy="458.6" r="2.4" fill="#d55f1d" fill-opacity="0.58"/>
<circle cx="483.5" cy="444.3" r="2.4" fill="#d55f1d" fill-opacity="0.58"/>
<circle cx="486.8" cy="442.1" r="2.4" fill="#d55f1d" fill-opacity="0.58"/>
<circle cx="490.1" cy="441.0" r="2.4" fill="#d55f1d" fill-opacity="0.58"/>
<circle cx="496.7" cy="439.5" r="2.4" fill="#d55f1d" fill-opacity="0.58"/>
<circle cx="500.0" cy="426.9" r="2.4" fill="#d55f1d" fill-opacity="0.58"/>
<circle cx="503.3" cy="420.6" r="2.4" fill="#d55f1d" fill-opacity="0.58"/>
<circle cx="506.5" cy="414.7" r="2.4" fill="#d55f1d" fill-opacity="0.58"/>
<circle cx="509.8" cy="417.8" r="2.4" fill="#d55f1d" fill-opacity="0.58"/>
<circle cx="513.1" cy="415.6" r="2.4" fill="#d55f1d" fill-opacity="0.58"/>
<circle cx="516.4" cy="415.8" r="2.4" fill="#d55f1d" fill-opacity="0.58"/>
<circle cx="519.7" cy="404.7" r="2.4" fill="#d55f1d" fill-opacity="0.58"/>
<circle cx="523.0" cy="400.6" r="2.4" fill="#d55f1d" fill-opacity="0.58"/>
<circle cx="526.3" cy="405.9" r="2.4" fill="#d55f1d" fill-opacity="0.58"/>
<circle cx="529.6" cy="400.7" r="2.4" fill="#d55f1d" fill-opacity="0.58"/>
<circle cx="532.9" cy="399.3" r="2.4" fill="#d55f1d" fill-opacity="0.58"/>
<circle cx="536.1" cy="399.2" r="2.4" fill="#d55f1d" fill-opacity="0.58"/>
<circle cx="539.4" cy="402.4" r="2.4" fill="#d55f1d" fill-opacity="0.58"/>
<circle cx="542.7" cy="395.1" r="2.4" fill="#d55f1d" fill-opacity="0.58"/>
<circle cx="546.0" cy="391.2" r="2.4" fill="#d55f1d" fill-opacity="0.58"/>
<circle cx="552.6" cy="391.8" r="2.4" fill="#d55f1d" fill-opacity="0.58"/>
<circle cx="555.9" cy="395.6" r="2.4" fill="#d55f1d" fill-opacity="0.58"/>
<circle cx="559.2" cy="385.2" r="2.4" fill="#d55f1d" fill-opacity="0.58"/>
<circle cx="562.4" cy="385.8" r="2.4" fill="#d55f1d" fill-opacity="0.58"/>
<circle cx="565.7" cy="385.8" r="2.4" fill="#d55f1d" fill-opacity="0.58"/>
<circle cx="569.0" cy="385.6" r="2.4" fill="#d55f1d" fill-opacity="0.58"/>
<circle cx="572.3" cy="385.5" r="2.4" fill="#d55f1d" fill-opacity="0.58"/>
<circle cx="575.6" cy="383.9" r="2.4" fill="#d55f1d" fill-opacity="0.58"/>
<circle cx="578.9" cy="383.7" r="2.4" fill="#d55f1d" fill-opacity="0.58"/>
<circle cx="582.2" cy="383.0" r="2.4" fill="#d55f1d" fill-opacity="0.58"/>
<circle cx="585.5" cy="382.2" r="2.4" fill="#d55f1d" fill-opacity="0.58"/>
<circle cx="396.2" cy="538.9" r="2.4" fill="#3f86c6" fill-opacity="0.58"/>
<circle cx="399.5" cy="535.8" r="2.4" fill="#3f86c6" fill-opacity="0.58"/>
<circle cx="402.8" cy="535.0" r="2.4" fill="#3f86c6" fill-opacity="0.58"/>
<circle cx="406.1" cy="537.1" r="2.4" fill="#3f86c6" fill-opacity="0.58"/>
<circle cx="409.4" cy="536.6" r="2.4" fill="#3f86c6" fill-opacity="0.58"/>
<circle cx="412.7" cy="532.1" r="2.4" fill="#3f86c6" fill-opacity="0.58"/>
<circle cx="416.0" cy="533.1" r="2.4" fill="#3f86c6" fill-opacity="0.58"/>
<circle cx="419.2" cy="533.1" r="2.4" fill="#3f86c6" fill-opacity="0.58"/>
<circle cx="422.5" cy="527.9" r="2.4" fill="#3f86c6" fill-opacity="0.58"/>
<circle cx="425.8" cy="518.9" r="2.4" fill="#3f86c6" fill-opacity="0.58"/>
<circle cx="429.1" cy="516.1" r="2.4" fill="#3f86c6" fill-opacity="0.58"/>
<circle cx="432.4" cy="509.8" r="2.4" fill="#3f86c6" fill-opacity="0.58"/>
<circle cx="435.7" cy="501.6" r="2.4" fill="#3f86c6" fill-opacity="0.58"/>
<circle cx="439.0" cy="495.7" r="2.4" fill="#3f86c6" fill-opacity="0.58"/>
<circle cx="442.3" cy="491.0" r="2.4" fill="#3f86c6" fill-opacity="0.58"/>
<circle cx="445.6" cy="487.1" r="2.4" fill="#3f86c6" fill-opacity="0.58"/>
<circle cx="448.8" cy="470.3" r="2.4" fill="#3f86c6" fill-opacity="0.58"/>
<circle cx="452.1" cy="466.9" r="2.4" fill="#3f86c6" fill-opacity="0.58"/>
<circle cx="455.4" cy="453.4" r="2.4" fill="#3f86c6" fill-opacity="0.58"/>
<circle cx="458.7" cy="437.5" r="2.4" fill="#3f86c6" fill-opacity="0.58"/>
<circle cx="462.0" cy="434.2" r="2.4" fill="#3f86c6" fill-opacity="0.58"/>
<circle cx="465.3" cy="429.0" r="2.4" fill="#3f86c6" fill-opacity="0.58"/>
<circle cx="468.6" cy="422.9" r="2.4" fill="#3f86c6" fill-opacity="0.58"/>
<circle cx="471.9" cy="415.2" r="2.4" fill="#3f86c6" fill-opacity="0.58"/>
<circle cx="475.1" cy="409.9" r="2.4" fill="#3f86c6" fill-opacity="0.58"/>
<circle cx="478.4" cy="411.5" r="2.4" fill="#3f86c6" fill-opacity="0.58"/>
<circle cx="488.3" cy="396.0" r="2.4" fill="#3f86c6" fill-opacity="0.58"/>
<circle cx="511.3" cy="385.7" r="2.4" fill="#3f86c6" fill-opacity="0.58"/>
<circle cx="517.9" cy="382.8" r="2.4" fill="#3f86c6" fill-opacity="0.58"/>
<circle cx="527.8" cy="381.2" r="2.4" fill="#3f86c6" fill-opacity="0.58"/>
<circle cx="394.8" cy="538.3" r="2.4" fill="#3f86c6" fill-opacity="0.58"/>
<circle cx="398.1" cy="537.4" r="2.4" fill="#3f86c6" fill-opacity="0.58"/>
<circle cx="401.3" cy="536.8" r="2.4" fill="#3f86c6" fill-opacity="0.58"/>
<circle cx="404.6" cy="535.3" r="2.4" fill="#3f86c6" fill-opacity="0.58"/>
<circle cx="407.9" cy="535.8" r="2.4" fill="#3f86c6" fill-opacity="0.58"/>
<circle cx="411.2" cy="537.1" r="2.4" fill="#3f86c6" fill-opacity="0.58"/>
<circle cx="414.5" cy="536.5" r="2.4" fill="#3f86c6" fill-opacity="0.58"/>
<circle cx="417.8" cy="533.1" r="2.4" fill="#3f86c6" fill-opacity="0.58"/>
<circle cx="421.1" cy="532.5" r="2.4" fill="#3f86c6" fill-opacity="0.58"/>
<circle cx="424.4" cy="529.2" r="2.4" fill="#3f86c6" fill-opacity="0.58"/>
<circle cx="427.6" cy="527.6" r="2.4" fill="#3f86c6" fill-opacity="0.58"/>
<circle cx="430.9" cy="525.6" r="2.4" fill="#3f86c6" fill-opacity="0.58"/>
<circle cx="434.2" cy="519.3" r="2.4" fill="#3f86c6" fill-opacity="0.58"/>
<circle cx="437.5" cy="511.7" r="2.4" fill="#3f86c6" fill-opacity="0.58"/>
<circle cx="440.8" cy="509.3" r="2.4" fill="#3f86c6" fill-opacity="0.58"/>
<circle cx="444.1" cy="507.8" r="2.4" fill="#3f86c6" fill-opacity="0.58"/>
<circle cx="447.4" cy="499.5" r="2.4" fill="#3f86c6" fill-opacity="0.58"/>
<circle cx="450.7" cy="493.6" r="2.4" fill="#3f86c6" fill-opacity="0.58"/>
<circle cx="454.0" cy="484.3" r="2.4" fill="#3f86c6" fill-opacity="0.58"/>
<circle cx="457.2" cy="473.7" r="2.4" fill="#3f86c6" fill-opacity="0.58"/>
<circle cx="460.5" cy="462.1" r="2.4" fill="#3f86c6" fill-opacity="0.58"/>
<circle cx="463.8" cy="460.9" r="2.4" fill="#3f86c6" fill-opacity="0.58"/>
<circle cx="467.1" cy="455.6" r="2.4" fill="#3f86c6" fill-opacity="0.58"/>
<circle cx="470.4" cy="446.0" r="2.4" fill="#3f86c6" fill-opacity="0.58"/>
<circle cx="473.7" cy="439.3" r="2.4" fill="#3f86c6" fill-opacity="0.58"/>
<circle cx="480.3" cy="427.5" r="2.4" fill="#3f86c6" fill-opacity="0.58"/>
<circle cx="483.5" cy="422.5" r="2.4" fill="#3f86c6" fill-opacity="0.58"/>
<circle cx="496.7" cy="408.8" r="2.4" fill="#3f86c6" fill-opacity="0.58"/>
<circle cx="500.0" cy="401.9" r="2.4" fill="#3f86c6" fill-opacity="0.58"/>
<circle cx="503.3" cy="401.3" r="2.4" fill="#3f86c6" fill-opacity="0.58"/>
<circle cx="513.1" cy="393.3" r="2.4" fill="#3f86c6" fill-opacity="0.58"/>
<circle cx="519.7" cy="390.7" r="2.4" fill="#3f86c6" fill-opacity="0.58"/>
<circle cx="523.0" cy="387.4" r="2.4" fill="#3f86c6" fill-opacity="0.58"/>
<circle cx="526.3" cy="388.3" r="2.4" fill="#3f86c6" fill-opacity="0.58"/>
<circle cx="394.9" cy="536.6" r="2.4" fill="#3f86c6" fill-opacity="0.58"/>
<circle cx="398.2" cy="538.4" r="2.4" fill="#3f86c6" fill-opacity="0.58"/>
<circle cx="401.5" cy="536.3" r="2.4" fill="#3f86c6" fill-opacity="0.58"/>
<circle cx="404.8" cy="535.9" r="2.4" fill="#3f86c6" fill-opacity="0.58"/>
<circle cx="408.1" cy="535.6" r="2.4" fill="#3f86c6" fill-opacity="0.58"/>
<circle cx="411.4" cy="537.0" r="2.4" fill="#3f86c6" fill-opacity="0.58"/>
<circle cx="414.7" cy="534.9" r="2.4" fill="#3f86c6" fill-opacity="0.58"/>
<circle cx="417.9" cy="534.6" r="2.4" fill="#3f86c6" fill-opacity="0.58"/>
<circle cx="421.2" cy="534.1" r="2.4" fill="#3f86c6" fill-opacity="0.58"/>
<circle cx="424.5" cy="532.6" r="2.4" fill="#3f86c6" fill-opacity="0.58"/>
<circle cx="427.8" cy="529.7" r="2.4" fill="#3f86c6" fill-opacity="0.58"/>
<circle cx="431.1" cy="526.0" r="2.4" fill="#3f86c6" fill-opacity="0.58"/>
<circle cx="434.4" cy="522.8" r="2.4" fill="#3f86c6" fill-opacity="0.58"/>
<circle cx="437.7" cy="516.3" r="2.4" fill="#3f86c6" fill-opacity="0.58"/>
<circle cx="441.0" cy="517.5" r="2.4" fill="#3f86c6" fill-opacity="0.58"/>
<circle cx="444.2" cy="510.8" r="2.4" fill="#3f86c6" fill-opacity="0.58"/>
<circle cx="447.5" cy="508.7" r="2.4" fill="#3f86c6" fill-opacity="0.58"/>
<circle cx="450.8" cy="500.0" r="2.4" fill="#3f86c6" fill-opacity="0.58"/>
<circle cx="454.1" cy="496.3" r="2.4" fill="#3f86c6" fill-opacity="0.58"/>
<circle cx="457.4" cy="492.7" r="2.4" fill="#3f86c6" fill-opacity="0.58"/>
<circle cx="460.7" cy="489.1" r="2.4" fill="#3f86c6" fill-opacity="0.58"/>
<circle cx="464.0" cy="480.6" r="2.4" fill="#3f86c6" fill-opacity="0.58"/>
<circle cx="467.3" cy="469.8" r="2.4" fill="#3f86c6" fill-opacity="0.58"/>
<circle cx="470.6" cy="457.8" r="2.4" fill="#3f86c6" fill-opacity="0.58"/>
<circle cx="473.8" cy="453.4" r="2.4" fill="#3f86c6" fill-opacity="0.58"/>
<circle cx="477.1" cy="454.2" r="2.4" fill="#3f86c6" fill-opacity="0.58"/>
<circle cx="480.4" cy="444.8" r="2.4" fill="#3f86c6" fill-opacity="0.58"/>
<circle cx="487.0" cy="432.0" r="2.4" fill="#3f86c6" fill-opacity="0.58"/>
<circle cx="503.4" cy="416.1" r="2.4" fill="#3f86c6" fill-opacity="0.58"/>
<circle cx="506.7" cy="408.4" r="2.4" fill="#3f86c6" fill-opacity="0.58"/>
<circle cx="510.0" cy="408.7" r="2.4" fill="#3f86c6" fill-opacity="0.58"/>
<circle cx="516.6" cy="398.8" r="2.4" fill="#3f86c6" fill-opacity="0.58"/>
<circle cx="523.2" cy="395.6" r="2.4" fill="#3f86c6" fill-opacity="0.58"/>
<circle cx="526.4" cy="394.1" r="2.4" fill="#3f86c6" fill-opacity="0.58"/>
<circle cx="529.7" cy="388.7" r="2.4" fill="#3f86c6" fill-opacity="0.58"/>
<circle cx="396.2" cy="538.5" r="2.4" fill="#3f86c6" fill-opacity="0.58"/>
<circle cx="399.5" cy="536.9" r="2.4" fill="#3f86c6" fill-opacity="0.58"/>
<circle cx="402.7" cy="536.8" r="2.4" fill="#3f86c6" fill-opacity="0.58"/>
<circle cx="406.0" cy="536.2" r="2.4" fill="#3f86c6" fill-opacity="0.58"/>
<circle cx="409.3" cy="538.2" r="2.4" fill="#3f86c6" fill-opacity="0.58"/>
<circle cx="412.6" cy="535.4" r="2.4" fill="#3f86c6" fill-opacity="0.58"/>
<circle cx="415.9" cy="537.5" r="2.4" fill="#3f86c6" fill-opacity="0.58"/>
<circle cx="419.2" cy="536.6" r="2.4" fill="#3f86c6" fill-opacity="0.58"/>
<circle cx="422.5" cy="533.9" r="2.4" fill="#3f86c6" fill-opacity="0.58"/>
<circle cx="425.8" cy="533.7" r="2.4" fill="#3f86c6" fill-opacity="0.58"/>
<circle cx="429.0" cy="529.4" r="2.4" fill="#3f86c6" fill-opacity="0.58"/>
<circle cx="432.3" cy="529.2" r="2.4" fill="#3f86c6" fill-opacity="0.58"/>
<circle cx="435.6" cy="528.5" r="2.4" fill="#3f86c6" fill-opacity="0.58"/>
<circle cx="438.9" cy="523.7" r="2.4" fill="#3f86c6" fill-opacity="0.58"/>
<circle cx="442.2" cy="521.5" r="2.4" fill="#3f86c6" fill-opacity="0.58"/>
<circle cx="445.5" cy="513.7" r="2.4" fill="#3f86c6" fill-opacity="0.58"/>
<circle cx="448.8" cy="509.2" r="2.4" fill="#3f86c6" fill-opacity="0.58"/>
<circle cx="452.1" cy="506.9" r="2.4" fill="#3f86c6" fill-opacity="0.58"/>
<circle cx="455.3" cy="505.4" r="2.4" fill="#3f86c6" fill-opacity="0.58"/>
<circle cx="458.6" cy="499.0" r="2.4" fill="#3f86c6" fill-opacity="0.58"/>
<circle cx="461.9" cy="490.5" r="2.4" fill="#3f86c6" fill-opacity="0.58"/>
<circle cx="465.2" cy="491.2" r="2.4" fill="#3f86c6" fill-opacity="0.58"/>
<circle cx="468.5" cy="485.4" r="2.4" fill="#3f86c6" fill-opacity="0.58"/>
<circle cx="471.8" cy="473.1" r="2.4" fill="#3f86c6" fill-opacity="0.58"/>
<circle cx="475.1" cy="467.1" r="2.4" fill="#3f86c6" fill-opacity="0.58"/>
<circle cx="478.4" cy="464.3" r="2.4" fill="#3f86c6" fill-opacity="0.58"/>
<circle cx="491.5" cy="439.4" r="2.4" fill="#3f86c6" fill-opacity="0.58"/>
<circle cx="494.8" cy="439.0" r="2.4" fill="#3f86c6" fill-opacity="0.58"/>
<circle cx="504.7" cy="415.4" r="2.4" fill="#3f86c6" fill-opacity="0.58"/>
<circle cx="514.5" cy="405.4" r="2.4" fill="#3f86c6" fill-opacity="0.58"/>
<circle cx="524.4" cy="408.6" r="2.4" fill="#3f86c6" fill-opacity="0.58"/>
<circle cx="527.7" cy="398.0" r="2.4" fill="#3f86c6" fill-opacity="0.58"/>
<circle cx="531.0" cy="399.3" r="2.4" fill="#3f86c6" fill-opacity="0.58"/>
<circle cx="395.9" cy="538.7" r="2.4" fill="#f0b27c" fill-opacity="0.58"/>
<circle cx="399.2" cy="538.4" r="2.4" fill="#f0b27c" fill-opacity="0.58"/>
<circle cx="402.5" cy="537.9" r="2.4" fill="#f0b27c" fill-opacity="0.58"/>
<circle cx="405.8" cy="538.3" r="2.4" fill="#f0b27c" fill-opacity="0.58"/>
<circle cx="409.0" cy="537.6" r="2.4" fill="#f0b27c" fill-opacity="0.58"/>
<circle cx="412.3" cy="539.1" r="2.4" fill="#f0b27c" fill-opacity="0.58"/>
<circle cx="415.6" cy="538.1" r="2.4" fill="#f0b27c" fill-opacity="0.58"/>
<circle cx="418.9" cy="539.2" r="2.4" fill="#f0b27c" fill-opacity="0.58"/>
<circle cx="422.2" cy="538.4" r="2.4" fill="#f0b27c" fill-opacity="0.58"/>
<circle cx="425.5" cy="538.4" r="2.4" fill="#f0b27c" fill-opacity="0.58"/>
<circle cx="428.8" cy="539.2" r="2.4" fill="#f0b27c" fill-opacity="0.58"/>
<circle cx="432.1" cy="539.5" r="2.4" fill="#f0b27c" fill-opacity="0.58"/>
<circle cx="435.3" cy="537.4" r="2.4" fill="#f0b27c" fill-opacity="0.58"/>
<circle cx="438.6" cy="537.8" r="2.4" fill="#f0b27c" fill-opacity="0.58"/>
<circle cx="441.9" cy="537.9" r="2.4" fill="#f0b27c" fill-opacity="0.58"/>
<circle cx="445.2" cy="538.1" r="2.4" fill="#f0b27c" fill-opacity="0.58"/>
<circle cx="448.5" cy="536.3" r="2.4" fill="#f0b27c" fill-opacity="0.58"/>
<circle cx="451.8" cy="533.0" r="2.4" fill="#f0b27c" fill-opacity="0.58"/>
<circle cx="455.1" cy="529.1" r="2.4" fill="#f0b27c" fill-opacity="0.58"/>
<circle cx="458.4" cy="521.1" r="2.4" fill="#f0b27c" fill-opacity="0.58"/>
<circle cx="461.6" cy="515.0" r="2.4" fill="#f0b27c" fill-opacity="0.58"/>
<circle cx="464.9" cy="509.3" r="2.4" fill="#f0b27c" fill-opacity="0.58"/>
<circle cx="468.2" cy="498.5" r="2.4" fill="#f0b27c" fill-opacity="0.58"/>
<circle cx="471.5" cy="490.9" r="2.4" fill="#f0b27c" fill-opacity="0.58"/>
<circle cx="474.8" cy="482.4" r="2.4" fill="#f0b27c" fill-opacity="0.58"/>
<circle cx="478.1" cy="480.4" r="2.4" fill="#f0b27c" fill-opacity="0.58"/>
<circle cx="481.4" cy="470.8" r="2.4" fill="#f0b27c" fill-opacity="0.58"/>
<circle cx="484.7" cy="462.5" r="2.4" fill="#f0b27c" fill-opacity="0.58"/>
<circle cx="488.0" cy="458.9" r="2.4" fill="#f0b27c" fill-opacity="0.58"/>
<circle cx="491.2" cy="451.6" r="2.4" fill="#f0b27c" fill-opacity="0.58"/>
<circle cx="494.5" cy="444.8" r="2.4" fill="#f0b27c" fill-opacity="0.58"/>
<circle cx="497.8" cy="440.8" r="2.4" fill="#f0b27c" fill-opacity="0.58"/>
<circle cx="501.1" cy="432.6" r="2.4" fill="#f0b27c" fill-opacity="0.58"/>
<circle cx="504.4" cy="432.5" r="2.4" fill="#f0b27c" fill-opacity="0.58"/>
<circle cx="507.7" cy="428.5" r="2.4" fill="#f0b27c" fill-opacity="0.58"/>
<circle cx="511.0" cy="424.8" r="2.4" fill="#f0b27c" fill-opacity="0.58"/>
<circle cx="514.3" cy="424.7" r="2.4" fill="#f0b27c" fill-opacity="0.58"/>
<circle cx="517.5" cy="420.6" r="2.4" fill="#f0b27c" fill-opacity="0.58"/>
<circle cx="520.8" cy="413.8" r="2.4" fill="#f0b27c" fill-opacity="0.58"/>
<circle cx="524.1" cy="412.1" r="2.4" fill="#f0b27c" fill-opacity="0.58"/>
<circle cx="527.4" cy="406.2" r="2.4" fill="#f0b27c" fill-opacity="0.58"/>
<circle cx="530.7" cy="405.5" r="2.4" fill="#f0b27c" fill-opacity="0.58"/>
<circle cx="534.0" cy="402.9" r="2.4" fill="#f0b27c" fill-opacity="0.58"/>
<circle cx="537.3" cy="398.7" r="2.4" fill="#f0b27c" fill-opacity="0.58"/>
<circle cx="540.6" cy="397.8" r="2.4" fill="#f0b27c" fill-opacity="0.58"/>
<circle cx="543.8" cy="394.2" r="2.4" fill="#f0b27c" fill-opacity="0.58"/>
<circle cx="547.1" cy="396.0" r="2.4" fill="#f0b27c" fill-opacity="0.58"/>
<circle cx="550.4" cy="392.4" r="2.4" fill="#f0b27c" fill-opacity="0.58"/>
<circle cx="557.0" cy="389.7" r="2.4" fill="#f0b27c" fill-opacity="0.58"/>
<circle cx="566.9" cy="387.2" r="2.4" fill="#f0b27c" fill-opacity="0.58"/>
<circle cx="570.2" cy="387.0" r="2.4" fill="#f0b27c" fill-opacity="0.58"/>
<circle cx="573.4" cy="384.5" r="2.4" fill="#f0b27c" fill-opacity="0.58"/>
<circle cx="580.0" cy="383.2" r="2.4" fill="#f0b27c" fill-opacity="0.58"/>
<circle cx="583.3" cy="382.2" r="2.4" fill="#f0b27c" fill-opacity="0.58"/>
<circle cx="589.9" cy="383.5" r="2.4" fill="#f0b27c" fill-opacity="0.58"/>
<circle cx="596.5" cy="381.1" r="2.4" fill="#f0b27c" fill-opacity="0.58"/>
<circle cx="603.0" cy="380.0" r="2.4" fill="#f0b27c" fill-opacity="0.58"/>
<circle cx="606.3" cy="380.8" r="2.4" fill="#f0b27c" fill-opacity="0.58"/>
<circle cx="612.9" cy="380.8" r="2.4" fill="#f0b27c" fill-opacity="0.58"/>
<circle cx="616.2" cy="380.1" r="2.4" fill="#f0b27c" fill-opacity="0.58"/>
<circle cx="622.8" cy="379.9" r="2.4" fill="#f0b27c" fill-opacity="0.58"/>
<circle cx="629.3" cy="379.9" r="2.4" fill="#f0b27c" fill-opacity="0.58"/>
<circle cx="632.6" cy="378.4" r="2.4" fill="#f0b27c" fill-opacity="0.58"/>
<circle cx="635.9" cy="380.2" r="2.4" fill="#f0b27c" fill-opacity="0.58"/>
<circle cx="639.2" cy="379.3" r="2.4" fill="#f0b27c" fill-opacity="0.58"/>
<circle cx="642.5" cy="377.9" r="2.4" fill="#f0b27c" fill-opacity="0.58"/>
<circle cx="645.8" cy="377.3" r="2.4" fill="#f0b27c" fill-opacity="0.58"/>
<circle cx="652.4" cy="377.5" r="2.4" fill="#f0b27c" fill-opacity="0.58"/>
<circle cx="655.6" cy="379.9" r="2.4" fill="#f0b27c" fill-opacity="0.58"/>
<circle cx="395.2" cy="537.3" r="2.4" fill="#f0b27c" fill-opacity="0.58"/>
<circle cx="398.5" cy="539.2" r="2.4" fill="#f0b27c" fill-opacity="0.58"/>
<circle cx="401.8" cy="538.1" r="2.4" fill="#f0b27c" fill-opacity="0.58"/>
<circle cx="405.1" cy="539.2" r="2.4" fill="#f0b27c" fill-opacity="0.58"/>
<circle cx="408.4" cy="538.9" r="2.4" fill="#f0b27c" fill-opacity="0.58"/>
<circle cx="411.7" cy="538.4" r="2.4" fill="#f0b27c" fill-opacity="0.58"/>
<circle cx="415.0" cy="538.0" r="2.4" fill="#f0b27c" fill-opacity="0.58"/>
<circle cx="418.3" cy="539.1" r="2.4" fill="#f0b27c" fill-opacity="0.58"/>
<circle cx="421.6" cy="539.5" r="2.4" fill="#f0b27c" fill-opacity="0.58"/>
<circle cx="424.8" cy="537.4" r="2.4" fill="#f0b27c" fill-opacity="0.58"/>
<circle cx="428.1" cy="538.4" r="2.4" fill="#f0b27c" fill-opacity="0.58"/>
<circle cx="431.4" cy="537.9" r="2.4" fill="#f0b27c" fill-opacity="0.58"/>
<circle cx="434.7" cy="537.7" r="2.4" fill="#f0b27c" fill-opacity="0.58"/>
<circle cx="438.0" cy="537.7" r="2.4" fill="#f0b27c" fill-opacity="0.58"/>
<circle cx="441.3" cy="538.5" r="2.4" fill="#f0b27c" fill-opacity="0.58"/>
<circle cx="444.6" cy="538.3" r="2.4" fill="#f0b27c" fill-opacity="0.58"/>
<circle cx="447.9" cy="539.3" r="2.4" fill="#f0b27c" fill-opacity="0.58"/>
<circle cx="451.1" cy="537.5" r="2.4" fill="#f0b27c" fill-opacity="0.58"/>
<circle cx="454.4" cy="536.4" r="2.4" fill="#f0b27c" fill-opacity="0.58"/>
<circle cx="457.7" cy="533.2" r="2.4" fill="#f0b27c" fill-opacity="0.58"/>
<circle cx="461.0" cy="525.9" r="2.4" fill="#f0b27c" fill-opacity="0.58"/>
<circle cx="464.3" cy="521.9" r="2.4" fill="#f0b27c" fill-opacity="0.58"/>
<circle cx="467.6" cy="516.6" r="2.4" fill="#f0b27c" fill-opacity="0.58"/>
<circle cx="470.9" cy="510.9" r="2.4" fill="#f0b27c" fill-opacity="0.58"/>
<circle cx="474.2" cy="498.6" r="2.4" fill="#f0b27c" fill-opacity="0.58"/>
<circle cx="477.4" cy="489.1" r="2.4" fill="#f0b27c" fill-opacity="0.58"/>
<circle cx="480.7" cy="487.1" r="2.4" fill="#f0b27c" fill-opacity="0.58"/>
<circle cx="484.0" cy="478.2" r="2.4" fill="#f0b27c" fill-opacity="0.58"/>
<circle cx="487.3" cy="473.0" r="2.4" fill="#f0b27c" fill-opacity="0.58"/>
<circle cx="490.6" cy="465.2" r="2.4" fill="#f0b27c" fill-opacity="0.58"/>
<circle cx="493.9" cy="458.8" r="2.4" fill="#f0b27c" fill-opacity="0.58"/>
<circle cx="497.2" cy="454.9" r="2.4" fill="#f0b27c" fill-opacity="0.58"/>
<circle cx="500.5" cy="446.6" r="2.4" fill="#f0b27c" fill-opacity="0.58"/>
<circle cx="503.8" cy="443.0" r="2.4" fill="#f0b27c" fill-opacity="0.58"/>
<circle cx="507.0" cy="431.7" r="2.4" fill="#f0b27c" fill-opacity="0.58"/>
<circle cx="510.3" cy="427.8" r="2.4" fill="#f0b27c" fill-opacity="0.58"/>
<circle cx="513.6" cy="425.6" r="2.4" fill="#f0b27c" fill-opacity="0.58"/>
<circle cx="516.9" cy="421.4" r="2.4" fill="#f0b27c" fill-opacity="0.58"/>
<circle cx="520.2" cy="418.4" r="2.4" fill="#f0b27c" fill-opacity="0.58"/>
<circle cx="523.5" cy="414.8" r="2.4" fill="#f0b27c" fill-opacity="0.58"/>
<circle cx="526.8" cy="411.6" r="2.4" fill="#f0b27c" fill-opacity="0.58"/>
<circle cx="530.1" cy="409.2" r="2.4" fill="#f0b27c" fill-opacity="0.58"/>
<circle cx="533.3" cy="406.0" r="2.4" fill="#f0b27c" fill-opacity="0.58"/>
<circle cx="536.6" cy="404.8" r="2.4" fill="#f0b27c" fill-opacity="0.58"/>
<circle cx="539.9" cy="401.6" r="2.4" fill="#f0b27c" fill-opacity="0.58"/>
<circle cx="543.2" cy="398.7" r="2.4" fill="#f0b27c" fill-opacity="0.58"/>
<circle cx="546.5" cy="395.5" r="2.4" fill="#f0b27c" fill-opacity="0.58"/>
<circle cx="549.8" cy="394.3" r="2.4" fill="#f0b27c" fill-opacity="0.58"/>
<circle cx="559.6" cy="389.4" r="2.4" fill="#f0b27c" fill-opacity="0.58"/>
<circle cx="562.9" cy="387.4" r="2.4" fill="#f0b27c" fill-opacity="0.58"/>
<circle cx="566.2" cy="385.9" r="2.4" fill="#f0b27c" fill-opacity="0.58"/>
<circle cx="569.5" cy="384.2" r="2.4" fill="#f0b27c" fill-opacity="0.58"/>
<circle cx="579.4" cy="384.3" r="2.4" fill="#f0b27c" fill-opacity="0.58"/>
<circle cx="582.7" cy="382.6" r="2.4" fill="#f0b27c" fill-opacity="0.58"/>
<circle cx="586.0" cy="382.9" r="2.4" fill="#f0b27c" fill-opacity="0.58"/>
<circle cx="589.2" cy="382.0" r="2.4" fill="#f0b27c" fill-opacity="0.58"/>
<circle cx="592.5" cy="382.4" r="2.4" fill="#f0b27c" fill-opacity="0.58"/>
<circle cx="595.8" cy="380.5" r="2.4" fill="#f0b27c" fill-opacity="0.58"/>
<circle cx="599.1" cy="380.3" r="2.4" fill="#f0b27c" fill-opacity="0.58"/>
<circle cx="602.4" cy="380.2" r="2.4" fill="#f0b27c" fill-opacity="0.58"/>
<circle cx="605.7" cy="380.8" r="2.4" fill="#f0b27c" fill-opacity="0.58"/>
<circle cx="609.0" cy="382.1" r="2.4" fill="#f0b27c" fill-opacity="0.58"/>
<circle cx="612.3" cy="381.6" r="2.4" fill="#f0b27c" fill-opacity="0.58"/>
<circle cx="618.8" cy="379.4" r="2.4" fill="#f0b27c" fill-opacity="0.58"/>
<circle cx="622.1" cy="382.2" r="2.4" fill="#f0b27c" fill-opacity="0.58"/>
<circle cx="625.4" cy="380.0" r="2.4" fill="#f0b27c" fill-opacity="0.58"/>
<circle cx="628.7" cy="378.4" r="2.4" fill="#f0b27c" fill-opacity="0.58"/>
<circle cx="632.0" cy="378.4" r="2.4" fill="#f0b27c" fill-opacity="0.58"/>
<circle cx="638.6" cy="378.3" r="2.4" fill="#f0b27c" fill-opacity="0.58"/>
<circle cx="641.8" cy="378.7" r="2.4" fill="#f0b27c" fill-opacity="0.58"/>
<circle cx="651.7" cy="377.5" r="2.4" fill="#f0b27c" fill-opacity="0.58"/>
<circle cx="655.0" cy="378.7" r="2.4" fill="#f0b27c" fill-opacity="0.58"/>
<circle cx="658.3" cy="379.0" r="2.4" fill="#f0b27c" fill-opacity="0.58"/>
<circle cx="395.2" cy="539.5" r="2.4" fill="#f0b27c" fill-opacity="0.58"/>
<circle cx="398.5" cy="538.0" r="2.4" fill="#f0b27c" fill-opacity="0.58"/>
<circle cx="401.8" cy="536.7" r="2.4" fill="#f0b27c" fill-opacity="0.58"/>
<circle cx="405.1" cy="538.4" r="2.4" fill="#f0b27c" fill-opacity="0.58"/>
<circle cx="408.3" cy="538.5" r="2.4" fill="#f0b27c" fill-opacity="0.58"/>
<circle cx="411.6" cy="537.1" r="2.4" fill="#f0b27c" fill-opacity="0.58"/>
<circle cx="414.9" cy="536.4" r="2.4" fill="#f0b27c" fill-opacity="0.58"/>
<circle cx="418.2" cy="536.2" r="2.4" fill="#f0b27c" fill-opacity="0.58"/>
<circle cx="421.5" cy="538.8" r="2.4" fill="#f0b27c" fill-opacity="0.58"/>
<circle cx="424.8" cy="538.3" r="2.4" fill="#f0b27c" fill-opacity="0.58"/>
<circle cx="428.1" cy="537.4" r="2.4" fill="#f0b27c" fill-opacity="0.58"/>
<circle cx="431.4" cy="537.7" r="2.4" fill="#f0b27c" fill-opacity="0.58"/>
<circle cx="434.6" cy="537.0" r="2.4" fill="#f0b27c" fill-opacity="0.58"/>
<circle cx="437.9" cy="536.9" r="2.4" fill="#f0b27c" fill-opacity="0.58"/>
<circle cx="441.2" cy="535.0" r="2.4" fill="#f0b27c" fill-opacity="0.58"/>
<circle cx="444.5" cy="535.9" r="2.4" fill="#f0b27c" fill-opacity="0.58"/>
<circle cx="447.8" cy="534.8" r="2.4" fill="#f0b27c" fill-opacity="0.58"/>
<circle cx="451.1" cy="533.9" r="2.4" fill="#f0b27c" fill-opacity="0.58"/>
<circle cx="454.4" cy="531.5" r="2.4" fill="#f0b27c" fill-opacity="0.58"/>
<circle cx="457.7" cy="532.1" r="2.4" fill="#f0b27c" fill-opacity="0.58"/>
<circle cx="460.9" cy="528.6" r="2.4" fill="#f0b27c" fill-opacity="0.58"/>
<circle cx="464.2" cy="527.6" r="2.4" fill="#f0b27c" fill-opacity="0.58"/>
<circle cx="467.5" cy="525.8" r="2.4" fill="#f0b27c" fill-opacity="0.58"/>
<circle cx="470.8" cy="519.5" r="2.4" fill="#f0b27c" fill-opacity="0.58"/>
<circle cx="474.1" cy="516.8" r="2.4" fill="#f0b27c" fill-opacity="0.58"/>
<circle cx="477.4" cy="511.6" r="2.4" fill="#f0b27c" fill-opacity="0.58"/>
<circle cx="480.7" cy="508.9" r="2.4" fill="#f0b27c" fill-opacity="0.58"/>
<circle cx="484.0" cy="503.3" r="2.4" fill="#f0b27c" fill-opacity="0.58"/>
<circle cx="487.3" cy="498.8" r="2.4" fill="#f0b27c" fill-opacity="0.58"/>
<circle cx="490.5" cy="492.2" r="2.4" fill="#f0b27c" fill-opacity="0.58"/>
<circle cx="493.8" cy="487.9" r="2.4" fill="#f0b27c" fill-opacity="0.58"/>
<circle cx="497.1" cy="477.3" r="2.4" fill="#f0b27c" fill-opacity="0.58"/>
<circle cx="500.4" cy="475.9" r="2.4" fill="#f0b27c" fill-opacity="0.58"/>
<circle cx="503.7" cy="463.8" r="2.4" fill="#f0b27c" fill-opacity="0.58"/>
<circle cx="507.0" cy="461.0" r="2.4" fill="#f0b27c" fill-opacity="0.58"/>
<circle cx="510.3" cy="452.1" r="2.4" fill="#f0b27c" fill-opacity="0.58"/>
<circle cx="513.6" cy="447.0" r="2.4" fill="#f0b27c" fill-opacity="0.58"/>
<circle cx="516.8" cy="440.0" r="2.4" fill="#f0b27c" fill-opacity="0.58"/>
<circle cx="520.1" cy="431.9" r="2.4" fill="#f0b27c" fill-opacity="0.58"/>
<circle cx="523.4" cy="428.8" r="2.4" fill="#f0b27c" fill-opacity="0.58"/>
<circle cx="526.7" cy="425.5" r="2.4" fill="#f0b27c" fill-opacity="0.58"/>
<circle cx="530.0" cy="418.5" r="2.4" fill="#f0b27c" fill-opacity="0.58"/>
<circle cx="533.3" cy="413.4" r="2.4" fill="#f0b27c" fill-opacity="0.58"/>
<circle cx="536.6" cy="414.5" r="2.4" fill="#f0b27c" fill-opacity="0.58"/>
<circle cx="539.9" cy="405.4" r="2.4" fill="#f0b27c" fill-opacity="0.58"/>
<circle cx="543.1" cy="402.1" r="2.4" fill="#f0b27c" fill-opacity="0.58"/>
<circle cx="546.4" cy="403.4" r="2.4" fill="#f0b27c" fill-opacity="0.58"/>
<circle cx="549.7" cy="398.5" r="2.4" fill="#f0b27c" fill-opacity="0.58"/>
<circle cx="553.0" cy="395.0" r="2.4" fill="#f0b27c" fill-opacity="0.58"/>
<circle cx="556.3" cy="395.5" r="2.4" fill="#f0b27c" fill-opacity="0.58"/>
<circle cx="562.9" cy="391.0" r="2.4" fill="#f0b27c" fill-opacity="0.58"/>
<circle cx="566.2" cy="388.5" r="2.4" fill="#f0b27c" fill-opacity="0.58"/>
<circle cx="569.5" cy="386.6" r="2.4" fill="#f0b27c" fill-opacity="0.58"/>
<circle cx="572.7" cy="386.7" r="2.4" fill="#f0b27c" fill-opacity="0.58"/>
<circle cx="576.0" cy="385.5" r="2.4" fill="#f0b27c" fill-opacity="0.58"/>
<circle cx="582.6" cy="383.3" r="2.4" fill="#f0b27c" fill-opacity="0.58"/>
<circle cx="585.9" cy="383.2" r="2.4" fill="#f0b27c" fill-opacity="0.58"/>
<circle cx="589.2" cy="381.2" r="2.4" fill="#f0b27c" fill-opacity="0.58"/>
<circle cx="592.5" cy="383.2" r="2.4" fill="#f0b27c" fill-opacity="0.58"/>
<circle cx="599.0" cy="381.4" r="2.4" fill="#f0b27c" fill-opacity="0.58"/>
<circle cx="602.3" cy="381.1" r="2.4" fill="#f0b27c" fill-opacity="0.58"/>
<circle cx="605.6" cy="380.2" r="2.4" fill="#f0b27c" fill-opacity="0.58"/>
<circle cx="608.9" cy="380.2" r="2.4" fill="#f0b27c" fill-opacity="0.58"/>
<circle cx="612.2" cy="377.9" r="2.4" fill="#f0b27c" fill-opacity="0.58"/>
<circle cx="622.1" cy="378.3" r="2.4" fill="#f0b27c" fill-opacity="0.58"/>
<circle cx="625.3" cy="378.8" r="2.4" fill="#f0b27c" fill-opacity="0.58"/>
<circle cx="641.8" cy="379.3" r="2.4" fill="#f0b27c" fill-opacity="0.58"/>
<circle cx="648.4" cy="379.1" r="2.4" fill="#f0b27c" fill-opacity="0.58"/>
<circle cx="651.7" cy="380.7" r="2.4" fill="#f0b27c" fill-opacity="0.58"/>
<circle cx="654.9" cy="380.8" r="2.4" fill="#f0b27c" fill-opacity="0.58"/>
<circle cx="658.2" cy="379.4" r="2.4" fill="#f0b27c" fill-opacity="0.58"/>
</g>
<path d="M394.60,538.55 L396.31,538.25 L398.03,538.01 L399.74,537.80 L401.45,537.64 L403.16,537.51 L404.88,537.42 L406.59,537.36 L408.30,537.32 L410.01,537.31 L411.73,537.31 L413.44,537.31 L415.15,537.31 L416.86,537.31 L418.58,537.31 L420.29,537.31 L422.00,537.31 L423.71,537.31 L425.43,537.31 L427.14,537.31 L428.85,537.31 L430.56,537.31 L432.28,537.31 L433.99,537.31 L435.70,537.22 L437.41,537.05 L439.12,536.84 L440.84,536.59 L442.55,536.29 L444.26,535.94 L445.98,535.53 L447.69,535.07 L449.40,534.54 L451.11,533.94 L452.83,533.27 L454.54,532.53 L456.25,531.71 L457.96,530.81 L459.68,529.82 L461.39,528.74 L463.10,527.57 L464.81,526.31 L466.53,524.94 L468.24,523.47 L469.95,521.89 L471.66,520.20 L473.38,518.40 L475.09,516.47 L476.80,514.43 L478.51,512.25 L480.23,509.95 L481.94,507.51 L483.65,504.94 L485.36,502.23 L487.08,499.39 L488.79,496.43 L490.50,493.37 L492.21,490.21 L493.93,486.97 L495.64,483.66 L497.35,480.29 L499.06,476.86 L500.78,473.40 L502.49,469.91 L504.20,466.40 L505.91,462.88 L507.62,459.37 L509.34,455.88 L511.05,452.41 L512.76,448.98 L514.48,445.59 L516.19,442.27 L517.90,439.02 L519.61,435.85 L521.33,432.77 L523.04,429.80 L524.75,426.94 L526.46,424.21 L528.18,421.61 L529.89,419.14 L531.60,416.78 L533.31,414.55 L535.03,412.44 L536.74,410.43 L538.45,408.53 L540.16,406.73 L541.88,405.03 L543.59,403.43 L545.30,401.92 L547.01,400.49 L548.73,399.15 L550.44,397.88 L552.15,396.69 L553.86,395.57 L555.58,394.51 L557.29,393.52 L559.00,392.58 L560.71,391.70 L562.43,390.87 L564.14,390.09 L565.85,389.34 L567.56,388.64 L569.28,387.97 L570.99,387.34 L572.70,386.73 L574.41,386.17 L576.12,385.63 L577.84,385.13 L579.55,384.65 L581.26,384.20 L582.98,383.79 L584.69,383.40 L586.40,383.03 L588.11,382.69 L589.83,382.38 L591.54,382.09 L593.25,381.82 L594.96,381.57 L596.68,381.34 L598.39,381.14 L600.10,380.95 L601.81,380.78 L603.53,380.63 L605.24,380.49 L606.95,380.37 L608.66,380.26 L610.38,380.16 L612.09,380.08 L613.80,380.01 L615.51,379.95 L617.23,379.89 L618.94,379.85 L620.65,379.81 L622.36,379.78 L624.08,379.76 L625.79,379.74 L627.50,379.72 L629.21,379.71 L630.93,379.70 L632.64,379.69 L634.35,379.68 L636.06,379.67 L637.78,379.65 L639.49,379.64 L641.20,379.62 L642.91,379.59 L644.62,379.56 L646.34,379.53 L648.05,379.48 L649.76,379.43 L651.48,379.37 L653.19,379.29 L654.90,379.21 L656.61,379.11 L658.33,379.00 L660.04,378.88 L661.75,378.74 L663.46,378.59 L665.17,378.41 L666.89,378.22 L668.60,378.20" fill="none" stroke="#f0b27c" stroke-width="2.6" stroke-linejoin="round"/>
<path d="M394.60,538.82 L396.31,538.11 L398.03,537.59 L399.74,537.21 L401.45,536.96 L403.16,536.80 L404.88,536.69 L406.59,536.61 L408.30,536.52 L410.01,536.39 L411.73,536.19 L413.44,535.88 L415.15,535.45 L416.86,534.85 L418.58,534.09 L420.29,533.17 L422.00,532.09 L423.71,530.85 L425.43,529.46 L427.14,527.91 L428.85,526.21 L430.56,524.36 L432.28,522.37 L433.99,520.23 L435.70,517.94 L437.41,515.52 L439.12,512.95 L440.84,510.25 L442.55,507.41 L444.26,504.44 L445.98,501.34 L447.69,498.10 L449.40,494.75 L451.11,491.26 L452.83,487.65 L454.54,483.93 L456.25,480.08 L457.96,476.12 L459.68,472.07 L461.39,467.96 L463.10,463.82 L464.81,459.70 L466.53,455.61 L468.24,451.60 L469.95,447.69 L471.66,443.92 L473.38,440.32 L475.09,436.92 L476.80,433.74 L478.51,430.75 L480.23,427.93 L481.94,425.24 L483.65,422.65 L485.36,420.17 L487.08,417.80 L488.79,415.54 L490.50,413.40 L492.21,411.36 L493.93,409.42 L495.64,407.58 L497.35,405.83 L499.06,404.17 L500.78,402.61 L502.49,401.13 L504.20,399.73 L505.91,398.40 L507.62,397.16 L509.34,395.98 L511.05,394.87 L512.76,393.83 L514.48,392.85 L516.19,391.92 L517.90,391.05 L519.61,390.23 L521.33,389.46 L523.04,388.73 L524.75,388.05 L526.46,387.40 L528.18,386.79 L529.89,386.20 L531.60,385.65 L533.31,385.12 L535.03,384.61 L536.74,384.14 L538.45,383.69 L540.16,383.26 L541.88,382.85 L543.59,382.47 L545.30,382.11 L547.01,381.78 L548.73,381.46 L550.44,381.17 L552.15,380.89 L553.86,380.64 L555.58,380.40 L557.29,380.19 L559.00,379.99 L560.71,379.81 L562.43,379.64 L564.14,379.49 L565.85,379.36 L567.56,379.24 L569.28,379.14 L570.99,379.05 L572.70,378.98 L574.41,378.91 L576.12,378.86 L577.84,378.82 L579.55,378.80 L581.26,378.78 L582.98,378.77 L584.69,378.77 L586.40,378.77 L588.11,378.77 L589.83,378.77 L591.54,378.77 L593.25,378.77 L594.96,378.77 L596.68,378.77 L598.39,378.77 L600.10,378.77 L601.81,378.77 L603.53,378.77 L605.24,378.77 L606.95,378.77 L608.66,378.77 L610.38,378.77 L612.09,378.77 L613.80,378.77 L615.51,378.77 L617.23,378.77 L618.94,378.77 L620.65,378.77 L622.36,378.77 L624.08,378.77 L625.79,378.77 L627.50,378.77 L629.21,378.77 L630.93,378.77 L632.64,378.77 L634.35,378.77 L636.06,378.77 L637.78,378.77 L639.49,378.77 L641.20,378.77 L642.91,378.77 L644.62,378.77 L646.34,378.77 L648.05,378.77 L649.76,378.77 L651.48,378.77 L653.19,378.77 L654.90,378.77 L656.61,378.77 L658.33,378.77 L660.04,378.77 L661.75,378.77 L663.46,378.77 L665.17,378.65 L666.89,378.41 L668.60,378.20" fill="none" stroke="#3f86c6" stroke-width="2.6" stroke-linejoin="round"/>
<path d="M394.60,493.87 L396.31,493.87 L398.03,493.87 L399.74,493.87 L401.45,493.87 L403.16,493.87 L404.88,493.87 L406.59,493.87 L408.30,493.78 L410.01,493.46 L411.73,493.06 L413.44,492.58 L415.15,492.01 L416.86,491.36 L418.58,490.62 L420.29,489.78 L422.00,488.84 L423.71,487.80 L425.43,486.66 L427.14,485.41 L428.85,484.05 L430.56,482.58 L432.28,480.99 L433.99,479.28 L435.70,477.46 L437.41,475.53 L439.12,473.49 L440.84,471.35 L442.55,469.11 L444.26,466.77 L445.98,464.35 L447.69,461.83 L449.40,459.24 L451.11,456.59 L452.83,453.88 L454.54,451.12 L456.25,448.33 L457.96,445.52 L459.68,442.69 L461.39,439.85 L463.10,437.03 L464.81,434.22 L466.53,431.43 L468.24,428.69 L469.95,425.99 L471.66,423.35 L473.38,420.78 L475.09,418.28 L476.80,415.87 L478.51,413.57 L480.23,411.37 L481.94,409.27 L483.65,407.29 L485.36,405.40 L487.08,403.61 L488.79,401.92 L490.50,400.32 L492.21,398.81 L493.93,397.39 L495.64,396.05 L497.35,394.79 L499.06,393.60 L500.78,392.49 L502.49,391.45 L504.20,390.48 L505.91,389.57 L507.62,388.72 L509.34,387.93 L511.05,387.20 L512.76,386.52 L514.48,385.88 L516.19,385.30 L517.90,384.75 L519.61,384.24 L521.33,383.77 L523.04,383.33 L524.75,382.93 L526.46,382.55 L528.18,382.19 L529.89,381.85 L531.60,381.53 L533.31,381.23 L535.03,380.95 L536.74,380.68 L538.45,380.42 L540.16,380.19 L541.88,379.96 L543.59,379.75 L545.30,379.56 L547.01,379.38 L548.73,379.21 L550.44,379.05 L552.15,378.91 L553.86,378.78 L555.58,378.67 L557.29,378.56 L559.00,378.46 L560.71,378.38 L562.43,378.31 L564.14,378.24 L565.85,378.20 L567.56,378.20 L569.28,378.20 L570.99,378.20 L572.70,378.20 L574.41,378.20 L576.12,378.20 L577.84,378.20 L579.55,378.20 L581.26,378.20 L582.98,378.20 L584.69,378.20 L586.40,378.20 L588.11,378.20 L589.83,378.20 L591.54,378.20 L593.25,378.20 L594.96,378.20 L596.68,378.20 L598.39,378.20 L600.10,378.20 L601.81,378.20 L603.53,378.20 L605.24,378.20 L606.95,378.20 L608.66,378.20 L610.38,378.20 L612.09,378.20 L613.80,378.20 L615.51,378.20 L617.23,378.20 L618.94,378.20 L620.65,378.20 L622.36,378.20 L624.08,378.20 L625.79,378.20 L627.50,378.20 L629.21,378.20 L630.93,378.20 L632.64,378.20 L634.35,378.20 L636.06,378.20 L637.78,378.20 L639.49,378.20 L641.20,378.20 L642.91,378.20 L644.62,378.20 L646.34,378.20 L648.05,378.20 L649.76,378.20 L651.48,378.20 L653.19,378.20 L654.90,378.20 L656.61,378.20 L658.33,378.20 L660.04,378.20 L661.75,378.20 L663.46,378.20 L665.17,378.20 L666.89,378.20 L668.60,378.20" fill="none" stroke="#d55f1d" stroke-width="2.6" stroke-linejoin="round"/>
<path d="M394.60,495.25 L396.31,494.53 L398.03,493.15 L399.74,491.18 L401.45,488.68 L403.16,485.69 L404.88,482.29 L406.59,478.53 L408.30,474.46 L410.01,470.16 L411.73,465.67 L413.44,461.06 L415.15,456.38 L416.86,451.67 L418.58,446.98 L420.29,442.33 L422.00,437.77 L423.71,433.32 L425.43,429.02 L427.14,424.90 L428.85,421.00 L430.56,417.35 L432.28,413.93 L433.99,410.73 L435.70,407.75 L437.41,404.98 L439.12,402.40 L440.84,400.02 L442.55,397.82 L444.26,395.79 L445.98,393.93 L447.69,392.23 L449.40,390.68 L451.11,389.27 L452.83,388.01 L454.54,386.87 L456.25,385.86 L457.96,384.96 L459.68,384.17 L461.39,383.48 L463.10,382.89 L464.81,382.38 L466.53,381.95 L468.24,381.60 L469.95,381.30 L471.66,381.07 L473.38,380.89 L475.09,380.74 L476.80,380.64 L478.51,380.56 L480.23,380.50 L481.94,380.45 L483.65,380.41 L485.36,380.37 L487.08,380.33 L488.79,380.29 L490.50,380.25 L492.21,380.20 L493.93,380.16 L495.64,380.11 L497.35,380.06 L499.06,380.01 L500.78,379.96 L502.49,379.91 L504.20,379.86 L505.91,379.81 L507.62,379.75 L509.34,379.70 L511.05,379.64 L512.76,379.59 L514.48,379.53 L516.19,379.48 L517.90,379.42 L519.61,379.36 L521.33,379.30 L523.04,379.25 L524.75,379.19 L526.46,379.13 L528.18,379.07 L529.89,379.01 L531.60,378.95 L533.31,378.89 L535.03,378.83 L536.74,378.77 L538.45,378.72 L540.16,378.66 L541.88,378.60 L543.59,378.54 L545.30,378.48 L547.01,378.42 L548.73,378.37 L550.44,378.31 L552.15,378.25 L553.86,378.20 L555.58,378.20 L557.29,378.20 L559.00,378.20 L560.71,378.20 L562.43,378.20 L564.14,378.20 L565.85,378.20 L567.56,378.20 L569.28,378.20 L570.99,378.20 L572.70,378.20 L574.41,378.20 L576.12,378.20 L577.84,378.20 L579.55,378.20 L581.26,378.20 L582.98,378.20 L584.69,378.20 L586.40,378.20 L588.11,378.20 L589.83,378.20 L591.54,378.20 L593.25,378.20 L594.96,378.20 L596.68,378.20 L598.39,378.20 L600.10,378.20 L601.81,378.20 L603.53,378.20 L605.24,378.20 L606.95,378.20 L608.66,378.20 L610.38,378.20 L612.09,378.20 L613.80,378.20 L615.51,378.20 L617.23,378.20 L618.94,378.20 L620.65,378.20 L622.36,378.20 L624.08,378.20 L625.79,378.20 L627.50,378.20 L629.21,378.20 L630.93,378.20 L632.64,378.20 L634.35,378.20 L636.06,378.20 L637.78,378.20 L639.49,378.20 L641.20,378.20 L642.91,378.20 L644.62,378.20 L646.34,378.20 L648.05,378.20 L649.76,378.20 L651.48,378.20 L653.19,378.20 L654.90,378.20 L656.61,378.20 L658.33,378.20 L660.04,378.20 L661.75,378.20 L663.46,378.20 L665.17,378.20 L666.89,378.20 L668.60,378.20" fill="none" stroke="#203e66" stroke-width="2.6" stroke-linejoin="round"/>
<polygon points="558.4,441.8 564.3,436.5 582.2,454.0 619.7,420.3 625.0,425.9 582.0,465.5" fill="#3f8a2a"/>
<rect x="381.30" y="360.20" width="287.90" height="187.20" fill="none" stroke="#000" stroke-width="1.5"/>
<line x1="379.50" y1="542.10" x2="381.30" y2="542.10" stroke="#444" stroke-width="0.8"/>
<text x="377.70" y="545.50" font-size="9.6" font-weight="bold" textLength="14.3" lengthAdjust="spacingAndGlyphs" text-anchor="end" fill="#111" stroke="#111" stroke-width="0.3">0.0</text>
<line x1="379.50" y1="509.32" x2="381.30" y2="509.32" stroke="#444" stroke-width="0.8"/>
<text x="377.70" y="512.72" font-size="9.6" font-weight="bold" textLength="14.3" lengthAdjust="spacingAndGlyphs" text-anchor="end" fill="#111" stroke="#111" stroke-width="0.3">0.2</text>
<line x1="379.50" y1="476.54" x2="381.30" y2="476.54" stroke="#444" stroke-width="0.8"/>
<text x="377.70" y="479.94" font-size="9.6" font-weight="bold" textLength="14.3" lengthAdjust="spacingAndGlyphs" text-anchor="end" fill="#111" stroke="#111" stroke-width="0.3">0.4</text>
<line x1="379.50" y1="443.76" x2="381.30" y2="443.76" stroke="#444" stroke-width="0.8"/>
<text x="377.70" y="447.16" font-size="9.6" font-weight="bold" textLength="14.3" lengthAdjust="spacingAndGlyphs" text-anchor="end" fill="#111" stroke="#111" stroke-width="0.3">0.6</text>
<line x1="379.50" y1="410.98" x2="381.30" y2="410.98" stroke="#444" stroke-width="0.8"/>
<text x="377.70" y="414.38" font-size="9.6" font-weight="bold" textLength="14.3" lengthAdjust="spacingAndGlyphs" text-anchor="end" fill="#111" stroke="#111" stroke-width="0.3">0.8</text>
<line x1="379.50" y1="378.20" x2="381.30" y2="378.20" stroke="#444" stroke-width="0.8"/>
<text x="377.70" y="381.60" font-size="9.6" font-weight="bold" textLength="14.3" lengthAdjust="spacingAndGlyphs" text-anchor="end" fill="#111" stroke="#111" stroke-width="0.3">1.0</text>
<line x1="394.60" y1="547.40" x2="394.60" y2="549.20" stroke="#444" stroke-width="0.8"/>
<text x="394.60" y="557.30" font-size="9.6" font-weight="bold" textLength="14.4" lengthAdjust="spacingAndGlyphs" text-anchor="middle" fill="#111" stroke="#111" stroke-width="0.3">0.0</text>
<line x1="428.85" y1="547.40" x2="428.85" y2="549.20" stroke="#444" stroke-width="0.8"/>
<text x="428.85" y="557.30" font-size="9.6" font-weight="bold" textLength="14.4" lengthAdjust="spacingAndGlyphs" text-anchor="middle" fill="#111" stroke="#111" stroke-width="0.3">0.5</text>
<line x1="463.10" y1="547.40" x2="463.10" y2="549.20" stroke="#444" stroke-width="0.8"/>
<text x="463.10" y="557.30" font-size="9.6" font-weight="bold" textLength="14.4" lengthAdjust="spacingAndGlyphs" text-anchor="middle" fill="#111" stroke="#111" stroke-width="0.3">1.0</text>
<line x1="497.35" y1="547.40" x2="497.35" y2="549.20" stroke="#444" stroke-width="0.8"/>
<text x="497.35" y="557.30" font-size="9.6" font-weight="bold" textLength="14.4" lengthAdjust="spacingAndGlyphs" text-anchor="middle" fill="#111" stroke="#111" stroke-width="0.3">1.5</text>
<line x1="531.60" y1="547.40" x2="531.60" y2="549.20" stroke="#444" stroke-width="0.8"/>
<text x="531.60" y="557.30" font-size="9.6" font-weight="bold" textLength="14.4" lengthAdjust="spacingAndGlyphs" text-anchor="middle" fill="#111" stroke="#111" stroke-width="0.3">2.0</text>
<line x1="565.85" y1="547.40" x2="565.85" y2="549.20" stroke="#444" stroke-width="0.8"/>
<text x="565.85" y="557.30" font-size="9.6" font-weight="bold" textLength="14.4" lengthAdjust="spacingAndGlyphs" text-anchor="middle" fill="#111" stroke="#111" stroke-width="0.3">2.5</text>
<line x1="600.10" y1="547.40" x2="600.10" y2="549.20" stroke="#444" stroke-width="0.8"/>
<text x="600.10" y="557.30" font-size="9.6" font-weight="bold" textLength="14.4" lengthAdjust="spacingAndGlyphs" text-anchor="middle" fill="#111" stroke="#111" stroke-width="0.3">3.0</text>
<line x1="634.35" y1="547.40" x2="634.35" y2="549.20" stroke="#444" stroke-width="0.8"/>
<text x="634.35" y="557.30" font-size="9.6" font-weight="bold" textLength="14.4" lengthAdjust="spacingAndGlyphs" text-anchor="middle" fill="#111" stroke="#111" stroke-width="0.3">3.5</text>
<line x1="668.60" y1="547.40" x2="668.60" y2="549.20" stroke="#444" stroke-width="0.8"/>
<text x="668.60" y="557.30" font-size="9.6" font-weight="bold" textLength="14.4" lengthAdjust="spacingAndGlyphs" text-anchor="middle" fill="#111" stroke="#111" stroke-width="0.3">4.0</text>
<text x="524.75" y="568.00" font-size="10.2" font-weight="bold" textLength="47.6" lengthAdjust="spacingAndGlyphs" text-anchor="middle" fill="#111" stroke="#111" stroke-width="0.35">Time (h)</text>
<text transform="translate(358.80,453.40) rotate(-90)" x="0" y="0" font-size="10" font-weight="bold" stroke="#111" stroke-width="0.35" textLength="194.3" lengthAdjust="spacingAndGlyphs" text-anchor="middle" fill="#111">Relative aggregate concentration</text>
<circle cx="530.90" cy="488.10" r="4" fill="#203e66"/>
<text x="541.20" y="491.50" font-size="10" textLength="94.8" lengthAdjust="spacingAndGlyphs" fill="#1e1e1e">2 <tspan font-style="italic">μ</tspan>M Control seeds</text>
<circle cx="530.90" cy="500.10" r="4" fill="#d55f1d"/>
<text x="541.20" y="503.50" font-size="10" textLength="104.7" lengthAdjust="spacingAndGlyphs" fill="#1e1e1e">2 <tspan font-style="italic">μ</tspan>M Annealed seeds</text>
<circle cx="530.90" cy="512.10" r="4" fill="#3f86c6"/>
<text x="541.20" y="515.50" font-size="10" textLength="104.3" lengthAdjust="spacingAndGlyphs" fill="#1e1e1e">0.1 <tspan font-style="italic">μ</tspan>M Control seeds</text>
<circle cx="530.90" cy="524.10" r="4" fill="#f0b27c"/>
<text x="541.20" y="527.50" font-size="10" textLength="113.9" lengthAdjust="spacingAndGlyphs" fill="#1e1e1e">0.1 <tspan font-style="italic">μ</tspan>M Annealed seeds</text>
</svg></body></html>
